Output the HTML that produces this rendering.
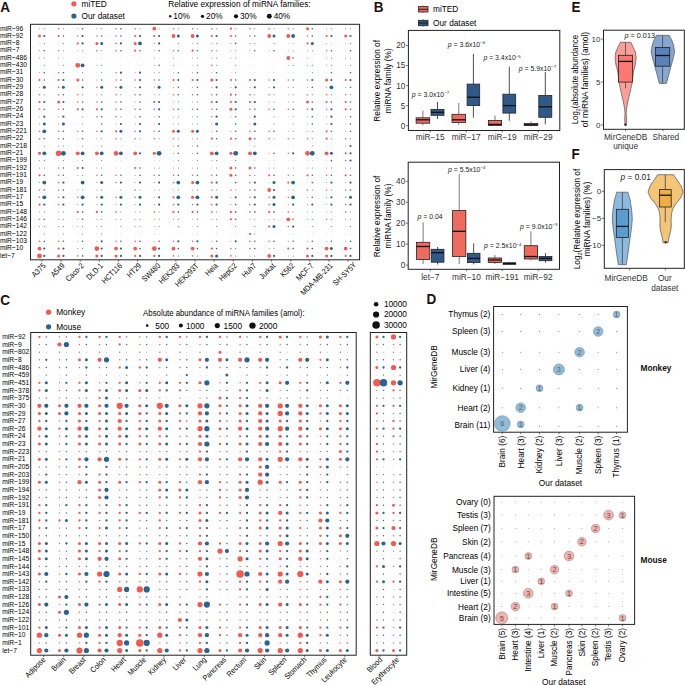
<!DOCTYPE html>
<html><head><meta charset="utf-8"><style>
html,body{margin:0;padding:0;background:#fff;overflow:hidden;width:685px;height:685px;}
svg{display:block;}
text{font-family:"Liberation Sans", sans-serif;}
</style></head><body>
<svg width="685" height="685" viewBox="0 0 685 685">
<rect width="685" height="685" fill="#fff"/>
<text x="0" y="0" font-size="15.2" transform="translate(0.30 11.80) scale(0.89 1)" font-weight="bold" fill="#1a1212">A</text>
<text x="0" y="0" font-size="15.2" transform="translate(373.80 12.10) scale(0.89 1)" font-weight="bold" fill="#1a1212">B</text>
<text x="0" y="0" font-size="15.2" transform="translate(0.30 304.60) scale(0.89 1)" font-weight="bold" fill="#1a1212">C</text>
<text x="0" y="0" font-size="15.2" transform="translate(426.50 304.20) scale(0.89 1)" font-weight="bold" fill="#1a1212">D</text>
<text x="0" y="0" font-size="15.2" transform="translate(571.60 12.30) scale(0.89 1)" font-weight="bold" fill="#1a1212">E</text>
<text x="0" y="0" font-size="15.2" transform="translate(571.40 158.90) scale(0.89 1)" font-weight="bold" fill="#1a1212">F</text>
<rect x="30.50" y="24.30" width="329.10" height="235.50" fill="none" stroke="#222" stroke-width="1.0"/>
<text x="0" y="0" font-size="7.6" transform="translate(0.00 30.50) scale(0.88 1)">miR−96</text>
<text x="0" y="0" font-size="7.6" transform="translate(0.00 37.83) scale(0.88 1)">miR−92</text>
<text x="0" y="0" font-size="7.6" transform="translate(0.00 45.16) scale(0.88 1)">miR−8</text>
<text x="0" y="0" font-size="7.6" transform="translate(0.00 52.49) scale(0.88 1)">miR−7</text>
<text x="0" y="0" font-size="7.6" transform="translate(0.00 59.82) scale(0.88 1)">miR−486</text>
<text x="0" y="0" font-size="7.6" transform="translate(0.00 67.15) scale(0.88 1)">miR−430</text>
<text x="0" y="0" font-size="7.6" transform="translate(0.00 74.48) scale(0.88 1)">miR−31</text>
<text x="0" y="0" font-size="7.6" transform="translate(0.00 81.81) scale(0.88 1)">miR−30</text>
<text x="0" y="0" font-size="7.6" transform="translate(0.00 89.14) scale(0.88 1)">miR−29</text>
<text x="0" y="0" font-size="7.6" transform="translate(0.00 96.47) scale(0.88 1)">miR−28</text>
<text x="0" y="0" font-size="7.6" transform="translate(0.00 103.80) scale(0.88 1)">miR−27</text>
<text x="0" y="0" font-size="7.6" transform="translate(0.00 111.13) scale(0.88 1)">miR−26</text>
<text x="0" y="0" font-size="7.6" transform="translate(0.00 118.46) scale(0.88 1)">miR−24</text>
<text x="0" y="0" font-size="7.6" transform="translate(0.00 125.79) scale(0.88 1)">miR−23</text>
<text x="0" y="0" font-size="7.6" transform="translate(0.00 133.12) scale(0.88 1)">miR−221</text>
<text x="0" y="0" font-size="7.6" transform="translate(0.00 140.45) scale(0.88 1)">miR−22</text>
<text x="0" y="0" font-size="7.6" transform="translate(0.00 147.78) scale(0.88 1)">miR−218</text>
<text x="0" y="0" font-size="7.6" transform="translate(0.00 155.11) scale(0.88 1)">miR−21</text>
<text x="0" y="0" font-size="7.6" transform="translate(0.00 162.44) scale(0.88 1)">miR−199</text>
<text x="0" y="0" font-size="7.6" transform="translate(0.00 169.77) scale(0.88 1)">miR−192</text>
<text x="0" y="0" font-size="7.6" transform="translate(0.00 177.10) scale(0.88 1)">miR−191</text>
<text x="0" y="0" font-size="7.6" transform="translate(0.00 184.43) scale(0.88 1)">miR−19</text>
<text x="0" y="0" font-size="7.6" transform="translate(0.00 191.76) scale(0.88 1)">miR−181</text>
<text x="0" y="0" font-size="7.6" transform="translate(0.00 199.09) scale(0.88 1)">miR−17</text>
<text x="0" y="0" font-size="7.6" transform="translate(0.00 206.42) scale(0.88 1)">miR−15</text>
<text x="0" y="0" font-size="7.6" transform="translate(0.00 213.75) scale(0.88 1)">miR−148</text>
<text x="0" y="0" font-size="7.6" transform="translate(0.00 221.08) scale(0.88 1)">miR−146</text>
<text x="0" y="0" font-size="7.6" transform="translate(0.00 228.41) scale(0.88 1)">miR−142</text>
<text x="0" y="0" font-size="7.6" transform="translate(0.00 235.74) scale(0.88 1)">miR−122</text>
<text x="0" y="0" font-size="7.6" transform="translate(0.00 243.07) scale(0.88 1)">miR−103</text>
<text x="0" y="0" font-size="7.6" transform="translate(0.00 250.40) scale(0.88 1)">miR−10</text>
<text x="0" y="0" font-size="7.6" transform="translate(0.00 257.73) scale(0.88 1)">let−7</text>
<line x1="41.90" y1="259.80" x2="41.90" y2="261.80" stroke="#222" stroke-width="0.6"/>
<text x="0" y="0" font-size="8.0" transform="translate(46.10 266.40) rotate(-45) scale(0.86 1)" text-anchor="end">A375</text>
<line x1="61.04" y1="259.80" x2="61.04" y2="261.80" stroke="#222" stroke-width="0.6"/>
<text x="0" y="0" font-size="8.0" transform="translate(65.24 266.40) rotate(-45) scale(0.86 1)" text-anchor="end">A549</text>
<line x1="80.18" y1="259.80" x2="80.18" y2="261.80" stroke="#222" stroke-width="0.6"/>
<text x="0" y="0" font-size="8.0" transform="translate(84.38 266.40) rotate(-45) scale(0.86 1)" text-anchor="end">Caco-2</text>
<line x1="99.32" y1="259.80" x2="99.32" y2="261.80" stroke="#222" stroke-width="0.6"/>
<text x="0" y="0" font-size="8.0" transform="translate(103.52 266.40) rotate(-45) scale(0.86 1)" text-anchor="end">DLD-1</text>
<line x1="118.46" y1="259.80" x2="118.46" y2="261.80" stroke="#222" stroke-width="0.6"/>
<text x="0" y="0" font-size="8.0" transform="translate(122.66 266.40) rotate(-45) scale(0.86 1)" text-anchor="end">HCT116</text>
<line x1="137.60" y1="259.80" x2="137.60" y2="261.80" stroke="#222" stroke-width="0.6"/>
<text x="0" y="0" font-size="8.0" transform="translate(141.80 266.40) rotate(-45) scale(0.86 1)" text-anchor="end">HT29</text>
<line x1="156.74" y1="259.80" x2="156.74" y2="261.80" stroke="#222" stroke-width="0.6"/>
<text x="0" y="0" font-size="8.0" transform="translate(160.94 266.40) rotate(-45) scale(0.86 1)" text-anchor="end">SW480</text>
<line x1="175.88" y1="259.80" x2="175.88" y2="261.80" stroke="#222" stroke-width="0.6"/>
<text x="0" y="0" font-size="8.0" transform="translate(180.08 266.40) rotate(-45) scale(0.86 1)" text-anchor="end">HEK293</text>
<line x1="195.02" y1="259.80" x2="195.02" y2="261.80" stroke="#222" stroke-width="0.6"/>
<text x="0" y="0" font-size="8.0" transform="translate(199.22 266.40) rotate(-45) scale(0.86 1)" text-anchor="end">HEK293T</text>
<line x1="214.16" y1="259.80" x2="214.16" y2="261.80" stroke="#222" stroke-width="0.6"/>
<text x="0" y="0" font-size="8.0" transform="translate(218.36 266.40) rotate(-45) scale(0.86 1)" text-anchor="end">Hela</text>
<line x1="233.30" y1="259.80" x2="233.30" y2="261.80" stroke="#222" stroke-width="0.6"/>
<text x="0" y="0" font-size="8.0" transform="translate(237.50 266.40) rotate(-45) scale(0.86 1)" text-anchor="end">HepG2</text>
<line x1="252.44" y1="259.80" x2="252.44" y2="261.80" stroke="#222" stroke-width="0.6"/>
<text x="0" y="0" font-size="8.0" transform="translate(256.64 266.40) rotate(-45) scale(0.86 1)" text-anchor="end">Huh7</text>
<line x1="271.58" y1="259.80" x2="271.58" y2="261.80" stroke="#222" stroke-width="0.6"/>
<text x="0" y="0" font-size="8.0" transform="translate(275.78 266.40) rotate(-45) scale(0.86 1)" text-anchor="end">Jurkat</text>
<line x1="290.72" y1="259.80" x2="290.72" y2="261.80" stroke="#222" stroke-width="0.6"/>
<text x="0" y="0" font-size="8.0" transform="translate(294.92 266.40) rotate(-45) scale(0.86 1)" text-anchor="end">K562</text>
<line x1="309.86" y1="259.80" x2="309.86" y2="261.80" stroke="#222" stroke-width="0.6"/>
<text x="0" y="0" font-size="8.0" transform="translate(314.06 266.40) rotate(-45) scale(0.86 1)" text-anchor="end">MCF-7</text>
<line x1="329.00" y1="259.80" x2="329.00" y2="261.80" stroke="#222" stroke-width="0.6"/>
<text x="0" y="0" font-size="8.0" transform="translate(333.20 266.40) rotate(-45) scale(0.86 1)" text-anchor="end">MDA-MB-231</text>
<line x1="348.14" y1="259.80" x2="348.14" y2="261.80" stroke="#222" stroke-width="0.6"/>
<text x="0" y="0" font-size="8.0" transform="translate(356.84 265.50) rotate(-45) scale(0.86 1)" text-anchor="end">SH-SY5Y</text>
<circle cx="73.90" cy="3.80" r="2.60" fill="#F4594F"/>
<text x="81.50" y="6.60" font-size="8.3">miTED</text>
<circle cx="73.90" cy="16.00" r="2.60" fill="#2A6390"/>
<text x="81.50" y="18.90" font-size="8.3">Our dataset</text>
<text x="168.20" y="6.60" font-size="8.3">Relative expression of miRNA families:</text>
<circle cx="170.20" cy="16.30" r="1.20" fill="#111"/>
<text x="173.30" y="19.10" font-size="8.3">10%</text>
<circle cx="202.50" cy="16.30" r="1.65" fill="#111"/>
<text x="206.05" y="19.10" font-size="8.3">20%</text>
<circle cx="236.00" cy="16.30" r="2.10" fill="#111"/>
<text x="240.00" y="19.10" font-size="8.3">30%</text>
<circle cx="269.30" cy="16.30" r="2.45" fill="#111"/>
<text x="273.65" y="19.10" font-size="8.3">40%</text>
<rect x="30.70" y="332.50" width="325.50" height="322.70" fill="none" stroke="#222" stroke-width="1.0"/>
<rect x="370.30" y="332.50" width="36.40" height="322.70" fill="none" stroke="#222" stroke-width="1.0"/>
<text x="0" y="0" font-size="7.8" transform="translate(2.20 339.00) scale(0.86 1)">miR−92</text>
<text x="0" y="0" font-size="7.8" transform="translate(2.20 346.65) scale(0.86 1)">miR−9</text>
<text x="0" y="0" font-size="7.8" transform="translate(2.20 354.30) scale(0.86 1)">miR−802</text>
<text x="0" y="0" font-size="7.8" transform="translate(2.20 361.95) scale(0.86 1)">miR−8</text>
<text x="0" y="0" font-size="7.8" transform="translate(2.20 369.60) scale(0.86 1)">miR−486</text>
<text x="0" y="0" font-size="7.8" transform="translate(2.20 377.25) scale(0.86 1)">miR−459</text>
<text x="0" y="0" font-size="7.8" transform="translate(2.20 384.90) scale(0.86 1)">miR−451</text>
<text x="0" y="0" font-size="7.8" transform="translate(2.20 392.55) scale(0.86 1)">miR−378</text>
<text x="0" y="0" font-size="7.8" transform="translate(2.20 400.20) scale(0.86 1)">miR−375</text>
<text x="0" y="0" font-size="7.8" transform="translate(2.20 407.85) scale(0.86 1)">miR−30</text>
<text x="0" y="0" font-size="7.8" transform="translate(2.20 415.50) scale(0.86 1)">miR−29</text>
<text x="0" y="0" font-size="7.8" transform="translate(2.20 423.15) scale(0.86 1)">miR−27</text>
<text x="0" y="0" font-size="7.8" transform="translate(2.20 430.80) scale(0.86 1)">miR−26</text>
<text x="0" y="0" font-size="7.8" transform="translate(2.20 438.45) scale(0.86 1)">miR−24</text>
<text x="0" y="0" font-size="7.8" transform="translate(2.20 446.10) scale(0.86 1)">miR−23</text>
<text x="0" y="0" font-size="7.8" transform="translate(2.20 453.75) scale(0.86 1)">miR−223</text>
<text x="0" y="0" font-size="7.8" transform="translate(2.20 461.40) scale(0.86 1)">miR−21</text>
<text x="0" y="0" font-size="7.8" transform="translate(2.20 469.05) scale(0.86 1)">miR−205</text>
<text x="0" y="0" font-size="7.8" transform="translate(2.20 476.70) scale(0.86 1)">miR−203</text>
<text x="0" y="0" font-size="7.8" transform="translate(2.20 484.35) scale(0.86 1)">miR−199</text>
<text x="0" y="0" font-size="7.8" transform="translate(2.20 492.00) scale(0.86 1)">miR−194</text>
<text x="0" y="0" font-size="7.8" transform="translate(2.20 499.65) scale(0.86 1)">miR−192</text>
<text x="0" y="0" font-size="7.8" transform="translate(2.20 507.30) scale(0.86 1)">miR−191</text>
<text x="0" y="0" font-size="7.8" transform="translate(2.20 514.95) scale(0.86 1)">miR−19</text>
<text x="0" y="0" font-size="7.8" transform="translate(2.20 522.60) scale(0.86 1)">miR−181</text>
<text x="0" y="0" font-size="7.8" transform="translate(2.20 530.25) scale(0.86 1)">miR−17</text>
<text x="0" y="0" font-size="7.8" transform="translate(2.20 537.90) scale(0.86 1)">miR−150</text>
<text x="0" y="0" font-size="7.8" transform="translate(2.20 545.55) scale(0.86 1)">miR−15</text>
<text x="0" y="0" font-size="7.8" transform="translate(2.20 553.20) scale(0.86 1)">miR−148</text>
<text x="0" y="0" font-size="7.8" transform="translate(2.20 560.85) scale(0.86 1)">miR−145</text>
<text x="0" y="0" font-size="7.8" transform="translate(2.20 568.50) scale(0.86 1)">miR−144</text>
<text x="0" y="0" font-size="7.8" transform="translate(2.20 576.15) scale(0.86 1)">miR−143</text>
<text x="0" y="0" font-size="7.8" transform="translate(2.20 583.80) scale(0.86 1)">miR−142</text>
<text x="0" y="0" font-size="7.8" transform="translate(2.20 591.45) scale(0.86 1)">miR−133</text>
<text x="0" y="0" font-size="7.8" transform="translate(2.20 599.10) scale(0.86 1)">miR−128</text>
<text x="0" y="0" font-size="7.8" transform="translate(2.20 606.75) scale(0.86 1)">miR−126</text>
<text x="0" y="0" font-size="7.8" transform="translate(2.20 614.40) scale(0.86 1)">miR−124</text>
<text x="0" y="0" font-size="7.8" transform="translate(2.20 622.05) scale(0.86 1)">miR−122</text>
<text x="0" y="0" font-size="7.8" transform="translate(2.20 629.70) scale(0.86 1)">miR−101</text>
<text x="0" y="0" font-size="7.8" transform="translate(2.20 637.35) scale(0.86 1)">miR−10</text>
<text x="0" y="0" font-size="7.8" transform="translate(2.20 645.00) scale(0.86 1)">miR−1</text>
<text x="0" y="0" font-size="7.8" transform="translate(2.20 652.65) scale(0.86 1)">let−7</text>
<line x1="43.70" y1="655.20" x2="43.70" y2="657.20" stroke="#222" stroke-width="0.6"/>
<text x="0" y="0" font-size="7.8" transform="translate(46.10 660.30) rotate(-45) scale(0.9 1)" text-anchor="end">Adipose</text>
<line x1="63.77" y1="655.20" x2="63.77" y2="657.20" stroke="#222" stroke-width="0.6"/>
<text x="0" y="0" font-size="7.8" transform="translate(66.17 660.30) rotate(-45) scale(0.9 1)" text-anchor="end">Brain</text>
<line x1="83.84" y1="655.20" x2="83.84" y2="657.20" stroke="#222" stroke-width="0.6"/>
<text x="0" y="0" font-size="7.8" transform="translate(86.24 660.30) rotate(-45) scale(0.9 1)" text-anchor="end">Breast</text>
<line x1="103.91" y1="655.20" x2="103.91" y2="657.20" stroke="#222" stroke-width="0.6"/>
<text x="0" y="0" font-size="7.8" transform="translate(106.31 660.30) rotate(-45) scale(0.9 1)" text-anchor="end">Colon</text>
<line x1="123.98" y1="655.20" x2="123.98" y2="657.20" stroke="#222" stroke-width="0.6"/>
<text x="0" y="0" font-size="7.8" transform="translate(126.38 660.30) rotate(-45) scale(0.9 1)" text-anchor="end">Heart</text>
<line x1="144.05" y1="655.20" x2="144.05" y2="657.20" stroke="#222" stroke-width="0.6"/>
<text x="0" y="0" font-size="7.8" transform="translate(146.45 660.30) rotate(-45) scale(0.9 1)" text-anchor="end">Muscle</text>
<line x1="164.12" y1="655.20" x2="164.12" y2="657.20" stroke="#222" stroke-width="0.6"/>
<text x="0" y="0" font-size="7.8" transform="translate(166.52 660.30) rotate(-45) scale(0.9 1)" text-anchor="end">Kidney</text>
<line x1="184.19" y1="655.20" x2="184.19" y2="657.20" stroke="#222" stroke-width="0.6"/>
<text x="0" y="0" font-size="7.8" transform="translate(186.59 660.30) rotate(-45) scale(0.9 1)" text-anchor="end">Liver</text>
<line x1="204.26" y1="655.20" x2="204.26" y2="657.20" stroke="#222" stroke-width="0.6"/>
<text x="0" y="0" font-size="7.8" transform="translate(206.66 660.30) rotate(-45) scale(0.9 1)" text-anchor="end">Lung</text>
<line x1="224.33" y1="655.20" x2="224.33" y2="657.20" stroke="#222" stroke-width="0.6"/>
<text x="0" y="0" font-size="7.8" transform="translate(226.73 660.30) rotate(-45) scale(0.9 1)" text-anchor="end">Pancreas</text>
<line x1="244.40" y1="655.20" x2="244.40" y2="657.20" stroke="#222" stroke-width="0.6"/>
<text x="0" y="0" font-size="7.8" transform="translate(246.80 660.30) rotate(-45) scale(0.9 1)" text-anchor="end">Rectum</text>
<line x1="264.47" y1="655.20" x2="264.47" y2="657.20" stroke="#222" stroke-width="0.6"/>
<text x="0" y="0" font-size="7.8" transform="translate(266.87 660.30) rotate(-45) scale(0.9 1)" text-anchor="end">Skin</text>
<line x1="284.54" y1="655.20" x2="284.54" y2="657.20" stroke="#222" stroke-width="0.6"/>
<text x="0" y="0" font-size="7.8" transform="translate(286.94 660.30) rotate(-45) scale(0.9 1)" text-anchor="end">Spleen</text>
<line x1="304.61" y1="655.20" x2="304.61" y2="657.20" stroke="#222" stroke-width="0.6"/>
<text x="0" y="0" font-size="7.8" transform="translate(307.01 660.30) rotate(-45) scale(0.9 1)" text-anchor="end">Stomach</text>
<line x1="324.68" y1="655.20" x2="324.68" y2="657.20" stroke="#222" stroke-width="0.6"/>
<text x="0" y="0" font-size="7.8" transform="translate(327.08 660.30) rotate(-45) scale(0.9 1)" text-anchor="end">Thymus</text>
<line x1="344.75" y1="655.20" x2="344.75" y2="657.20" stroke="#222" stroke-width="0.6"/>
<text x="0" y="0" font-size="7.8" transform="translate(347.15 660.30) rotate(-45) scale(0.9 1)" text-anchor="end">Leukocyte</text>
<line x1="380.10" y1="655.20" x2="380.10" y2="657.20" stroke="#222" stroke-width="0.6"/>
<text x="0" y="0" font-size="7.8" transform="translate(382.70 660.30) rotate(-45) scale(0.9 1)" text-anchor="end">Blood</text>
<line x1="396.90" y1="655.20" x2="396.90" y2="657.20" stroke="#222" stroke-width="0.6"/>
<text x="0" y="0" font-size="7.8" transform="translate(399.50 660.30) rotate(-45) scale(0.9 1)" text-anchor="end">Erythrocyte</text>
<circle cx="48.60" cy="312.20" r="2.60" fill="#F4594F"/>
<text x="56.20" y="315.10" font-size="8.3">Monkey</text>
<circle cx="48.60" cy="326.80" r="2.60" fill="#2A6390"/>
<text x="56.20" y="329.70" font-size="8.3">Mouse</text>
<text x="143.10" y="316.00" font-size="8.3" textLength="161.5" lengthAdjust="spacingAndGlyphs">Absolute abundance of miRNA families (amol):</text>
<circle cx="147.20" cy="325.60" r="1.30" fill="#111"/>
<text x="155.30" y="328.50" font-size="8.3">500</text>
<circle cx="180.90" cy="325.60" r="2.00" fill="#111"/>
<text x="186.00" y="328.50" font-size="8.3">1000</text>
<circle cx="217.30" cy="325.60" r="2.60" fill="#111"/>
<text x="223.60" y="328.50" font-size="8.3">1500</text>
<circle cx="252.50" cy="325.60" r="3.20" fill="#111"/>
<text x="258.90" y="328.50" font-size="8.3">2000</text>
<circle cx="376.10" cy="304.30" r="2.30" fill="#111"/>
<text x="383.90" y="307.20" font-size="8.3">10000</text>
<circle cx="376.10" cy="314.50" r="3.10" fill="#111"/>
<text x="383.90" y="317.40" font-size="8.3">20000</text>
<circle cx="376.10" cy="325.00" r="3.80" fill="#111"/>
<text x="383.90" y="327.90" font-size="8.3">30000</text>
<line x1="423.20" y1="5.70" x2="423.20" y2="12.90" stroke="#222" stroke-width="0.7"/>
<rect x="418.50" y="6.60" width="9.50" height="5.40" fill="#EE6A5F" stroke="#222" stroke-width="0.8"/>
<line x1="418.50" y1="9.30" x2="428.00" y2="9.30" stroke="#111" stroke-width="0.9"/>
<text x="433.00" y="12.30" font-size="8.3">miTED</text>
<line x1="423.20" y1="19.40" x2="423.20" y2="26.60" stroke="#222" stroke-width="0.7"/>
<rect x="418.50" y="20.30" width="9.50" height="5.40" fill="#30598A" stroke="#222" stroke-width="0.8"/>
<line x1="418.50" y1="23.00" x2="428.00" y2="23.00" stroke="#111" stroke-width="0.9"/>
<text x="433.00" y="26.00" font-size="8.3">Our dataset</text>
<rect x="408.40" y="30.40" width="151.40" height="100.10" fill="none" stroke="#222" stroke-width="1.0"/>
<line x1="406.00" y1="125.70" x2="408.40" y2="125.70" stroke="#222" stroke-width="0.6"/>
<text x="405.40" y="128.60" font-size="8.2" text-anchor="end" fill="#333">0</text>
<line x1="406.00" y1="105.65" x2="408.40" y2="105.65" stroke="#222" stroke-width="0.6"/>
<text x="405.40" y="108.55" font-size="8.2" text-anchor="end" fill="#333">5</text>
<line x1="406.00" y1="85.60" x2="408.40" y2="85.60" stroke="#222" stroke-width="0.6"/>
<text x="405.40" y="88.50" font-size="8.2" text-anchor="end" fill="#333">10</text>
<line x1="406.00" y1="65.55" x2="408.40" y2="65.55" stroke="#222" stroke-width="0.6"/>
<text x="405.40" y="68.45" font-size="8.2" text-anchor="end" fill="#333">15</text>
<line x1="406.00" y1="45.50" x2="408.40" y2="45.50" stroke="#222" stroke-width="0.6"/>
<text x="405.40" y="48.40" font-size="8.2" text-anchor="end" fill="#333">20</text>
<text x="380.00" y="80.80" font-size="8.3" text-anchor="middle" transform="rotate(-90 380.00 80.80)">Relative expression of</text>
<text x="391.00" y="80.80" font-size="8.3" text-anchor="middle" transform="rotate(-90 391.00 80.80)">miRNA family (%)</text>
<line x1="422.90" y1="110.60" x2="422.90" y2="117.80" stroke="#7a7a7a" stroke-width="1.0"/>
<line x1="422.90" y1="123.20" x2="422.90" y2="125.40" stroke="#7a7a7a" stroke-width="1.0"/>
<rect x="416.10" y="117.80" width="13.60" height="5.40" fill="#EE6A5F" stroke="#222" stroke-width="0.8"/>
<line x1="416.10" y1="119.80" x2="429.70" y2="119.80" stroke="#111" stroke-width="1.3"/>
<line x1="437.50" y1="101.90" x2="437.50" y2="109.40" stroke="#222" stroke-width="0.8"/>
<line x1="437.50" y1="115.30" x2="437.50" y2="119.00" stroke="#222" stroke-width="0.8"/>
<rect x="431.00" y="109.40" width="13.00" height="5.90" fill="#30598A" stroke="#222" stroke-width="0.8"/>
<line x1="431.00" y1="112.30" x2="444.00" y2="112.30" stroke="#111" stroke-width="1.3"/>
<line x1="458.80" y1="103.00" x2="458.80" y2="114.30" stroke="#7a7a7a" stroke-width="1.0"/>
<line x1="458.80" y1="122.40" x2="458.80" y2="124.90" stroke="#7a7a7a" stroke-width="1.0"/>
<rect x="452.00" y="114.30" width="13.60" height="8.10" fill="#EE6A5F" stroke="#222" stroke-width="0.8"/>
<line x1="452.00" y1="119.80" x2="465.60" y2="119.80" stroke="#111" stroke-width="1.3"/>
<line x1="473.40" y1="53.90" x2="473.40" y2="84.10" stroke="#222" stroke-width="0.8"/>
<line x1="473.40" y1="105.60" x2="473.40" y2="117.70" stroke="#222" stroke-width="0.8"/>
<rect x="467.10" y="84.10" width="12.60" height="21.50" fill="#30598A" stroke="#222" stroke-width="0.8"/>
<line x1="467.10" y1="97.20" x2="479.70" y2="97.20" stroke="#111" stroke-width="1.3"/>
<line x1="495.00" y1="115.60" x2="495.00" y2="120.40" stroke="#7a7a7a" stroke-width="1.0"/>
<line x1="495.00" y1="125.40" x2="495.00" y2="125.60" stroke="#7a7a7a" stroke-width="1.0"/>
<rect x="488.40" y="120.40" width="13.20" height="5.00" fill="#EE6A5F" stroke="#222" stroke-width="0.8"/>
<line x1="488.40" y1="124.40" x2="501.60" y2="124.40" stroke="#111" stroke-width="1.3"/>
<line x1="509.30" y1="66.60" x2="509.30" y2="94.20" stroke="#222" stroke-width="0.8"/>
<line x1="509.30" y1="113.10" x2="509.30" y2="120.70" stroke="#222" stroke-width="0.8"/>
<rect x="502.90" y="94.20" width="12.80" height="18.90" fill="#30598A" stroke="#222" stroke-width="0.8"/>
<line x1="502.90" y1="105.60" x2="515.70" y2="105.60" stroke="#111" stroke-width="1.3"/>
<line x1="531.00" y1="121.50" x2="531.00" y2="123.50" stroke="#7a7a7a" stroke-width="1.0"/>
<line x1="531.00" y1="125.40" x2="531.00" y2="125.70" stroke="#7a7a7a" stroke-width="1.0"/>
<rect x="524.20" y="123.50" width="13.60" height="1.90" fill="#EE6A5F" stroke="#222" stroke-width="0.8"/>
<line x1="524.20" y1="124.80" x2="537.80" y2="124.80" stroke="#111" stroke-width="1.3"/>
<line x1="545.30" y1="72.00" x2="545.30" y2="95.50" stroke="#222" stroke-width="0.8"/>
<line x1="545.30" y1="117.30" x2="545.30" y2="124.40" stroke="#222" stroke-width="0.8"/>
<rect x="538.80" y="95.50" width="13.00" height="21.80" fill="#30598A" stroke="#222" stroke-width="0.8"/>
<line x1="538.80" y1="106.80" x2="551.80" y2="106.80" stroke="#111" stroke-width="1.3"/>
<line x1="430.20" y1="130.50" x2="430.20" y2="132.50" stroke="#222" stroke-width="0.6"/>
<text x="430.20" y="140.30" font-size="8.3" text-anchor="middle" fill="#333">miR−15</text>
<line x1="466.20" y1="130.50" x2="466.20" y2="132.50" stroke="#222" stroke-width="0.6"/>
<text x="466.20" y="140.30" font-size="8.3" text-anchor="middle" fill="#333">miR−17</text>
<line x1="502.20" y1="130.50" x2="502.20" y2="132.50" stroke="#222" stroke-width="0.6"/>
<text x="502.20" y="140.30" font-size="8.3" text-anchor="middle" fill="#333">miR−19</text>
<line x1="538.20" y1="130.50" x2="538.20" y2="132.50" stroke="#222" stroke-width="0.6"/>
<text x="538.20" y="140.30" font-size="8.3" text-anchor="middle" fill="#333">miR−29</text>
<text x="411.80" y="96.50" font-size="6.9" fill="#222"><tspan font-style="italic">p</tspan> = 3.0x10<tspan font-size="4.4" dy="-2.7">−7</tspan></text>
<text x="447.80" y="47.00" font-size="6.9" fill="#222"><tspan font-style="italic">p</tspan> = 3.6x10<tspan font-size="4.4" dy="-2.7">−6</tspan></text>
<text x="483.40" y="60.40" font-size="6.9" fill="#222"><tspan font-style="italic">p</tspan> = 3.4x10<tspan font-size="4.4" dy="-2.7">−5</tspan></text>
<text x="518.70" y="70.50" font-size="6.9" fill="#222"><tspan font-style="italic">p</tspan> = 5.9x10<tspan font-size="4.4" dy="-2.7">−7</tspan></text>
<rect x="408.20" y="162.20" width="151.30" height="107.10" fill="none" stroke="#222" stroke-width="1.0"/>
<line x1="405.80" y1="265.10" x2="408.20" y2="265.10" stroke="#222" stroke-width="0.6"/>
<text x="405.20" y="268.00" font-size="8.2" text-anchor="end" fill="#333">0</text>
<line x1="405.80" y1="244.15" x2="408.20" y2="244.15" stroke="#222" stroke-width="0.6"/>
<text x="405.20" y="247.05" font-size="8.2" text-anchor="end" fill="#333">10</text>
<line x1="405.80" y1="223.20" x2="408.20" y2="223.20" stroke="#222" stroke-width="0.6"/>
<text x="405.20" y="226.10" font-size="8.2" text-anchor="end" fill="#333">20</text>
<line x1="405.80" y1="202.25" x2="408.20" y2="202.25" stroke="#222" stroke-width="0.6"/>
<text x="405.20" y="205.15" font-size="8.2" text-anchor="end" fill="#333">30</text>
<line x1="405.80" y1="181.30" x2="408.20" y2="181.30" stroke="#222" stroke-width="0.6"/>
<text x="405.20" y="184.20" font-size="8.2" text-anchor="end" fill="#333">40</text>
<text x="380.00" y="216.40" font-size="8.3" text-anchor="middle" transform="rotate(-90 380.00 216.40)">Relative expression of</text>
<text x="391.00" y="216.00" font-size="8.3" text-anchor="middle" transform="rotate(-90 391.00 216.00)">miRNA family (%)</text>
<line x1="423.10" y1="222.40" x2="423.10" y2="242.30" stroke="#7a7a7a" stroke-width="1.0"/>
<line x1="423.10" y1="259.40" x2="423.10" y2="264.10" stroke="#7a7a7a" stroke-width="1.0"/>
<rect x="416.45" y="242.30" width="13.30" height="17.10" fill="#EE6A5F" stroke="#222" stroke-width="0.8"/>
<line x1="416.45" y1="246.50" x2="429.75" y2="246.50" stroke="#111" stroke-width="1.3"/>
<line x1="437.60" y1="247.00" x2="437.60" y2="249.30" stroke="#222" stroke-width="0.8"/>
<line x1="437.60" y1="262.20" x2="437.60" y2="264.50" stroke="#222" stroke-width="0.8"/>
<rect x="431.25" y="249.30" width="12.70" height="12.90" fill="#30598A" stroke="#222" stroke-width="0.8"/>
<line x1="431.25" y1="252.70" x2="443.95" y2="252.70" stroke="#111" stroke-width="1.3"/>
<line x1="459.20" y1="174.00" x2="459.20" y2="210.60" stroke="#7a7a7a" stroke-width="1.0"/>
<line x1="459.20" y1="256.50" x2="459.20" y2="264.10" stroke="#7a7a7a" stroke-width="1.0"/>
<rect x="452.55" y="210.60" width="13.30" height="45.90" fill="#EE6A5F" stroke="#222" stroke-width="0.8"/>
<line x1="452.55" y1="231.30" x2="465.85" y2="231.30" stroke="#111" stroke-width="1.3"/>
<line x1="473.70" y1="243.30" x2="473.70" y2="253.30" stroke="#222" stroke-width="0.8"/>
<line x1="473.70" y1="262.60" x2="473.70" y2="264.40" stroke="#222" stroke-width="0.8"/>
<rect x="467.40" y="253.30" width="12.60" height="9.30" fill="#30598A" stroke="#222" stroke-width="0.8"/>
<line x1="467.40" y1="258.40" x2="480.00" y2="258.40" stroke="#111" stroke-width="1.3"/>
<line x1="494.90" y1="255.00" x2="494.90" y2="258.00" stroke="#7a7a7a" stroke-width="1.0"/>
<line x1="494.90" y1="262.40" x2="494.90" y2="264.00" stroke="#7a7a7a" stroke-width="1.0"/>
<rect x="488.25" y="258.00" width="13.30" height="4.40" fill="#EE6A5F" stroke="#222" stroke-width="0.8"/>
<line x1="488.25" y1="260.00" x2="501.55" y2="260.00" stroke="#111" stroke-width="1.3"/>
<line x1="509.40" y1="262.00" x2="509.40" y2="262.80" stroke="#222" stroke-width="0.8"/>
<line x1="509.40" y1="264.30" x2="509.40" y2="264.60" stroke="#222" stroke-width="0.8"/>
<rect x="503.05" y="262.80" width="12.70" height="1.50" fill="#30598A" stroke="#222" stroke-width="0.8"/>
<line x1="503.05" y1="263.50" x2="515.75" y2="263.50" stroke="#111" stroke-width="1.3"/>
<line x1="530.90" y1="231.30" x2="530.90" y2="245.70" stroke="#7a7a7a" stroke-width="1.0"/>
<line x1="530.90" y1="259.00" x2="530.90" y2="260.30" stroke="#7a7a7a" stroke-width="1.0"/>
<rect x="524.25" y="245.70" width="13.30" height="13.30" fill="#EE6A5F" stroke="#222" stroke-width="0.8"/>
<line x1="524.25" y1="256.50" x2="537.55" y2="256.50" stroke="#111" stroke-width="1.3"/>
<line x1="545.50" y1="253.10" x2="545.50" y2="256.50" stroke="#222" stroke-width="0.8"/>
<line x1="545.50" y1="260.70" x2="545.50" y2="262.60" stroke="#222" stroke-width="0.8"/>
<rect x="539.10" y="256.50" width="12.80" height="4.20" fill="#30598A" stroke="#222" stroke-width="0.8"/>
<line x1="539.10" y1="258.40" x2="551.90" y2="258.40" stroke="#111" stroke-width="1.3"/>
<line x1="430.30" y1="269.30" x2="430.30" y2="271.30" stroke="#222" stroke-width="0.6"/>
<text x="430.30" y="280.20" font-size="8.3" text-anchor="middle" fill="#333">let−7</text>
<line x1="466.40" y1="269.30" x2="466.40" y2="271.30" stroke="#222" stroke-width="0.6"/>
<text x="466.40" y="280.20" font-size="8.3" text-anchor="middle" fill="#333">miR−10</text>
<line x1="502.20" y1="269.30" x2="502.20" y2="271.30" stroke="#222" stroke-width="0.6"/>
<text x="502.20" y="280.20" font-size="8.3" text-anchor="middle" fill="#333">miR−191</text>
<line x1="538.20" y1="269.30" x2="538.20" y2="271.30" stroke="#222" stroke-width="0.6"/>
<text x="538.20" y="280.20" font-size="8.3" text-anchor="middle" fill="#333">miR−92</text>
<text x="417.50" y="219.40" font-size="6.9" fill="#222"><tspan font-style="italic">p</tspan> = 0.04<tspan font-size="4.4" dy="-2.7"></tspan></text>
<text x="448.00" y="171.90" font-size="6.9" fill="#222"><tspan font-style="italic">p</tspan> = 5.5x10<tspan font-size="4.4" dy="-2.7">−4</tspan></text>
<text x="484.10" y="248.40" font-size="6.9" fill="#222"><tspan font-style="italic">p</tspan> = 2.5x10<tspan font-size="4.4" dy="-2.7">−4</tspan></text>
<text x="520.00" y="228.90" font-size="6.9" fill="#222"><tspan font-style="italic">p</tspan> = 9.0x10<tspan font-size="4.4" dy="-2.7">−3</tspan></text>
<rect x="603.50" y="30.20" width="80.80" height="99.10" fill="none" stroke="#222" stroke-width="1.0"/>
<line x1="601.00" y1="124.90" x2="603.50" y2="124.90" stroke="#222" stroke-width="0.6"/>
<text x="600.40" y="127.70" font-size="8.0" text-anchor="end" fill="#333">0</text>
<line x1="601.00" y1="82.00" x2="603.50" y2="82.00" stroke="#222" stroke-width="0.6"/>
<text x="600.40" y="84.80" font-size="8.0" text-anchor="end" fill="#333">5</text>
<line x1="601.00" y1="39.10" x2="603.50" y2="39.10" stroke="#222" stroke-width="0.6"/>
<text x="600.40" y="41.90" font-size="8.0" text-anchor="end" fill="#333">10</text>
<text x="578.40" y="79.60" font-size="8.3" text-anchor="middle" transform="rotate(-90 578.40 79.60)" textLength="89.5" lengthAdjust="spacingAndGlyphs">Log<tspan font-size='5.5' dy='2'>2</tspan><tspan dy='-2'>(absolute abundance</tspan></text>
<text x="588.40" y="79.60" font-size="8.3" text-anchor="middle" transform="rotate(-90 588.40 79.60)" textLength="95.5" lengthAdjust="spacingAndGlyphs">of miRNA families) (amol)</text>
<path d="M630.80,42.30 L633.10,47.00 L635.40,52.00 L636.20,57.80 L635.40,64.00 L633.40,72.00 L632.20,82.60 L630.80,89.00 L629.20,96.00 L627.80,102.00 L626.70,108.00 L626.20,113.00 L626.50,119.00 L626.20,124.90 L625.00,124.90 L624.70,119.00 L625.00,113.00 L624.50,108.00 L623.40,102.00 L622.00,96.00 L620.40,89.00 L619.00,82.60 L617.80,72.00 L615.80,64.00 L615.00,57.80 L615.80,52.00 L618.10,47.00 L620.40,42.30Z" fill="#FC9F98" stroke="#555" stroke-width="0.7" stroke-linejoin="round"/>
<line x1="625.50" y1="42.30" x2="625.50" y2="55.30" stroke="#444" stroke-width="0.8"/>
<line x1="625.50" y1="82.10" x2="625.50" y2="88.20" stroke="#444" stroke-width="0.8"/>
<rect x="618.50" y="55.30" width="14.00" height="26.80" fill="#FC7870" stroke="#222" stroke-width="0.8"/>
<line x1="618.50" y1="61.40" x2="632.50" y2="61.40" stroke="#111" stroke-width="1.3"/>
<circle cx="625.50" cy="124.70" r="1.20" fill="#222"/>
<path d="M669.20,35.30 L671.70,40.00 L673.50,45.00 L674.70,51.70 L673.30,58.00 L671.10,66.00 L668.90,74.00 L666.50,83.40 L659.30,83.40 L656.90,74.00 L654.70,66.00 L652.50,58.00 L651.10,51.70 L652.30,45.00 L654.10,40.00 L656.60,35.30Z" fill="#88A7D0" stroke="#555" stroke-width="0.7" stroke-linejoin="round"/>
<line x1="662.60" y1="35.30" x2="662.60" y2="47.40" stroke="#444" stroke-width="0.8"/>
<line x1="662.60" y1="66.20" x2="662.60" y2="83.40" stroke="#444" stroke-width="0.8"/>
<rect x="655.45" y="47.40" width="14.30" height="18.80" fill="#5883B8" stroke="#222" stroke-width="0.8"/>
<line x1="655.45" y1="55.50" x2="669.75" y2="55.50" stroke="#111" stroke-width="1.3"/>
<text x="624.4" y="38.3" font-size="7.3" fill="#222"><tspan font-style="italic">p</tspan> = 0.013</text>
<line x1="625.50" y1="129.30" x2="625.50" y2="131.30" stroke="#222" stroke-width="0.6"/>
<line x1="663.00" y1="129.30" x2="663.00" y2="131.30" stroke="#222" stroke-width="0.6"/>
<text x="625.60" y="139.60" font-size="8.3" text-anchor="middle" fill="#333">MirGeneDB</text>
<text x="625.60" y="149.30" font-size="8.3" text-anchor="middle" fill="#333">unique</text>
<text x="665.80" y="139.60" font-size="8.3" text-anchor="middle" fill="#333">Shared</text>
<rect x="604.30" y="169.60" width="80.00" height="98.70" fill="none" stroke="#222" stroke-width="1.0"/>
<line x1="601.80" y1="191.30" x2="604.30" y2="191.30" stroke="#222" stroke-width="0.6"/>
<text x="601.20" y="194.10" font-size="8.0" text-anchor="end" fill="#333">0</text>
<line x1="601.80" y1="218.35" x2="604.30" y2="218.35" stroke="#222" stroke-width="0.6"/>
<text x="601.20" y="221.15" font-size="8.0" text-anchor="end" fill="#333">−5</text>
<line x1="601.80" y1="245.40" x2="604.30" y2="245.40" stroke="#222" stroke-width="0.6"/>
<text x="601.20" y="248.20" font-size="8.0" text-anchor="end" fill="#333">−10</text>
<text x="580.40" y="219.00" font-size="8.3" text-anchor="middle" transform="rotate(-90 580.40 219.00)" textLength="100.5" lengthAdjust="spacingAndGlyphs">Log<tspan font-size='5.5' dy='2'>2</tspan><tspan dy='-2'>(Relative expression of</tspan></text>
<text x="589.80" y="219.00" font-size="8.3" text-anchor="middle" transform="rotate(-90 589.80 219.00)" textLength="74.5" lengthAdjust="spacingAndGlyphs">miRNA families) (%)</text>
<path d="M627.90,192.20 L630.10,200.00 L631.70,210.00 L632.30,219.00 L631.50,228.00 L629.80,240.00 L628.20,252.00 L626.30,264.70 L618.30,264.70 L616.40,252.00 L614.80,240.00 L613.10,228.00 L612.30,219.00 L612.90,210.00 L614.50,200.00 L616.70,192.20Z" fill="#8DBAE0" stroke="#555" stroke-width="0.7" stroke-linejoin="round"/>
<line x1="622.40" y1="192.20" x2="622.40" y2="209.30" stroke="#444" stroke-width="0.8"/>
<line x1="622.40" y1="237.50" x2="622.40" y2="264.70" stroke="#444" stroke-width="0.8"/>
<rect x="616.35" y="209.30" width="12.10" height="28.20" fill="#5A9DD0" stroke="#222" stroke-width="0.8"/>
<line x1="616.35" y1="226.40" x2="628.45" y2="226.40" stroke="#111" stroke-width="1.3"/>
<path d="M673.60,174.70 L677.10,180.00 L681.10,186.00 L683.20,192.20 L680.60,198.00 L675.60,204.00 L672.40,210.00 L671.50,214.00 L671.10,220.00 L671.30,226.00 L670.90,230.00 L669.60,235.00 L668.60,239.00 L668.10,242.80 L663.10,242.80 L662.60,239.00 L661.60,235.00 L660.30,230.00 L659.90,226.00 L660.10,220.00 L659.70,214.00 L658.80,210.00 L655.60,204.00 L650.60,198.00 L648.00,192.20 L650.10,186.00 L654.10,180.00 L657.60,174.70Z" fill="#F4C477" stroke="#555" stroke-width="0.7" stroke-linejoin="round"/>
<line x1="665.30" y1="174.70" x2="665.30" y2="189.60" stroke="#444" stroke-width="0.8"/>
<line x1="665.30" y1="207.00" x2="665.30" y2="222.40" stroke="#444" stroke-width="0.8"/>
<rect x="659.40" y="189.60" width="11.80" height="17.40" fill="#EDAF45" stroke="#222" stroke-width="0.8"/>
<line x1="659.40" y1="195.20" x2="671.20" y2="195.20" stroke="#111" stroke-width="1.3"/>
<circle cx="665.60" cy="242.10" r="1.20" fill="#222"/>
<text x="620.6" y="179.8" font-size="8.3" fill="#222"><tspan font-style="italic">p</tspan> = 0.01</text>
<line x1="629.60" y1="268.30" x2="629.60" y2="270.30" stroke="#222" stroke-width="0.6"/>
<line x1="665.40" y1="268.30" x2="665.40" y2="270.30" stroke="#222" stroke-width="0.6"/>
<text x="626.20" y="281.00" font-size="8.3" text-anchor="middle" fill="#333">MirGeneDB</text>
<text x="664.80" y="281.00" font-size="8.3" text-anchor="middle" fill="#333">Our</text>
<text x="664.80" y="290.60" font-size="8.3" text-anchor="middle" fill="#333">dataset</text>
<rect x="493.60" y="306.50" width="133.80" height="125.70" fill="none" stroke="#222" stroke-width="1.0"/>
<text x="490.30" y="317.40" font-size="8.3" text-anchor="end">Thymus (2)</text>
<circle cx="502.30" cy="314.50" r="0.50" fill="#666"/>
<circle cx="520.70" cy="314.50" r="0.50" fill="#666"/>
<circle cx="539.50" cy="314.50" r="0.50" fill="#666"/>
<circle cx="558.90" cy="314.50" r="0.50" fill="#666"/>
<circle cx="579.60" cy="314.50" r="0.50" fill="#666"/>
<circle cx="598.20" cy="314.50" r="0.50" fill="#666"/>
<circle cx="616.60" cy="314.50" r="0.50" fill="#666"/>
<text x="490.30" y="334.40" font-size="8.3" text-anchor="end">Spleen (3)</text>
<circle cx="502.30" cy="331.50" r="0.50" fill="#666"/>
<circle cx="520.70" cy="331.50" r="0.50" fill="#666"/>
<circle cx="539.50" cy="331.50" r="0.50" fill="#666"/>
<circle cx="558.90" cy="331.50" r="0.50" fill="#666"/>
<circle cx="579.60" cy="331.50" r="0.50" fill="#666"/>
<circle cx="598.20" cy="331.50" r="0.50" fill="#666"/>
<circle cx="616.60" cy="331.50" r="0.50" fill="#666"/>
<text x="490.30" y="355.10" font-size="8.3" text-anchor="end">Muscle (3)</text>
<circle cx="502.30" cy="352.20" r="0.50" fill="#666"/>
<circle cx="520.70" cy="352.20" r="0.50" fill="#666"/>
<circle cx="539.50" cy="352.20" r="0.50" fill="#666"/>
<circle cx="558.90" cy="352.20" r="0.50" fill="#666"/>
<circle cx="579.60" cy="352.20" r="0.50" fill="#666"/>
<circle cx="598.20" cy="352.20" r="0.50" fill="#666"/>
<circle cx="616.60" cy="352.20" r="0.50" fill="#666"/>
<text x="490.30" y="372.30" font-size="8.3" text-anchor="end">Liver (4)</text>
<circle cx="502.30" cy="369.40" r="0.50" fill="#666"/>
<circle cx="520.70" cy="369.40" r="0.50" fill="#666"/>
<circle cx="539.50" cy="369.40" r="0.50" fill="#666"/>
<circle cx="558.90" cy="369.40" r="0.50" fill="#666"/>
<circle cx="579.60" cy="369.40" r="0.50" fill="#666"/>
<circle cx="598.20" cy="369.40" r="0.50" fill="#666"/>
<circle cx="616.60" cy="369.40" r="0.50" fill="#666"/>
<text x="490.30" y="391.10" font-size="8.3" text-anchor="end">Kidney (1)</text>
<circle cx="502.30" cy="388.20" r="0.50" fill="#666"/>
<circle cx="520.70" cy="388.20" r="0.50" fill="#666"/>
<circle cx="539.50" cy="388.20" r="0.50" fill="#666"/>
<circle cx="558.90" cy="388.20" r="0.50" fill="#666"/>
<circle cx="579.60" cy="388.20" r="0.50" fill="#666"/>
<circle cx="598.20" cy="388.20" r="0.50" fill="#666"/>
<circle cx="616.60" cy="388.20" r="0.50" fill="#666"/>
<text x="490.30" y="410.60" font-size="8.3" text-anchor="end">Heart (2)</text>
<circle cx="502.30" cy="407.70" r="0.50" fill="#666"/>
<circle cx="520.70" cy="407.70" r="0.50" fill="#666"/>
<circle cx="539.50" cy="407.70" r="0.50" fill="#666"/>
<circle cx="558.90" cy="407.70" r="0.50" fill="#666"/>
<circle cx="579.60" cy="407.70" r="0.50" fill="#666"/>
<circle cx="598.20" cy="407.70" r="0.50" fill="#666"/>
<circle cx="616.60" cy="407.70" r="0.50" fill="#666"/>
<text x="490.30" y="427.50" font-size="8.3" text-anchor="end">Brain (11)</text>
<circle cx="502.30" cy="426.20" r="0.50" fill="#666"/>
<circle cx="520.70" cy="426.20" r="0.50" fill="#666"/>
<circle cx="539.50" cy="426.20" r="0.50" fill="#666"/>
<circle cx="558.90" cy="426.20" r="0.50" fill="#666"/>
<circle cx="579.60" cy="426.20" r="0.50" fill="#666"/>
<circle cx="598.20" cy="426.20" r="0.50" fill="#666"/>
<circle cx="616.60" cy="426.20" r="0.50" fill="#666"/>
<line x1="502.30" y1="432.20" x2="502.30" y2="434.20" stroke="#222" stroke-width="0.6"/>
<text x="505.20" y="435.70" font-size="8.3" text-anchor="end" transform="rotate(-90 505.20 435.70)">Brain (6)</text>
<line x1="520.70" y1="432.20" x2="520.70" y2="434.20" stroke="#222" stroke-width="0.6"/>
<text x="523.60" y="435.70" font-size="8.3" text-anchor="end" transform="rotate(-90 523.60 435.70)">Heart (3)</text>
<line x1="539.50" y1="432.20" x2="539.50" y2="434.20" stroke="#222" stroke-width="0.6"/>
<text x="542.40" y="435.70" font-size="8.3" text-anchor="end" transform="rotate(-90 542.40 435.70)">Kidney (2)</text>
<line x1="558.90" y1="432.20" x2="558.90" y2="434.20" stroke="#222" stroke-width="0.6"/>
<text x="561.80" y="435.70" font-size="8.3" text-anchor="end" transform="rotate(-90 561.80 435.70)">Liver (3)</text>
<line x1="579.60" y1="432.20" x2="579.60" y2="434.20" stroke="#222" stroke-width="0.6"/>
<text x="582.50" y="435.70" font-size="8.3" text-anchor="end" transform="rotate(-90 582.50 435.70)">Muscle (2)</text>
<line x1="598.20" y1="432.20" x2="598.20" y2="434.20" stroke="#222" stroke-width="0.6"/>
<text x="601.10" y="435.70" font-size="8.3" text-anchor="end" transform="rotate(-90 601.10 435.70)">Spleen (3)</text>
<line x1="616.60" y1="432.20" x2="616.60" y2="434.20" stroke="#222" stroke-width="0.6"/>
<text x="619.50" y="435.70" font-size="8.3" text-anchor="end" transform="rotate(-90 619.50 435.70)">Thymus (1)</text>
<circle cx="502.30" cy="423.60" r="7.90" fill="#90BBDB" stroke="#7E8E9C" stroke-width="0.6"/>
<text x="502.30" y="426.20" font-size="7.3" text-anchor="middle" fill="#5a6068">6</text>
<circle cx="520.70" cy="424.40" r="3.40" fill="#90BBDB" stroke="#7E8E9C" stroke-width="0.6"/>
<text x="520.70" y="427.00" font-size="7.3" text-anchor="middle" fill="#5a6068">1</text>
<circle cx="520.70" cy="407.70" r="4.80" fill="#90BBDB" stroke="#7E8E9C" stroke-width="0.6"/>
<text x="520.70" y="410.30" font-size="7.3" text-anchor="middle" fill="#5a6068">2</text>
<circle cx="579.60" cy="407.70" r="3.40" fill="#90BBDB" stroke="#7E8E9C" stroke-width="0.6"/>
<text x="579.60" y="410.30" font-size="7.3" text-anchor="middle" fill="#5a6068">1</text>
<circle cx="539.50" cy="388.20" r="3.40" fill="#90BBDB" stroke="#7E8E9C" stroke-width="0.6"/>
<text x="539.50" y="390.80" font-size="7.3" text-anchor="middle" fill="#5a6068">1</text>
<circle cx="558.90" cy="369.40" r="5.50" fill="#90BBDB" stroke="#7E8E9C" stroke-width="0.6"/>
<text x="558.90" y="372.00" font-size="7.3" text-anchor="middle" fill="#5a6068">3</text>
<circle cx="579.60" cy="352.20" r="4.80" fill="#90BBDB" stroke="#7E8E9C" stroke-width="0.6"/>
<text x="579.60" y="354.80" font-size="7.3" text-anchor="middle" fill="#5a6068">2</text>
<circle cx="598.20" cy="331.50" r="4.80" fill="#90BBDB" stroke="#7E8E9C" stroke-width="0.6"/>
<text x="598.20" y="334.10" font-size="7.3" text-anchor="middle" fill="#5a6068">2</text>
<circle cx="616.60" cy="314.50" r="3.40" fill="#90BBDB" stroke="#7E8E9C" stroke-width="0.6"/>
<text x="616.60" y="317.10" font-size="7.3" text-anchor="middle" fill="#5a6068">1</text>
<text x="640.50" y="371.30" font-size="8.3" font-weight="bold" fill="#111">Monkey</text>
<text x="437.20" y="366.80" font-size="8.3" text-anchor="middle" transform="rotate(-90 437.20 366.80)">MirGeneDB</text>
<text x="560.50" y="486.00" font-size="8.3" text-anchor="middle">Our dataset</text>
<rect x="494.00" y="496.30" width="140.60" height="128.10" fill="none" stroke="#222" stroke-width="1.0"/>
<text x="490.70" y="504.90" font-size="8.3" text-anchor="end">Ovary (0)</text>
<circle cx="501.80" cy="502.00" r="0.50" fill="#999"/>
<circle cx="515.40" cy="502.00" r="0.50" fill="#999"/>
<circle cx="528.30" cy="502.00" r="0.50" fill="#999"/>
<circle cx="541.20" cy="502.00" r="0.50" fill="#999"/>
<circle cx="554.50" cy="502.00" r="0.50" fill="#999"/>
<circle cx="569.00" cy="502.00" r="0.50" fill="#999"/>
<circle cx="581.90" cy="502.00" r="0.50" fill="#999"/>
<circle cx="595.60" cy="502.00" r="0.50" fill="#999"/>
<circle cx="608.60" cy="502.00" r="0.50" fill="#999"/>
<circle cx="622.50" cy="502.00" r="0.50" fill="#999"/>
<text x="490.70" y="518.00" font-size="8.3" text-anchor="end">Testis (3)</text>
<circle cx="501.80" cy="515.10" r="0.50" fill="#999"/>
<circle cx="515.40" cy="515.10" r="0.50" fill="#999"/>
<circle cx="528.30" cy="515.10" r="0.50" fill="#999"/>
<circle cx="541.20" cy="515.10" r="0.50" fill="#999"/>
<circle cx="554.50" cy="515.10" r="0.50" fill="#999"/>
<circle cx="569.00" cy="515.10" r="0.50" fill="#999"/>
<circle cx="581.90" cy="515.10" r="0.50" fill="#999"/>
<circle cx="595.60" cy="515.10" r="0.50" fill="#999"/>
<circle cx="608.60" cy="515.10" r="0.50" fill="#999"/>
<circle cx="622.50" cy="515.10" r="0.50" fill="#999"/>
<text x="490.70" y="531.40" font-size="8.3" text-anchor="end">Spleen (7)</text>
<circle cx="501.80" cy="528.50" r="0.50" fill="#999"/>
<circle cx="515.40" cy="528.50" r="0.50" fill="#999"/>
<circle cx="528.30" cy="528.50" r="0.50" fill="#999"/>
<circle cx="541.20" cy="528.50" r="0.50" fill="#999"/>
<circle cx="554.50" cy="528.50" r="0.50" fill="#999"/>
<circle cx="569.00" cy="528.50" r="0.50" fill="#999"/>
<circle cx="581.90" cy="528.50" r="0.50" fill="#999"/>
<circle cx="595.60" cy="528.50" r="0.50" fill="#999"/>
<circle cx="608.60" cy="528.50" r="0.50" fill="#999"/>
<circle cx="622.50" cy="528.50" r="0.50" fill="#999"/>
<text x="490.70" y="544.70" font-size="8.3" text-anchor="end">Skin (2)</text>
<circle cx="501.80" cy="541.80" r="0.50" fill="#999"/>
<circle cx="515.40" cy="541.80" r="0.50" fill="#999"/>
<circle cx="528.30" cy="541.80" r="0.50" fill="#999"/>
<circle cx="541.20" cy="541.80" r="0.50" fill="#999"/>
<circle cx="554.50" cy="541.80" r="0.50" fill="#999"/>
<circle cx="569.00" cy="541.80" r="0.50" fill="#999"/>
<circle cx="581.90" cy="541.80" r="0.50" fill="#999"/>
<circle cx="595.60" cy="541.80" r="0.50" fill="#999"/>
<circle cx="608.60" cy="541.80" r="0.50" fill="#999"/>
<circle cx="622.50" cy="541.80" r="0.50" fill="#999"/>
<text x="490.70" y="558.90" font-size="8.3" text-anchor="end">Pancreas (4)</text>
<circle cx="501.80" cy="556.00" r="0.50" fill="#999"/>
<circle cx="515.40" cy="556.00" r="0.50" fill="#999"/>
<circle cx="528.30" cy="556.00" r="0.50" fill="#999"/>
<circle cx="541.20" cy="556.00" r="0.50" fill="#999"/>
<circle cx="554.50" cy="556.00" r="0.50" fill="#999"/>
<circle cx="569.00" cy="556.00" r="0.50" fill="#999"/>
<circle cx="581.90" cy="556.00" r="0.50" fill="#999"/>
<circle cx="595.60" cy="556.00" r="0.50" fill="#999"/>
<circle cx="608.60" cy="556.00" r="0.50" fill="#999"/>
<circle cx="622.50" cy="556.00" r="0.50" fill="#999"/>
<text x="490.70" y="572.50" font-size="8.3" text-anchor="end">Muscle (3)</text>
<circle cx="501.80" cy="569.60" r="0.50" fill="#999"/>
<circle cx="515.40" cy="569.60" r="0.50" fill="#999"/>
<circle cx="528.30" cy="569.60" r="0.50" fill="#999"/>
<circle cx="541.20" cy="569.60" r="0.50" fill="#999"/>
<circle cx="554.50" cy="569.60" r="0.50" fill="#999"/>
<circle cx="569.00" cy="569.60" r="0.50" fill="#999"/>
<circle cx="581.90" cy="569.60" r="0.50" fill="#999"/>
<circle cx="595.60" cy="569.60" r="0.50" fill="#999"/>
<circle cx="608.60" cy="569.60" r="0.50" fill="#999"/>
<circle cx="622.50" cy="569.60" r="0.50" fill="#999"/>
<text x="490.70" y="584.20" font-size="8.3" text-anchor="end">Liver (1)</text>
<circle cx="501.80" cy="581.30" r="0.50" fill="#999"/>
<circle cx="515.40" cy="581.30" r="0.50" fill="#999"/>
<circle cx="528.30" cy="581.30" r="0.50" fill="#999"/>
<circle cx="541.20" cy="581.30" r="0.50" fill="#999"/>
<circle cx="554.50" cy="581.30" r="0.50" fill="#999"/>
<circle cx="569.00" cy="581.30" r="0.50" fill="#999"/>
<circle cx="581.90" cy="581.30" r="0.50" fill="#999"/>
<circle cx="595.60" cy="581.30" r="0.50" fill="#999"/>
<circle cx="608.60" cy="581.30" r="0.50" fill="#999"/>
<circle cx="622.50" cy="581.30" r="0.50" fill="#999"/>
<text x="490.70" y="596.20" font-size="8.3" text-anchor="end">Intestine (5)</text>
<circle cx="501.80" cy="593.30" r="0.50" fill="#999"/>
<circle cx="515.40" cy="593.30" r="0.50" fill="#999"/>
<circle cx="528.30" cy="593.30" r="0.50" fill="#999"/>
<circle cx="541.20" cy="593.30" r="0.50" fill="#999"/>
<circle cx="554.50" cy="593.30" r="0.50" fill="#999"/>
<circle cx="569.00" cy="593.30" r="0.50" fill="#999"/>
<circle cx="581.90" cy="593.30" r="0.50" fill="#999"/>
<circle cx="595.60" cy="593.30" r="0.50" fill="#999"/>
<circle cx="608.60" cy="593.30" r="0.50" fill="#999"/>
<circle cx="622.50" cy="593.30" r="0.50" fill="#999"/>
<text x="490.70" y="609.50" font-size="8.3" text-anchor="end">Heart (2)</text>
<circle cx="501.80" cy="606.60" r="0.50" fill="#999"/>
<circle cx="515.40" cy="606.60" r="0.50" fill="#999"/>
<circle cx="528.30" cy="606.60" r="0.50" fill="#999"/>
<circle cx="541.20" cy="606.60" r="0.50" fill="#999"/>
<circle cx="554.50" cy="606.60" r="0.50" fill="#999"/>
<circle cx="569.00" cy="606.60" r="0.50" fill="#999"/>
<circle cx="581.90" cy="606.60" r="0.50" fill="#999"/>
<circle cx="595.60" cy="606.60" r="0.50" fill="#999"/>
<circle cx="608.60" cy="606.60" r="0.50" fill="#999"/>
<circle cx="622.50" cy="606.60" r="0.50" fill="#999"/>
<text x="490.70" y="620.80" font-size="8.3" text-anchor="end">Brain (9)</text>
<circle cx="501.80" cy="617.90" r="0.50" fill="#999"/>
<circle cx="515.40" cy="617.90" r="0.50" fill="#999"/>
<circle cx="528.30" cy="617.90" r="0.50" fill="#999"/>
<circle cx="541.20" cy="617.90" r="0.50" fill="#999"/>
<circle cx="554.50" cy="617.90" r="0.50" fill="#999"/>
<circle cx="569.00" cy="617.90" r="0.50" fill="#999"/>
<circle cx="581.90" cy="617.90" r="0.50" fill="#999"/>
<circle cx="595.60" cy="617.90" r="0.50" fill="#999"/>
<circle cx="608.60" cy="617.90" r="0.50" fill="#999"/>
<circle cx="622.50" cy="617.90" r="0.50" fill="#999"/>
<line x1="501.80" y1="624.40" x2="501.80" y2="626.40" stroke="#222" stroke-width="0.6"/>
<text x="504.70" y="627.90" font-size="8.3" text-anchor="end" transform="rotate(-90 504.70 627.90)">Brain (5)</text>
<line x1="515.40" y1="624.40" x2="515.40" y2="626.40" stroke="#222" stroke-width="0.6"/>
<text x="518.30" y="627.90" font-size="8.3" text-anchor="end" transform="rotate(-90 518.30 627.90)">Heart (3)</text>
<line x1="528.30" y1="624.40" x2="528.30" y2="626.40" stroke="#222" stroke-width="0.6"/>
<text x="531.20" y="627.90" font-size="8.3" text-anchor="end" transform="rotate(-90 531.20 627.90)">Intestine (4)</text>
<line x1="541.20" y1="624.40" x2="541.20" y2="626.40" stroke="#222" stroke-width="0.6"/>
<text x="544.10" y="627.90" font-size="8.3" text-anchor="end" transform="rotate(-90 544.10 627.90)">Liver (1)</text>
<line x1="554.50" y1="624.40" x2="554.50" y2="626.40" stroke="#222" stroke-width="0.6"/>
<text x="557.40" y="627.90" font-size="8.3" text-anchor="end" transform="rotate(-90 557.40 627.90)">Muscle (2)</text>
<line x1="569.00" y1="624.40" x2="569.00" y2="626.40" stroke="#222" stroke-width="0.6"/>
<text x="571.90" y="627.90" font-size="8.3" text-anchor="end" transform="rotate(-90 571.90 627.90)">Pancreas (3)</text>
<line x1="581.90" y1="624.40" x2="581.90" y2="626.40" stroke="#222" stroke-width="0.6"/>
<text x="584.80" y="627.90" font-size="8.3" text-anchor="end" transform="rotate(-90 584.80 627.90)">Skin (2)</text>
<line x1="595.60" y1="624.40" x2="595.60" y2="626.40" stroke="#222" stroke-width="0.6"/>
<text x="598.50" y="627.90" font-size="8.3" text-anchor="end" transform="rotate(-90 598.50 627.90)">Spleen (2)</text>
<line x1="608.60" y1="624.40" x2="608.60" y2="626.40" stroke="#222" stroke-width="0.6"/>
<text x="611.50" y="627.90" font-size="8.3" text-anchor="end" transform="rotate(-90 611.50 627.90)">Testis (3)</text>
<line x1="622.50" y1="624.40" x2="622.50" y2="626.40" stroke="#222" stroke-width="0.6"/>
<text x="625.40" y="627.90" font-size="8.3" text-anchor="end" transform="rotate(-90 625.40 627.90)">Ovary (2)</text>
<circle cx="501.80" cy="617.90" r="6.05" fill="#F4B1AE" stroke="#A08C8B" stroke-width="0.6"/>
<text x="501.80" y="620.50" font-size="7.3" text-anchor="middle" fill="#5a4a4a">5</text>
<circle cx="622.50" cy="617.90" r="3.40" fill="#F4B1AE" stroke="#A08C8B" stroke-width="0.6"/>
<text x="622.50" y="620.50" font-size="7.3" text-anchor="middle" fill="#5a4a4a">1</text>
<circle cx="515.40" cy="606.60" r="4.30" fill="#F4B1AE" stroke="#A08C8B" stroke-width="0.6"/>
<text x="515.40" y="609.20" font-size="7.3" text-anchor="middle" fill="#5a4a4a">2</text>
<circle cx="554.50" cy="606.60" r="3.40" fill="#F4B1AE" stroke="#A08C8B" stroke-width="0.6"/>
<text x="554.50" y="609.20" font-size="7.3" text-anchor="middle" fill="#5a4a4a">1</text>
<circle cx="528.30" cy="593.30" r="4.90" fill="#F4B1AE" stroke="#A08C8B" stroke-width="0.6"/>
<text x="528.30" y="595.90" font-size="7.3" text-anchor="middle" fill="#5a4a4a">3</text>
<circle cx="569.00" cy="593.30" r="3.40" fill="#F4B1AE" stroke="#A08C8B" stroke-width="0.6"/>
<text x="569.00" y="595.90" font-size="7.3" text-anchor="middle" fill="#5a4a4a">1</text>
<circle cx="541.20" cy="581.30" r="3.40" fill="#F4B1AE" stroke="#A08C8B" stroke-width="0.6"/>
<text x="541.20" y="583.90" font-size="7.3" text-anchor="middle" fill="#5a4a4a">1</text>
<circle cx="515.40" cy="569.60" r="3.40" fill="#F4B1AE" stroke="#A08C8B" stroke-width="0.6"/>
<text x="515.40" y="572.20" font-size="7.3" text-anchor="middle" fill="#5a4a4a">1</text>
<circle cx="554.50" cy="569.60" r="4.30" fill="#F4B1AE" stroke="#A08C8B" stroke-width="0.6"/>
<text x="554.50" y="572.20" font-size="7.3" text-anchor="middle" fill="#5a4a4a">2</text>
<circle cx="528.30" cy="556.00" r="3.40" fill="#F4B1AE" stroke="#A08C8B" stroke-width="0.6"/>
<text x="528.30" y="558.60" font-size="7.3" text-anchor="middle" fill="#5a4a4a">1</text>
<circle cx="569.00" cy="556.00" r="4.90" fill="#F4B1AE" stroke="#A08C8B" stroke-width="0.6"/>
<text x="569.00" y="558.60" font-size="7.3" text-anchor="middle" fill="#5a4a4a">3</text>
<circle cx="581.90" cy="541.80" r="4.30" fill="#F4B1AE" stroke="#A08C8B" stroke-width="0.6"/>
<text x="581.90" y="544.40" font-size="7.3" text-anchor="middle" fill="#5a4a4a">2</text>
<circle cx="595.60" cy="528.50" r="4.30" fill="#F4B1AE" stroke="#A08C8B" stroke-width="0.6"/>
<text x="595.60" y="531.10" font-size="7.3" text-anchor="middle" fill="#5a4a4a">2</text>
<circle cx="608.60" cy="515.10" r="4.90" fill="#F4B1AE" stroke="#A08C8B" stroke-width="0.6"/>
<text x="608.60" y="517.70" font-size="7.3" text-anchor="middle" fill="#5a4a4a">3</text>
<circle cx="622.50" cy="515.10" r="3.40" fill="#F4B1AE" stroke="#A08C8B" stroke-width="0.6"/>
<text x="622.50" y="517.70" font-size="7.3" text-anchor="middle" fill="#5a4a4a">1</text>
<text x="640.50" y="562.80" font-size="8.3" font-weight="bold" fill="#111">Mouse</text>
<text x="437.20" y="559.20" font-size="8.3" text-anchor="middle" transform="rotate(-90 437.20 559.20)">MirGeneDB</text>
<text x="563.80" y="684.60" font-size="8.3" text-anchor="middle">Our dataset</text>
<circle cx="39.5" cy="28.7" r="0.5" fill="#F4594F"/>
<circle cx="44.3" cy="28.7" r="0.5" fill="#2A6390"/>
<circle cx="58.6" cy="28.7" r="0.8" fill="#F4594F"/>
<circle cx="63.4" cy="28.7" r="0.5" fill="#2A6390"/>
<circle cx="77.8" cy="28.7" r="0.5" fill="#F4594F"/>
<circle cx="82.6" cy="28.7" r="0.8" fill="#2A6390"/>
<circle cx="96.9" cy="28.7" r="0.5" fill="#F4594F"/>
<circle cx="101.7" cy="28.7" r="0.5" fill="#2A6390"/>
<circle cx="116.1" cy="28.7" r="0.8" fill="#F4594F"/>
<circle cx="120.9" cy="28.7" r="0.8" fill="#2A6390"/>
<circle cx="135.2" cy="28.7" r="0.8" fill="#F4594F"/>
<circle cx="140.0" cy="28.7" r="0.5" fill="#2A6390"/>
<circle cx="154.3" cy="28.7" r="1.9" fill="#F4594F"/>
<circle cx="159.1" cy="28.7" r="0.5" fill="#2A6390"/>
<circle cx="173.5" cy="28.7" r="0.8" fill="#F4594F"/>
<circle cx="178.3" cy="28.7" r="0.5" fill="#2A6390"/>
<circle cx="192.6" cy="28.7" r="0.8" fill="#F4594F"/>
<circle cx="197.4" cy="28.7" r="0.5" fill="#2A6390"/>
<circle cx="211.8" cy="28.7" r="0.8" fill="#F4594F"/>
<circle cx="216.6" cy="28.7" r="0.5" fill="#2A6390"/>
<circle cx="230.9" cy="28.7" r="1.1" fill="#F4594F"/>
<circle cx="235.7" cy="28.7" r="0.5" fill="#2A6390"/>
<circle cx="250.0" cy="28.7" r="0.8" fill="#F4594F"/>
<circle cx="254.8" cy="28.7" r="0.5" fill="#2A6390"/>
<circle cx="269.2" cy="28.7" r="0.8" fill="#F4594F"/>
<circle cx="274.0" cy="28.7" r="0.5" fill="#2A6390"/>
<circle cx="288.3" cy="28.7" r="0.8" fill="#F4594F"/>
<circle cx="293.1" cy="28.7" r="0.5" fill="#2A6390"/>
<circle cx="307.5" cy="28.7" r="1.5" fill="#F4594F"/>
<circle cx="312.3" cy="28.7" r="0.8" fill="#2A6390"/>
<circle cx="326.6" cy="28.7" r="0.5" fill="#F4594F"/>
<circle cx="331.4" cy="28.7" r="0.5" fill="#2A6390"/>
<circle cx="345.7" cy="28.7" r="0.5" fill="#F4594F"/>
<circle cx="350.5" cy="28.7" r="0.5" fill="#2A6390"/>
<circle cx="39.5" cy="36.0" r="1.5" fill="#F4594F"/>
<circle cx="44.3" cy="36.0" r="1.1" fill="#2A6390"/>
<circle cx="58.6" cy="36.0" r="1.1" fill="#F4594F"/>
<circle cx="63.4" cy="36.0" r="0.8" fill="#2A6390"/>
<circle cx="77.8" cy="36.0" r="0.8" fill="#F4594F"/>
<circle cx="82.6" cy="36.0" r="1.1" fill="#2A6390"/>
<circle cx="96.9" cy="36.0" r="0.8" fill="#F4594F"/>
<circle cx="101.7" cy="36.0" r="0.8" fill="#2A6390"/>
<circle cx="116.1" cy="36.0" r="0.8" fill="#F4594F"/>
<circle cx="120.9" cy="36.0" r="0.8" fill="#2A6390"/>
<circle cx="135.2" cy="36.0" r="1.1" fill="#F4594F"/>
<circle cx="140.0" cy="36.0" r="1.1" fill="#2A6390"/>
<circle cx="154.3" cy="36.0" r="1.1" fill="#F4594F"/>
<circle cx="159.1" cy="36.0" r="1.1" fill="#2A6390"/>
<circle cx="173.5" cy="36.0" r="1.9" fill="#F4594F"/>
<circle cx="178.3" cy="36.0" r="1.5" fill="#2A6390"/>
<circle cx="192.6" cy="36.0" r="1.9" fill="#F4594F"/>
<circle cx="197.4" cy="36.0" r="1.5" fill="#2A6390"/>
<circle cx="211.8" cy="36.0" r="1.1" fill="#F4594F"/>
<circle cx="216.6" cy="36.0" r="1.1" fill="#2A6390"/>
<circle cx="230.9" cy="36.0" r="1.1" fill="#F4594F"/>
<circle cx="235.7" cy="36.0" r="0.8" fill="#2A6390"/>
<circle cx="250.0" cy="36.0" r="0.8" fill="#F4594F"/>
<circle cx="254.8" cy="36.0" r="0.8" fill="#2A6390"/>
<circle cx="269.2" cy="36.0" r="1.9" fill="#F4594F"/>
<circle cx="274.0" cy="36.0" r="1.5" fill="#2A6390"/>
<circle cx="288.3" cy="36.0" r="1.9" fill="#F4594F"/>
<circle cx="293.1" cy="36.0" r="1.9" fill="#2A6390"/>
<circle cx="307.5" cy="36.0" r="0.8" fill="#F4594F"/>
<circle cx="312.3" cy="36.0" r="0.8" fill="#2A6390"/>
<circle cx="326.6" cy="36.0" r="1.1" fill="#F4594F"/>
<circle cx="331.4" cy="36.0" r="1.1" fill="#2A6390"/>
<circle cx="345.7" cy="36.0" r="1.5" fill="#F4594F"/>
<circle cx="350.5" cy="36.0" r="1.1" fill="#2A6390"/>
<circle cx="39.5" cy="43.4" r="0.28" fill="#F4594F"/>
<circle cx="44.3" cy="43.4" r="0.5" fill="#2A6390"/>
<circle cx="58.6" cy="43.4" r="0.28" fill="#F4594F"/>
<circle cx="63.4" cy="43.4" r="0.5" fill="#2A6390"/>
<circle cx="77.8" cy="43.4" r="1.1" fill="#F4594F"/>
<circle cx="82.6" cy="43.4" r="1.1" fill="#2A6390"/>
<circle cx="96.9" cy="43.4" r="1.5" fill="#F4594F"/>
<circle cx="101.7" cy="43.4" r="1.5" fill="#2A6390"/>
<circle cx="116.1" cy="43.4" r="0.8" fill="#F4594F"/>
<circle cx="120.9" cy="43.4" r="1.1" fill="#2A6390"/>
<circle cx="135.2" cy="43.4" r="1.5" fill="#F4594F"/>
<circle cx="140.0" cy="43.4" r="1.9" fill="#2A6390"/>
<circle cx="154.3" cy="43.4" r="0.5" fill="#F4594F"/>
<circle cx="159.1" cy="43.4" r="1.1" fill="#2A6390"/>
<circle cx="173.5" cy="43.4" r="0.28" fill="#F4594F"/>
<circle cx="178.3" cy="43.4" r="0.5" fill="#2A6390"/>
<circle cx="192.6" cy="43.4" r="0.28" fill="#F4594F"/>
<circle cx="197.4" cy="43.4" r="0.5" fill="#2A6390"/>
<circle cx="211.8" cy="43.4" r="0.5" fill="#F4594F"/>
<circle cx="216.6" cy="43.4" r="0.5" fill="#2A6390"/>
<circle cx="230.9" cy="43.4" r="0.5" fill="#F4594F"/>
<circle cx="235.7" cy="43.4" r="0.8" fill="#2A6390"/>
<circle cx="250.0" cy="43.4" r="0.5" fill="#F4594F"/>
<circle cx="254.8" cy="43.4" r="0.5" fill="#2A6390"/>
<circle cx="269.2" cy="43.4" r="0.28" fill="#F4594F"/>
<circle cx="274.0" cy="43.4" r="0.5" fill="#2A6390"/>
<circle cx="288.3" cy="43.4" r="0.28" fill="#F4594F"/>
<circle cx="293.1" cy="43.4" r="0.28" fill="#2A6390"/>
<circle cx="307.5" cy="43.4" r="1.1" fill="#F4594F"/>
<circle cx="312.3" cy="43.4" r="1.5" fill="#2A6390"/>
<circle cx="326.6" cy="43.4" r="0.5" fill="#F4594F"/>
<circle cx="331.4" cy="43.4" r="0.28" fill="#2A6390"/>
<circle cx="345.7" cy="43.4" r="0.28" fill="#F4594F"/>
<circle cx="350.5" cy="43.4" r="0.5" fill="#2A6390"/>
<circle cx="39.5" cy="50.7" r="0.5" fill="#F4594F"/>
<circle cx="44.3" cy="50.7" r="0.8" fill="#2A6390"/>
<circle cx="58.6" cy="50.7" r="0.8" fill="#F4594F"/>
<circle cx="63.4" cy="50.7" r="0.5" fill="#2A6390"/>
<circle cx="77.8" cy="50.7" r="0.5" fill="#F4594F"/>
<circle cx="82.6" cy="50.7" r="0.5" fill="#2A6390"/>
<circle cx="96.9" cy="50.7" r="0.8" fill="#F4594F"/>
<circle cx="101.7" cy="50.7" r="0.5" fill="#2A6390"/>
<circle cx="116.1" cy="50.7" r="0.8" fill="#F4594F"/>
<circle cx="120.9" cy="50.7" r="0.8" fill="#2A6390"/>
<circle cx="135.2" cy="50.7" r="1.1" fill="#F4594F"/>
<circle cx="140.0" cy="50.7" r="0.8" fill="#2A6390"/>
<circle cx="154.3" cy="50.7" r="0.5" fill="#F4594F"/>
<circle cx="159.1" cy="50.7" r="0.8" fill="#2A6390"/>
<circle cx="173.5" cy="50.7" r="0.8" fill="#F4594F"/>
<circle cx="178.3" cy="50.7" r="0.8" fill="#2A6390"/>
<circle cx="192.6" cy="50.7" r="1.1" fill="#F4594F"/>
<circle cx="197.4" cy="50.7" r="0.8" fill="#2A6390"/>
<circle cx="211.8" cy="50.7" r="0.8" fill="#F4594F"/>
<circle cx="216.6" cy="50.7" r="0.5" fill="#2A6390"/>
<circle cx="230.9" cy="50.7" r="0.5" fill="#F4594F"/>
<circle cx="235.7" cy="50.7" r="0.5" fill="#2A6390"/>
<circle cx="250.0" cy="50.7" r="0.5" fill="#F4594F"/>
<circle cx="254.8" cy="50.7" r="0.8" fill="#2A6390"/>
<circle cx="269.2" cy="50.7" r="0.5" fill="#F4594F"/>
<circle cx="274.0" cy="50.7" r="0.8" fill="#2A6390"/>
<circle cx="288.3" cy="50.7" r="0.5" fill="#F4594F"/>
<circle cx="293.1" cy="50.7" r="0.5" fill="#2A6390"/>
<circle cx="307.5" cy="50.7" r="0.5" fill="#F4594F"/>
<circle cx="312.3" cy="50.7" r="0.5" fill="#2A6390"/>
<circle cx="326.6" cy="50.7" r="0.8" fill="#F4594F"/>
<circle cx="331.4" cy="50.7" r="0.8" fill="#2A6390"/>
<circle cx="345.7" cy="50.7" r="0.28" fill="#F4594F"/>
<circle cx="350.5" cy="50.7" r="0.8" fill="#2A6390"/>
<circle cx="39.5" cy="58.0" r="0.5" fill="#F4594F"/>
<circle cx="44.3" cy="58.0" r="0.5" fill="#2A6390"/>
<circle cx="58.6" cy="58.0" r="0.5" fill="#F4594F"/>
<circle cx="63.4" cy="58.0" r="0.28" fill="#2A6390"/>
<circle cx="77.8" cy="58.0" r="0.28" fill="#F4594F"/>
<circle cx="82.6" cy="58.0" r="0.28" fill="#2A6390"/>
<circle cx="96.9" cy="58.0" r="0.28" fill="#F4594F"/>
<circle cx="101.7" cy="58.0" r="0.28" fill="#2A6390"/>
<circle cx="116.1" cy="58.0" r="0.28" fill="#F4594F"/>
<circle cx="120.9" cy="58.0" r="0.28" fill="#2A6390"/>
<circle cx="135.2" cy="58.0" r="0.28" fill="#F4594F"/>
<circle cx="140.0" cy="58.0" r="0.28" fill="#2A6390"/>
<circle cx="154.3" cy="58.0" r="0.5" fill="#F4594F"/>
<circle cx="159.1" cy="58.0" r="0.28" fill="#2A6390"/>
<circle cx="173.5" cy="58.0" r="0.5" fill="#F4594F"/>
<circle cx="178.3" cy="58.0" r="0.28" fill="#2A6390"/>
<circle cx="192.6" cy="58.0" r="0.5" fill="#F4594F"/>
<circle cx="197.4" cy="58.0" r="0.5" fill="#2A6390"/>
<circle cx="211.8" cy="58.0" r="0.5" fill="#F4594F"/>
<circle cx="216.6" cy="58.0" r="0.5" fill="#2A6390"/>
<circle cx="230.9" cy="58.0" r="0.5" fill="#F4594F"/>
<circle cx="235.7" cy="58.0" r="0.5" fill="#2A6390"/>
<circle cx="250.0" cy="58.0" r="0.28" fill="#F4594F"/>
<circle cx="254.8" cy="58.0" r="0.28" fill="#2A6390"/>
<circle cx="269.2" cy="58.0" r="0.28" fill="#F4594F"/>
<circle cx="274.0" cy="58.0" r="0.28" fill="#2A6390"/>
<circle cx="288.3" cy="58.0" r="1.9" fill="#F4594F"/>
<circle cx="293.1" cy="58.0" r="0.8" fill="#2A6390"/>
<circle cx="307.5" cy="58.0" r="0.5" fill="#F4594F"/>
<circle cx="312.3" cy="58.0" r="0.28" fill="#2A6390"/>
<circle cx="326.6" cy="58.0" r="0.5" fill="#F4594F"/>
<circle cx="331.4" cy="58.0" r="0.5" fill="#2A6390"/>
<circle cx="345.7" cy="58.0" r="0.5" fill="#F4594F"/>
<circle cx="350.5" cy="58.0" r="0.5" fill="#2A6390"/>
<circle cx="39.5" cy="65.3" r="0.28" fill="#F4594F"/>
<circle cx="44.3" cy="65.3" r="0.5" fill="#2A6390"/>
<circle cx="58.6" cy="65.3" r="0.28" fill="#F4594F"/>
<circle cx="63.4" cy="65.3" r="0.5" fill="#2A6390"/>
<circle cx="77.8" cy="65.3" r="2.4" fill="#F4594F"/>
<circle cx="82.6" cy="65.3" r="1.9" fill="#2A6390"/>
<circle cx="96.9" cy="65.3" r="0.5" fill="#F4594F"/>
<circle cx="101.7" cy="65.3" r="0.5" fill="#2A6390"/>
<circle cx="116.1" cy="65.3" r="0.28" fill="#F4594F"/>
<circle cx="120.9" cy="65.3" r="0.28" fill="#2A6390"/>
<circle cx="135.2" cy="65.3" r="0.28" fill="#F4594F"/>
<circle cx="140.0" cy="65.3" r="0.28" fill="#2A6390"/>
<circle cx="154.3" cy="65.3" r="0.5" fill="#F4594F"/>
<circle cx="159.1" cy="65.3" r="0.8" fill="#2A6390"/>
<circle cx="173.5" cy="65.3" r="0.5" fill="#F4594F"/>
<circle cx="178.3" cy="65.3" r="0.28" fill="#2A6390"/>
<circle cx="192.6" cy="65.3" r="0.28" fill="#F4594F"/>
<circle cx="197.4" cy="65.3" r="0.5" fill="#2A6390"/>
<circle cx="211.8" cy="65.3" r="0.8" fill="#F4594F"/>
<circle cx="216.6" cy="65.3" r="0.5" fill="#2A6390"/>
<circle cx="230.9" cy="65.3" r="0.28" fill="#F4594F"/>
<circle cx="235.7" cy="65.3" r="0.5" fill="#2A6390"/>
<circle cx="250.0" cy="65.3" r="0.28" fill="#F4594F"/>
<circle cx="254.8" cy="65.3" r="0.28" fill="#2A6390"/>
<circle cx="269.2" cy="65.3" r="0.28" fill="#F4594F"/>
<circle cx="274.0" cy="65.3" r="0.28" fill="#2A6390"/>
<circle cx="288.3" cy="65.3" r="0.5" fill="#F4594F"/>
<circle cx="293.1" cy="65.3" r="0.5" fill="#2A6390"/>
<circle cx="307.5" cy="65.3" r="0.5" fill="#F4594F"/>
<circle cx="312.3" cy="65.3" r="0.5" fill="#2A6390"/>
<circle cx="326.6" cy="65.3" r="0.5" fill="#F4594F"/>
<circle cx="331.4" cy="65.3" r="0.5" fill="#2A6390"/>
<circle cx="345.7" cy="65.3" r="0.28" fill="#F4594F"/>
<circle cx="350.5" cy="65.3" r="0.5" fill="#2A6390"/>
<circle cx="39.5" cy="72.7" r="0.5" fill="#F4594F"/>
<circle cx="44.3" cy="72.7" r="0.8" fill="#2A6390"/>
<circle cx="58.6" cy="72.7" r="0.8" fill="#F4594F"/>
<circle cx="63.4" cy="72.7" r="0.8" fill="#2A6390"/>
<circle cx="77.8" cy="72.7" r="0.28" fill="#F4594F"/>
<circle cx="82.6" cy="72.7" r="0.5" fill="#2A6390"/>
<circle cx="96.9" cy="72.7" r="0.28" fill="#F4594F"/>
<circle cx="101.7" cy="72.7" r="0.5" fill="#2A6390"/>
<circle cx="116.1" cy="72.7" r="0.8" fill="#F4594F"/>
<circle cx="120.9" cy="72.7" r="1.1" fill="#2A6390"/>
<circle cx="135.2" cy="72.7" r="0.5" fill="#F4594F"/>
<circle cx="140.0" cy="72.7" r="1.1" fill="#2A6390"/>
<circle cx="154.3" cy="72.7" r="0.5" fill="#F4594F"/>
<circle cx="159.1" cy="72.7" r="0.5" fill="#2A6390"/>
<circle cx="173.5" cy="72.7" r="0.5" fill="#F4594F"/>
<circle cx="178.3" cy="72.7" r="0.8" fill="#2A6390"/>
<circle cx="192.6" cy="72.7" r="0.5" fill="#F4594F"/>
<circle cx="197.4" cy="72.7" r="0.8" fill="#2A6390"/>
<circle cx="211.8" cy="72.7" r="0.5" fill="#F4594F"/>
<circle cx="216.6" cy="72.7" r="0.8" fill="#2A6390"/>
<circle cx="230.9" cy="72.7" r="0.28" fill="#F4594F"/>
<circle cx="235.7" cy="72.7" r="0.5" fill="#2A6390"/>
<circle cx="250.0" cy="72.7" r="0.28" fill="#F4594F"/>
<circle cx="254.8" cy="72.7" r="0.28" fill="#2A6390"/>
<circle cx="269.2" cy="72.7" r="0.28" fill="#F4594F"/>
<circle cx="274.0" cy="72.7" r="0.28" fill="#2A6390"/>
<circle cx="288.3" cy="72.7" r="0.28" fill="#F4594F"/>
<circle cx="293.1" cy="72.7" r="0.28" fill="#2A6390"/>
<circle cx="307.5" cy="72.7" r="0.28" fill="#F4594F"/>
<circle cx="312.3" cy="72.7" r="0.5" fill="#2A6390"/>
<circle cx="326.6" cy="72.7" r="0.28" fill="#F4594F"/>
<circle cx="331.4" cy="72.7" r="0.8" fill="#2A6390"/>
<circle cx="345.7" cy="72.7" r="0.28" fill="#F4594F"/>
<circle cx="350.5" cy="72.7" r="0.8" fill="#2A6390"/>
<circle cx="39.5" cy="80.0" r="1.1" fill="#F4594F"/>
<circle cx="44.3" cy="80.0" r="0.8" fill="#2A6390"/>
<circle cx="58.6" cy="80.0" r="1.1" fill="#F4594F"/>
<circle cx="63.4" cy="80.0" r="1.1" fill="#2A6390"/>
<circle cx="77.8" cy="80.0" r="1.5" fill="#F4594F"/>
<circle cx="82.6" cy="80.0" r="0.8" fill="#2A6390"/>
<circle cx="96.9" cy="80.0" r="0.5" fill="#F4594F"/>
<circle cx="101.7" cy="80.0" r="0.8" fill="#2A6390"/>
<circle cx="116.1" cy="80.0" r="0.8" fill="#F4594F"/>
<circle cx="120.9" cy="80.0" r="0.8" fill="#2A6390"/>
<circle cx="135.2" cy="80.0" r="0.8" fill="#F4594F"/>
<circle cx="140.0" cy="80.0" r="1.1" fill="#2A6390"/>
<circle cx="154.3" cy="80.0" r="0.8" fill="#F4594F"/>
<circle cx="159.1" cy="80.0" r="0.8" fill="#2A6390"/>
<circle cx="173.5" cy="80.0" r="1.1" fill="#F4594F"/>
<circle cx="178.3" cy="80.0" r="1.1" fill="#2A6390"/>
<circle cx="192.6" cy="80.0" r="1.1" fill="#F4594F"/>
<circle cx="197.4" cy="80.0" r="1.1" fill="#2A6390"/>
<circle cx="211.8" cy="80.0" r="1.5" fill="#F4594F"/>
<circle cx="216.6" cy="80.0" r="1.1" fill="#2A6390"/>
<circle cx="230.9" cy="80.0" r="1.1" fill="#F4594F"/>
<circle cx="235.7" cy="80.0" r="0.8" fill="#2A6390"/>
<circle cx="250.0" cy="80.0" r="1.1" fill="#F4594F"/>
<circle cx="254.8" cy="80.0" r="1.1" fill="#2A6390"/>
<circle cx="269.2" cy="80.0" r="0.8" fill="#F4594F"/>
<circle cx="274.0" cy="80.0" r="1.1" fill="#2A6390"/>
<circle cx="288.3" cy="80.0" r="0.8" fill="#F4594F"/>
<circle cx="293.1" cy="80.0" r="0.8" fill="#2A6390"/>
<circle cx="307.5" cy="80.0" r="0.8" fill="#F4594F"/>
<circle cx="312.3" cy="80.0" r="1.1" fill="#2A6390"/>
<circle cx="326.6" cy="80.0" r="1.5" fill="#F4594F"/>
<circle cx="331.4" cy="80.0" r="1.1" fill="#2A6390"/>
<circle cx="345.7" cy="80.0" r="1.1" fill="#F4594F"/>
<circle cx="350.5" cy="80.0" r="1.1" fill="#2A6390"/>
<circle cx="39.5" cy="87.3" r="0.5" fill="#F4594F"/>
<circle cx="44.3" cy="87.3" r="1.5" fill="#2A6390"/>
<circle cx="58.6" cy="87.3" r="0.8" fill="#F4594F"/>
<circle cx="63.4" cy="87.3" r="1.5" fill="#2A6390"/>
<circle cx="77.8" cy="87.3" r="0.28" fill="#F4594F"/>
<circle cx="82.6" cy="87.3" r="1.1" fill="#2A6390"/>
<circle cx="96.9" cy="87.3" r="0.8" fill="#F4594F"/>
<circle cx="101.7" cy="87.3" r="1.5" fill="#2A6390"/>
<circle cx="116.1" cy="87.3" r="0.8" fill="#F4594F"/>
<circle cx="120.9" cy="87.3" r="1.5" fill="#2A6390"/>
<circle cx="135.2" cy="87.3" r="0.5" fill="#F4594F"/>
<circle cx="140.0" cy="87.3" r="1.1" fill="#2A6390"/>
<circle cx="154.3" cy="87.3" r="0.5" fill="#F4594F"/>
<circle cx="159.1" cy="87.3" r="1.5" fill="#2A6390"/>
<circle cx="173.5" cy="87.3" r="0.5" fill="#F4594F"/>
<circle cx="178.3" cy="87.3" r="0.8" fill="#2A6390"/>
<circle cx="192.6" cy="87.3" r="0.5" fill="#F4594F"/>
<circle cx="197.4" cy="87.3" r="0.8" fill="#2A6390"/>
<circle cx="211.8" cy="87.3" r="0.5" fill="#F4594F"/>
<circle cx="216.6" cy="87.3" r="1.1" fill="#2A6390"/>
<circle cx="230.9" cy="87.3" r="0.5" fill="#F4594F"/>
<circle cx="235.7" cy="87.3" r="1.1" fill="#2A6390"/>
<circle cx="250.0" cy="87.3" r="0.5" fill="#F4594F"/>
<circle cx="254.8" cy="87.3" r="1.1" fill="#2A6390"/>
<circle cx="269.2" cy="87.3" r="0.5" fill="#F4594F"/>
<circle cx="274.0" cy="87.3" r="1.1" fill="#2A6390"/>
<circle cx="288.3" cy="87.3" r="0.5" fill="#F4594F"/>
<circle cx="293.1" cy="87.3" r="0.5" fill="#2A6390"/>
<circle cx="307.5" cy="87.3" r="0.5" fill="#F4594F"/>
<circle cx="312.3" cy="87.3" r="0.8" fill="#2A6390"/>
<circle cx="326.6" cy="87.3" r="0.5" fill="#F4594F"/>
<circle cx="331.4" cy="87.3" r="1.9" fill="#2A6390"/>
<circle cx="345.7" cy="87.3" r="0.5" fill="#F4594F"/>
<circle cx="350.5" cy="87.3" r="0.8" fill="#2A6390"/>
<circle cx="39.5" cy="94.7" r="0.8" fill="#F4594F"/>
<circle cx="44.3" cy="94.7" r="0.5" fill="#2A6390"/>
<circle cx="58.6" cy="94.7" r="0.8" fill="#F4594F"/>
<circle cx="63.4" cy="94.7" r="0.8" fill="#2A6390"/>
<circle cx="77.8" cy="94.7" r="0.8" fill="#F4594F"/>
<circle cx="82.6" cy="94.7" r="0.5" fill="#2A6390"/>
<circle cx="96.9" cy="94.7" r="0.5" fill="#F4594F"/>
<circle cx="101.7" cy="94.7" r="0.5" fill="#2A6390"/>
<circle cx="116.1" cy="94.7" r="0.8" fill="#F4594F"/>
<circle cx="120.9" cy="94.7" r="0.5" fill="#2A6390"/>
<circle cx="135.2" cy="94.7" r="0.8" fill="#F4594F"/>
<circle cx="140.0" cy="94.7" r="0.8" fill="#2A6390"/>
<circle cx="154.3" cy="94.7" r="0.5" fill="#F4594F"/>
<circle cx="159.1" cy="94.7" r="0.5" fill="#2A6390"/>
<circle cx="173.5" cy="94.7" r="0.8" fill="#F4594F"/>
<circle cx="178.3" cy="94.7" r="0.8" fill="#2A6390"/>
<circle cx="192.6" cy="94.7" r="0.8" fill="#F4594F"/>
<circle cx="197.4" cy="94.7" r="0.8" fill="#2A6390"/>
<circle cx="211.8" cy="94.7" r="0.8" fill="#F4594F"/>
<circle cx="216.6" cy="94.7" r="0.8" fill="#2A6390"/>
<circle cx="230.9" cy="94.7" r="1.1" fill="#F4594F"/>
<circle cx="235.7" cy="94.7" r="0.8" fill="#2A6390"/>
<circle cx="250.0" cy="94.7" r="0.8" fill="#F4594F"/>
<circle cx="254.8" cy="94.7" r="0.5" fill="#2A6390"/>
<circle cx="269.2" cy="94.7" r="0.8" fill="#F4594F"/>
<circle cx="274.0" cy="94.7" r="0.5" fill="#2A6390"/>
<circle cx="288.3" cy="94.7" r="0.5" fill="#F4594F"/>
<circle cx="293.1" cy="94.7" r="0.5" fill="#2A6390"/>
<circle cx="307.5" cy="94.7" r="0.8" fill="#F4594F"/>
<circle cx="312.3" cy="94.7" r="0.5" fill="#2A6390"/>
<circle cx="326.6" cy="94.7" r="0.8" fill="#F4594F"/>
<circle cx="331.4" cy="94.7" r="0.5" fill="#2A6390"/>
<circle cx="345.7" cy="94.7" r="0.8" fill="#F4594F"/>
<circle cx="350.5" cy="94.7" r="0.5" fill="#2A6390"/>
<circle cx="39.5" cy="102.0" r="1.1" fill="#F4594F"/>
<circle cx="44.3" cy="102.0" r="1.1" fill="#2A6390"/>
<circle cx="58.6" cy="102.0" r="1.5" fill="#F4594F"/>
<circle cx="63.4" cy="102.0" r="1.1" fill="#2A6390"/>
<circle cx="77.8" cy="102.0" r="0.8" fill="#F4594F"/>
<circle cx="82.6" cy="102.0" r="0.8" fill="#2A6390"/>
<circle cx="96.9" cy="102.0" r="0.8" fill="#F4594F"/>
<circle cx="101.7" cy="102.0" r="0.8" fill="#2A6390"/>
<circle cx="116.1" cy="102.0" r="0.8" fill="#F4594F"/>
<circle cx="120.9" cy="102.0" r="0.8" fill="#2A6390"/>
<circle cx="135.2" cy="102.0" r="0.5" fill="#F4594F"/>
<circle cx="140.0" cy="102.0" r="0.8" fill="#2A6390"/>
<circle cx="154.3" cy="102.0" r="1.1" fill="#F4594F"/>
<circle cx="159.1" cy="102.0" r="1.1" fill="#2A6390"/>
<circle cx="173.5" cy="102.0" r="0.5" fill="#F4594F"/>
<circle cx="178.3" cy="102.0" r="0.5" fill="#2A6390"/>
<circle cx="192.6" cy="102.0" r="0.5" fill="#F4594F"/>
<circle cx="197.4" cy="102.0" r="0.5" fill="#2A6390"/>
<circle cx="211.8" cy="102.0" r="1.1" fill="#F4594F"/>
<circle cx="216.6" cy="102.0" r="1.1" fill="#2A6390"/>
<circle cx="230.9" cy="102.0" r="1.1" fill="#F4594F"/>
<circle cx="235.7" cy="102.0" r="1.1" fill="#2A6390"/>
<circle cx="250.0" cy="102.0" r="1.1" fill="#F4594F"/>
<circle cx="254.8" cy="102.0" r="1.1" fill="#2A6390"/>
<circle cx="269.2" cy="102.0" r="0.5" fill="#F4594F"/>
<circle cx="274.0" cy="102.0" r="0.5" fill="#2A6390"/>
<circle cx="288.3" cy="102.0" r="0.5" fill="#F4594F"/>
<circle cx="293.1" cy="102.0" r="0.5" fill="#2A6390"/>
<circle cx="307.5" cy="102.0" r="1.5" fill="#F4594F"/>
<circle cx="312.3" cy="102.0" r="0.8" fill="#2A6390"/>
<circle cx="326.6" cy="102.0" r="1.1" fill="#F4594F"/>
<circle cx="331.4" cy="102.0" r="0.8" fill="#2A6390"/>
<circle cx="345.7" cy="102.0" r="1.1" fill="#F4594F"/>
<circle cx="350.5" cy="102.0" r="0.8" fill="#2A6390"/>
<circle cx="39.5" cy="109.3" r="0.8" fill="#F4594F"/>
<circle cx="44.3" cy="109.3" r="0.8" fill="#2A6390"/>
<circle cx="58.6" cy="109.3" r="0.8" fill="#F4594F"/>
<circle cx="63.4" cy="109.3" r="0.8" fill="#2A6390"/>
<circle cx="77.8" cy="109.3" r="1.1" fill="#F4594F"/>
<circle cx="82.6" cy="109.3" r="1.1" fill="#2A6390"/>
<circle cx="96.9" cy="109.3" r="1.1" fill="#F4594F"/>
<circle cx="101.7" cy="109.3" r="1.1" fill="#2A6390"/>
<circle cx="116.1" cy="109.3" r="0.8" fill="#F4594F"/>
<circle cx="120.9" cy="109.3" r="0.8" fill="#2A6390"/>
<circle cx="135.2" cy="109.3" r="0.8" fill="#F4594F"/>
<circle cx="140.0" cy="109.3" r="0.8" fill="#2A6390"/>
<circle cx="154.3" cy="109.3" r="0.8" fill="#F4594F"/>
<circle cx="159.1" cy="109.3" r="1.1" fill="#2A6390"/>
<circle cx="173.5" cy="109.3" r="0.8" fill="#F4594F"/>
<circle cx="178.3" cy="109.3" r="0.8" fill="#2A6390"/>
<circle cx="192.6" cy="109.3" r="0.8" fill="#F4594F"/>
<circle cx="197.4" cy="109.3" r="0.8" fill="#2A6390"/>
<circle cx="211.8" cy="109.3" r="0.8" fill="#F4594F"/>
<circle cx="216.6" cy="109.3" r="0.8" fill="#2A6390"/>
<circle cx="230.9" cy="109.3" r="1.5" fill="#F4594F"/>
<circle cx="235.7" cy="109.3" r="1.1" fill="#2A6390"/>
<circle cx="250.0" cy="109.3" r="0.8" fill="#F4594F"/>
<circle cx="254.8" cy="109.3" r="0.8" fill="#2A6390"/>
<circle cx="269.2" cy="109.3" r="0.8" fill="#F4594F"/>
<circle cx="274.0" cy="109.3" r="0.8" fill="#2A6390"/>
<circle cx="288.3" cy="109.3" r="0.8" fill="#F4594F"/>
<circle cx="293.1" cy="109.3" r="0.8" fill="#2A6390"/>
<circle cx="307.5" cy="109.3" r="0.8" fill="#F4594F"/>
<circle cx="312.3" cy="109.3" r="1.1" fill="#2A6390"/>
<circle cx="326.6" cy="109.3" r="0.8" fill="#F4594F"/>
<circle cx="331.4" cy="109.3" r="1.1" fill="#2A6390"/>
<circle cx="345.7" cy="109.3" r="1.1" fill="#F4594F"/>
<circle cx="350.5" cy="109.3" r="0.8" fill="#2A6390"/>
<circle cx="39.5" cy="116.7" r="0.5" fill="#F4594F"/>
<circle cx="44.3" cy="116.7" r="1.1" fill="#2A6390"/>
<circle cx="58.6" cy="116.7" r="0.5" fill="#F4594F"/>
<circle cx="63.4" cy="116.7" r="1.1" fill="#2A6390"/>
<circle cx="77.8" cy="116.7" r="0.28" fill="#F4594F"/>
<circle cx="82.6" cy="116.7" r="0.5" fill="#2A6390"/>
<circle cx="96.9" cy="116.7" r="0.8" fill="#F4594F"/>
<circle cx="101.7" cy="116.7" r="0.8" fill="#2A6390"/>
<circle cx="116.1" cy="116.7" r="0.8" fill="#F4594F"/>
<circle cx="120.9" cy="116.7" r="0.5" fill="#2A6390"/>
<circle cx="135.2" cy="116.7" r="0.5" fill="#F4594F"/>
<circle cx="140.0" cy="116.7" r="0.8" fill="#2A6390"/>
<circle cx="154.3" cy="116.7" r="0.5" fill="#F4594F"/>
<circle cx="159.1" cy="116.7" r="0.8" fill="#2A6390"/>
<circle cx="173.5" cy="116.7" r="0.5" fill="#F4594F"/>
<circle cx="178.3" cy="116.7" r="0.5" fill="#2A6390"/>
<circle cx="192.6" cy="116.7" r="0.5" fill="#F4594F"/>
<circle cx="197.4" cy="116.7" r="0.5" fill="#2A6390"/>
<circle cx="211.8" cy="116.7" r="0.8" fill="#F4594F"/>
<circle cx="216.6" cy="116.7" r="1.1" fill="#2A6390"/>
<circle cx="230.9" cy="116.7" r="0.5" fill="#F4594F"/>
<circle cx="235.7" cy="116.7" r="0.8" fill="#2A6390"/>
<circle cx="250.0" cy="116.7" r="0.5" fill="#F4594F"/>
<circle cx="254.8" cy="116.7" r="1.1" fill="#2A6390"/>
<circle cx="269.2" cy="116.7" r="0.28" fill="#F4594F"/>
<circle cx="274.0" cy="116.7" r="0.5" fill="#2A6390"/>
<circle cx="288.3" cy="116.7" r="0.28" fill="#F4594F"/>
<circle cx="293.1" cy="116.7" r="0.5" fill="#2A6390"/>
<circle cx="307.5" cy="116.7" r="0.5" fill="#F4594F"/>
<circle cx="312.3" cy="116.7" r="0.8" fill="#2A6390"/>
<circle cx="326.6" cy="116.7" r="0.5" fill="#F4594F"/>
<circle cx="331.4" cy="116.7" r="1.1" fill="#2A6390"/>
<circle cx="345.7" cy="116.7" r="0.5" fill="#F4594F"/>
<circle cx="350.5" cy="116.7" r="0.8" fill="#2A6390"/>
<circle cx="39.5" cy="124.0" r="0.5" fill="#F4594F"/>
<circle cx="44.3" cy="124.0" r="1.5" fill="#2A6390"/>
<circle cx="58.6" cy="124.0" r="0.5" fill="#F4594F"/>
<circle cx="63.4" cy="124.0" r="1.5" fill="#2A6390"/>
<circle cx="77.8" cy="124.0" r="0.28" fill="#F4594F"/>
<circle cx="82.6" cy="124.0" r="0.5" fill="#2A6390"/>
<circle cx="96.9" cy="124.0" r="0.28" fill="#F4594F"/>
<circle cx="101.7" cy="124.0" r="0.8" fill="#2A6390"/>
<circle cx="116.1" cy="124.0" r="0.5" fill="#F4594F"/>
<circle cx="120.9" cy="124.0" r="1.1" fill="#2A6390"/>
<circle cx="135.2" cy="124.0" r="0.5" fill="#F4594F"/>
<circle cx="140.0" cy="124.0" r="1.1" fill="#2A6390"/>
<circle cx="154.3" cy="124.0" r="0.5" fill="#F4594F"/>
<circle cx="159.1" cy="124.0" r="1.1" fill="#2A6390"/>
<circle cx="173.5" cy="124.0" r="0.5" fill="#F4594F"/>
<circle cx="178.3" cy="124.0" r="0.5" fill="#2A6390"/>
<circle cx="192.6" cy="124.0" r="0.5" fill="#F4594F"/>
<circle cx="197.4" cy="124.0" r="0.5" fill="#2A6390"/>
<circle cx="211.8" cy="124.0" r="0.5" fill="#F4594F"/>
<circle cx="216.6" cy="124.0" r="1.5" fill="#2A6390"/>
<circle cx="230.9" cy="124.0" r="0.28" fill="#F4594F"/>
<circle cx="235.7" cy="124.0" r="0.8" fill="#2A6390"/>
<circle cx="250.0" cy="124.0" r="0.5" fill="#F4594F"/>
<circle cx="254.8" cy="124.0" r="1.5" fill="#2A6390"/>
<circle cx="269.2" cy="124.0" r="0.28" fill="#F4594F"/>
<circle cx="274.0" cy="124.0" r="0.5" fill="#2A6390"/>
<circle cx="288.3" cy="124.0" r="0.28" fill="#F4594F"/>
<circle cx="293.1" cy="124.0" r="0.5" fill="#2A6390"/>
<circle cx="307.5" cy="124.0" r="0.5" fill="#F4594F"/>
<circle cx="312.3" cy="124.0" r="0.8" fill="#2A6390"/>
<circle cx="326.6" cy="124.0" r="0.5" fill="#F4594F"/>
<circle cx="331.4" cy="124.0" r="1.1" fill="#2A6390"/>
<circle cx="345.7" cy="124.0" r="0.5" fill="#F4594F"/>
<circle cx="350.5" cy="124.0" r="0.8" fill="#2A6390"/>
<circle cx="39.5" cy="131.3" r="0.8" fill="#F4594F"/>
<circle cx="44.3" cy="131.3" r="1.9" fill="#2A6390"/>
<circle cx="58.6" cy="131.3" r="0.8" fill="#F4594F"/>
<circle cx="63.4" cy="131.3" r="0.8" fill="#2A6390"/>
<circle cx="77.8" cy="131.3" r="0.8" fill="#F4594F"/>
<circle cx="82.6" cy="131.3" r="0.8" fill="#2A6390"/>
<circle cx="96.9" cy="131.3" r="0.8" fill="#F4594F"/>
<circle cx="101.7" cy="131.3" r="1.1" fill="#2A6390"/>
<circle cx="116.1" cy="131.3" r="1.1" fill="#F4594F"/>
<circle cx="120.9" cy="131.3" r="1.5" fill="#2A6390"/>
<circle cx="135.2" cy="131.3" r="0.8" fill="#F4594F"/>
<circle cx="140.0" cy="131.3" r="1.1" fill="#2A6390"/>
<circle cx="154.3" cy="131.3" r="0.8" fill="#F4594F"/>
<circle cx="159.1" cy="131.3" r="0.8" fill="#2A6390"/>
<circle cx="173.5" cy="131.3" r="1.5" fill="#F4594F"/>
<circle cx="178.3" cy="131.3" r="1.5" fill="#2A6390"/>
<circle cx="192.6" cy="131.3" r="1.5" fill="#F4594F"/>
<circle cx="197.4" cy="131.3" r="1.5" fill="#2A6390"/>
<circle cx="211.8" cy="131.3" r="0.5" fill="#F4594F"/>
<circle cx="216.6" cy="131.3" r="0.8" fill="#2A6390"/>
<circle cx="230.9" cy="131.3" r="0.5" fill="#F4594F"/>
<circle cx="235.7" cy="131.3" r="0.8" fill="#2A6390"/>
<circle cx="250.0" cy="131.3" r="0.8" fill="#F4594F"/>
<circle cx="254.8" cy="131.3" r="0.8" fill="#2A6390"/>
<circle cx="269.2" cy="131.3" r="0.8" fill="#F4594F"/>
<circle cx="274.0" cy="131.3" r="0.8" fill="#2A6390"/>
<circle cx="288.3" cy="131.3" r="0.5" fill="#F4594F"/>
<circle cx="293.1" cy="131.3" r="0.5" fill="#2A6390"/>
<circle cx="307.5" cy="131.3" r="0.5" fill="#F4594F"/>
<circle cx="312.3" cy="131.3" r="0.5" fill="#2A6390"/>
<circle cx="326.6" cy="131.3" r="1.1" fill="#F4594F"/>
<circle cx="331.4" cy="131.3" r="0.8" fill="#2A6390"/>
<circle cx="345.7" cy="131.3" r="0.5" fill="#F4594F"/>
<circle cx="350.5" cy="131.3" r="0.8" fill="#2A6390"/>
<circle cx="39.5" cy="138.7" r="0.8" fill="#F4594F"/>
<circle cx="44.3" cy="138.7" r="0.8" fill="#2A6390"/>
<circle cx="58.6" cy="138.7" r="0.8" fill="#F4594F"/>
<circle cx="63.4" cy="138.7" r="0.8" fill="#2A6390"/>
<circle cx="77.8" cy="138.7" r="0.5" fill="#F4594F"/>
<circle cx="82.6" cy="138.7" r="0.8" fill="#2A6390"/>
<circle cx="96.9" cy="138.7" r="0.5" fill="#F4594F"/>
<circle cx="101.7" cy="138.7" r="0.5" fill="#2A6390"/>
<circle cx="116.1" cy="138.7" r="0.8" fill="#F4594F"/>
<circle cx="120.9" cy="138.7" r="0.5" fill="#2A6390"/>
<circle cx="135.2" cy="138.7" r="0.8" fill="#F4594F"/>
<circle cx="140.0" cy="138.7" r="0.5" fill="#2A6390"/>
<circle cx="154.3" cy="138.7" r="0.8" fill="#F4594F"/>
<circle cx="159.1" cy="138.7" r="0.5" fill="#2A6390"/>
<circle cx="173.5" cy="138.7" r="0.8" fill="#F4594F"/>
<circle cx="178.3" cy="138.7" r="0.5" fill="#2A6390"/>
<circle cx="192.6" cy="138.7" r="0.5" fill="#F4594F"/>
<circle cx="197.4" cy="138.7" r="0.5" fill="#2A6390"/>
<circle cx="211.8" cy="138.7" r="1.1" fill="#F4594F"/>
<circle cx="216.6" cy="138.7" r="0.8" fill="#2A6390"/>
<circle cx="230.9" cy="138.7" r="1.1" fill="#F4594F"/>
<circle cx="235.7" cy="138.7" r="0.8" fill="#2A6390"/>
<circle cx="250.0" cy="138.7" r="1.5" fill="#F4594F"/>
<circle cx="254.8" cy="138.7" r="0.8" fill="#2A6390"/>
<circle cx="269.2" cy="138.7" r="0.8" fill="#F4594F"/>
<circle cx="274.0" cy="138.7" r="0.5" fill="#2A6390"/>
<circle cx="288.3" cy="138.7" r="0.8" fill="#F4594F"/>
<circle cx="293.1" cy="138.7" r="0.5" fill="#2A6390"/>
<circle cx="307.5" cy="138.7" r="0.8" fill="#F4594F"/>
<circle cx="312.3" cy="138.7" r="0.5" fill="#2A6390"/>
<circle cx="326.6" cy="138.7" r="1.1" fill="#F4594F"/>
<circle cx="331.4" cy="138.7" r="0.5" fill="#2A6390"/>
<circle cx="345.7" cy="138.7" r="0.8" fill="#F4594F"/>
<circle cx="350.5" cy="138.7" r="0.5" fill="#2A6390"/>
<circle cx="39.5" cy="146.0" r="0.28" fill="#F4594F"/>
<circle cx="44.3" cy="146.0" r="0.5" fill="#2A6390"/>
<circle cx="58.6" cy="146.0" r="0.5" fill="#F4594F"/>
<circle cx="63.4" cy="146.0" r="0.5" fill="#2A6390"/>
<circle cx="77.8" cy="146.0" r="0.28" fill="#F4594F"/>
<circle cx="82.6" cy="146.0" r="0.5" fill="#2A6390"/>
<circle cx="96.9" cy="146.0" r="0.28" fill="#F4594F"/>
<circle cx="101.7" cy="146.0" r="0.5" fill="#2A6390"/>
<circle cx="116.1" cy="146.0" r="0.28" fill="#F4594F"/>
<circle cx="120.9" cy="146.0" r="0.28" fill="#2A6390"/>
<circle cx="135.2" cy="146.0" r="0.28" fill="#F4594F"/>
<circle cx="140.0" cy="146.0" r="0.28" fill="#2A6390"/>
<circle cx="154.3" cy="146.0" r="0.28" fill="#F4594F"/>
<circle cx="159.1" cy="146.0" r="0.28" fill="#2A6390"/>
<circle cx="173.5" cy="146.0" r="0.5" fill="#F4594F"/>
<circle cx="178.3" cy="146.0" r="0.8" fill="#2A6390"/>
<circle cx="192.6" cy="146.0" r="0.5" fill="#F4594F"/>
<circle cx="197.4" cy="146.0" r="0.8" fill="#2A6390"/>
<circle cx="211.8" cy="146.0" r="0.28" fill="#F4594F"/>
<circle cx="216.6" cy="146.0" r="0.28" fill="#2A6390"/>
<circle cx="230.9" cy="146.0" r="0.28" fill="#F4594F"/>
<circle cx="235.7" cy="146.0" r="0.28" fill="#2A6390"/>
<circle cx="250.0" cy="146.0" r="0.28" fill="#F4594F"/>
<circle cx="254.8" cy="146.0" r="0.5" fill="#2A6390"/>
<circle cx="269.2" cy="146.0" r="0.28" fill="#F4594F"/>
<circle cx="274.0" cy="146.0" r="0.28" fill="#2A6390"/>
<circle cx="288.3" cy="146.0" r="0.28" fill="#F4594F"/>
<circle cx="293.1" cy="146.0" r="0.28" fill="#2A6390"/>
<circle cx="307.5" cy="146.0" r="0.28" fill="#F4594F"/>
<circle cx="312.3" cy="146.0" r="0.5" fill="#2A6390"/>
<circle cx="326.6" cy="146.0" r="0.28" fill="#F4594F"/>
<circle cx="331.4" cy="146.0" r="0.28" fill="#2A6390"/>
<circle cx="345.7" cy="146.0" r="0.5" fill="#F4594F"/>
<circle cx="350.5" cy="146.0" r="1.1" fill="#2A6390"/>
<circle cx="39.5" cy="153.3" r="1.5" fill="#F4594F"/>
<circle cx="44.3" cy="153.3" r="1.9" fill="#2A6390"/>
<circle cx="58.6" cy="153.3" r="2.8" fill="#F4594F"/>
<circle cx="63.4" cy="153.3" r="2.4" fill="#2A6390"/>
<circle cx="77.8" cy="153.3" r="1.9" fill="#F4594F"/>
<circle cx="82.6" cy="153.3" r="1.9" fill="#2A6390"/>
<circle cx="96.9" cy="153.3" r="1.9" fill="#F4594F"/>
<circle cx="101.7" cy="153.3" r="1.9" fill="#2A6390"/>
<circle cx="116.1" cy="153.3" r="2.4" fill="#F4594F"/>
<circle cx="120.9" cy="153.3" r="1.9" fill="#2A6390"/>
<circle cx="135.2" cy="153.3" r="1.9" fill="#F4594F"/>
<circle cx="140.0" cy="153.3" r="1.1" fill="#2A6390"/>
<circle cx="154.3" cy="153.3" r="1.5" fill="#F4594F"/>
<circle cx="159.1" cy="153.3" r="2.4" fill="#2A6390"/>
<circle cx="173.5" cy="153.3" r="0.5" fill="#F4594F"/>
<circle cx="178.3" cy="153.3" r="0.8" fill="#2A6390"/>
<circle cx="192.6" cy="153.3" r="0.5" fill="#F4594F"/>
<circle cx="197.4" cy="153.3" r="0.8" fill="#2A6390"/>
<circle cx="211.8" cy="153.3" r="1.9" fill="#F4594F"/>
<circle cx="216.6" cy="153.3" r="1.9" fill="#2A6390"/>
<circle cx="230.9" cy="153.3" r="1.5" fill="#F4594F"/>
<circle cx="235.7" cy="153.3" r="2.4" fill="#2A6390"/>
<circle cx="250.0" cy="153.3" r="1.9" fill="#F4594F"/>
<circle cx="254.8" cy="153.3" r="1.9" fill="#2A6390"/>
<circle cx="269.2" cy="153.3" r="0.5" fill="#F4594F"/>
<circle cx="274.0" cy="153.3" r="0.8" fill="#2A6390"/>
<circle cx="288.3" cy="153.3" r="0.8" fill="#F4594F"/>
<circle cx="293.1" cy="153.3" r="1.1" fill="#2A6390"/>
<circle cx="307.5" cy="153.3" r="2.4" fill="#F4594F"/>
<circle cx="312.3" cy="153.3" r="2.4" fill="#2A6390"/>
<circle cx="326.6" cy="153.3" r="1.9" fill="#F4594F"/>
<circle cx="331.4" cy="153.3" r="1.5" fill="#2A6390"/>
<circle cx="345.7" cy="153.3" r="1.1" fill="#F4594F"/>
<circle cx="350.5" cy="153.3" r="1.1" fill="#2A6390"/>
<circle cx="39.5" cy="160.6" r="0.5" fill="#F4594F"/>
<circle cx="44.3" cy="160.6" r="0.5" fill="#2A6390"/>
<circle cx="58.6" cy="160.6" r="0.28" fill="#F4594F"/>
<circle cx="63.4" cy="160.6" r="0.5" fill="#2A6390"/>
<circle cx="77.8" cy="160.6" r="0.28" fill="#F4594F"/>
<circle cx="82.6" cy="160.6" r="0.5" fill="#2A6390"/>
<circle cx="96.9" cy="160.6" r="0.28" fill="#F4594F"/>
<circle cx="101.7" cy="160.6" r="0.5" fill="#2A6390"/>
<circle cx="116.1" cy="160.6" r="0.28" fill="#F4594F"/>
<circle cx="120.9" cy="160.6" r="0.28" fill="#2A6390"/>
<circle cx="135.2" cy="160.6" r="0.28" fill="#F4594F"/>
<circle cx="140.0" cy="160.6" r="0.28" fill="#2A6390"/>
<circle cx="154.3" cy="160.6" r="0.28" fill="#F4594F"/>
<circle cx="159.1" cy="160.6" r="0.28" fill="#2A6390"/>
<circle cx="173.5" cy="160.6" r="0.28" fill="#F4594F"/>
<circle cx="178.3" cy="160.6" r="0.5" fill="#2A6390"/>
<circle cx="192.6" cy="160.6" r="0.28" fill="#F4594F"/>
<circle cx="197.4" cy="160.6" r="0.5" fill="#2A6390"/>
<circle cx="211.8" cy="160.6" r="0.5" fill="#F4594F"/>
<circle cx="216.6" cy="160.6" r="0.5" fill="#2A6390"/>
<circle cx="230.9" cy="160.6" r="0.28" fill="#F4594F"/>
<circle cx="235.7" cy="160.6" r="0.5" fill="#2A6390"/>
<circle cx="250.0" cy="160.6" r="0.28" fill="#F4594F"/>
<circle cx="254.8" cy="160.6" r="0.28" fill="#2A6390"/>
<circle cx="269.2" cy="160.6" r="0.28" fill="#F4594F"/>
<circle cx="274.0" cy="160.6" r="0.28" fill="#2A6390"/>
<circle cx="288.3" cy="160.6" r="0.28" fill="#F4594F"/>
<circle cx="293.1" cy="160.6" r="0.28" fill="#2A6390"/>
<circle cx="307.5" cy="160.6" r="0.28" fill="#F4594F"/>
<circle cx="312.3" cy="160.6" r="0.28" fill="#2A6390"/>
<circle cx="326.6" cy="160.6" r="0.28" fill="#F4594F"/>
<circle cx="331.4" cy="160.6" r="0.8" fill="#2A6390"/>
<circle cx="345.7" cy="160.6" r="0.8" fill="#F4594F"/>
<circle cx="350.5" cy="160.6" r="1.1" fill="#2A6390"/>
<circle cx="39.5" cy="168.0" r="0.5" fill="#F4594F"/>
<circle cx="44.3" cy="168.0" r="0.5" fill="#2A6390"/>
<circle cx="58.6" cy="168.0" r="0.8" fill="#F4594F"/>
<circle cx="63.4" cy="168.0" r="0.8" fill="#2A6390"/>
<circle cx="77.8" cy="168.0" r="1.1" fill="#F4594F"/>
<circle cx="82.6" cy="168.0" r="1.1" fill="#2A6390"/>
<circle cx="96.9" cy="168.0" r="0.5" fill="#F4594F"/>
<circle cx="101.7" cy="168.0" r="0.5" fill="#2A6390"/>
<circle cx="116.1" cy="168.0" r="0.28" fill="#F4594F"/>
<circle cx="120.9" cy="168.0" r="0.28" fill="#2A6390"/>
<circle cx="135.2" cy="168.0" r="1.1" fill="#F4594F"/>
<circle cx="140.0" cy="168.0" r="0.8" fill="#2A6390"/>
<circle cx="154.3" cy="168.0" r="0.5" fill="#F4594F"/>
<circle cx="159.1" cy="168.0" r="0.5" fill="#2A6390"/>
<circle cx="173.5" cy="168.0" r="0.5" fill="#F4594F"/>
<circle cx="178.3" cy="168.0" r="0.5" fill="#2A6390"/>
<circle cx="192.6" cy="168.0" r="0.5" fill="#F4594F"/>
<circle cx="197.4" cy="168.0" r="0.5" fill="#2A6390"/>
<circle cx="211.8" cy="168.0" r="0.28" fill="#F4594F"/>
<circle cx="216.6" cy="168.0" r="0.5" fill="#2A6390"/>
<circle cx="230.9" cy="168.0" r="1.5" fill="#F4594F"/>
<circle cx="235.7" cy="168.0" r="0.8" fill="#2A6390"/>
<circle cx="250.0" cy="168.0" r="1.5" fill="#F4594F"/>
<circle cx="254.8" cy="168.0" r="0.8" fill="#2A6390"/>
<circle cx="269.2" cy="168.0" r="0.5" fill="#F4594F"/>
<circle cx="274.0" cy="168.0" r="0.5" fill="#2A6390"/>
<circle cx="288.3" cy="168.0" r="0.5" fill="#F4594F"/>
<circle cx="293.1" cy="168.0" r="0.5" fill="#2A6390"/>
<circle cx="307.5" cy="168.0" r="0.5" fill="#F4594F"/>
<circle cx="312.3" cy="168.0" r="0.5" fill="#2A6390"/>
<circle cx="326.6" cy="168.0" r="0.5" fill="#F4594F"/>
<circle cx="331.4" cy="168.0" r="0.5" fill="#2A6390"/>
<circle cx="345.7" cy="168.0" r="0.5" fill="#F4594F"/>
<circle cx="350.5" cy="168.0" r="0.5" fill="#2A6390"/>
<circle cx="39.5" cy="175.3" r="1.1" fill="#F4594F"/>
<circle cx="44.3" cy="175.3" r="0.8" fill="#2A6390"/>
<circle cx="58.6" cy="175.3" r="0.8" fill="#F4594F"/>
<circle cx="63.4" cy="175.3" r="0.8" fill="#2A6390"/>
<circle cx="77.8" cy="175.3" r="0.5" fill="#F4594F"/>
<circle cx="82.6" cy="175.3" r="0.5" fill="#2A6390"/>
<circle cx="96.9" cy="175.3" r="0.8" fill="#F4594F"/>
<circle cx="101.7" cy="175.3" r="0.8" fill="#2A6390"/>
<circle cx="116.1" cy="175.3" r="0.8" fill="#F4594F"/>
<circle cx="120.9" cy="175.3" r="0.8" fill="#2A6390"/>
<circle cx="135.2" cy="175.3" r="0.5" fill="#F4594F"/>
<circle cx="140.0" cy="175.3" r="0.8" fill="#2A6390"/>
<circle cx="154.3" cy="175.3" r="0.8" fill="#F4594F"/>
<circle cx="159.1" cy="175.3" r="0.8" fill="#2A6390"/>
<circle cx="173.5" cy="175.3" r="0.8" fill="#F4594F"/>
<circle cx="178.3" cy="175.3" r="0.8" fill="#2A6390"/>
<circle cx="192.6" cy="175.3" r="0.8" fill="#F4594F"/>
<circle cx="197.4" cy="175.3" r="0.8" fill="#2A6390"/>
<circle cx="211.8" cy="175.3" r="0.8" fill="#F4594F"/>
<circle cx="216.6" cy="175.3" r="0.8" fill="#2A6390"/>
<circle cx="230.9" cy="175.3" r="1.5" fill="#F4594F"/>
<circle cx="235.7" cy="175.3" r="0.8" fill="#2A6390"/>
<circle cx="250.0" cy="175.3" r="0.8" fill="#F4594F"/>
<circle cx="254.8" cy="175.3" r="0.5" fill="#2A6390"/>
<circle cx="269.2" cy="175.3" r="1.1" fill="#F4594F"/>
<circle cx="274.0" cy="175.3" r="0.8" fill="#2A6390"/>
<circle cx="288.3" cy="175.3" r="0.8" fill="#F4594F"/>
<circle cx="293.1" cy="175.3" r="0.5" fill="#2A6390"/>
<circle cx="307.5" cy="175.3" r="1.1" fill="#F4594F"/>
<circle cx="312.3" cy="175.3" r="0.8" fill="#2A6390"/>
<circle cx="326.6" cy="175.3" r="0.8" fill="#F4594F"/>
<circle cx="331.4" cy="175.3" r="0.8" fill="#2A6390"/>
<circle cx="345.7" cy="175.3" r="1.1" fill="#F4594F"/>
<circle cx="350.5" cy="175.3" r="0.8" fill="#2A6390"/>
<circle cx="39.5" cy="182.6" r="0.5" fill="#F4594F"/>
<circle cx="44.3" cy="182.6" r="1.9" fill="#2A6390"/>
<circle cx="58.6" cy="182.6" r="0.8" fill="#F4594F"/>
<circle cx="63.4" cy="182.6" r="1.1" fill="#2A6390"/>
<circle cx="77.8" cy="182.6" r="0.28" fill="#F4594F"/>
<circle cx="82.6" cy="182.6" r="1.9" fill="#2A6390"/>
<circle cx="96.9" cy="182.6" r="0.5" fill="#F4594F"/>
<circle cx="101.7" cy="182.6" r="1.5" fill="#2A6390"/>
<circle cx="116.1" cy="182.6" r="0.8" fill="#F4594F"/>
<circle cx="120.9" cy="182.6" r="1.1" fill="#2A6390"/>
<circle cx="135.2" cy="182.6" r="0.5" fill="#F4594F"/>
<circle cx="140.0" cy="182.6" r="1.1" fill="#2A6390"/>
<circle cx="154.3" cy="182.6" r="0.5" fill="#F4594F"/>
<circle cx="159.1" cy="182.6" r="1.1" fill="#2A6390"/>
<circle cx="173.5" cy="182.6" r="0.8" fill="#F4594F"/>
<circle cx="178.3" cy="182.6" r="1.9" fill="#2A6390"/>
<circle cx="192.6" cy="182.6" r="1.5" fill="#F4594F"/>
<circle cx="197.4" cy="182.6" r="1.9" fill="#2A6390"/>
<circle cx="211.8" cy="182.6" r="1.1" fill="#F4594F"/>
<circle cx="216.6" cy="182.6" r="1.1" fill="#2A6390"/>
<circle cx="230.9" cy="182.6" r="0.28" fill="#F4594F"/>
<circle cx="235.7" cy="182.6" r="0.8" fill="#2A6390"/>
<circle cx="250.0" cy="182.6" r="0.8" fill="#F4594F"/>
<circle cx="254.8" cy="182.6" r="1.1" fill="#2A6390"/>
<circle cx="269.2" cy="182.6" r="0.5" fill="#F4594F"/>
<circle cx="274.0" cy="182.6" r="1.5" fill="#2A6390"/>
<circle cx="288.3" cy="182.6" r="1.1" fill="#F4594F"/>
<circle cx="293.1" cy="182.6" r="1.9" fill="#2A6390"/>
<circle cx="307.5" cy="182.6" r="0.28" fill="#F4594F"/>
<circle cx="312.3" cy="182.6" r="0.8" fill="#2A6390"/>
<circle cx="326.6" cy="182.6" r="0.5" fill="#F4594F"/>
<circle cx="331.4" cy="182.6" r="1.1" fill="#2A6390"/>
<circle cx="345.7" cy="182.6" r="0.5" fill="#F4594F"/>
<circle cx="350.5" cy="182.6" r="1.1" fill="#2A6390"/>
<circle cx="39.5" cy="190.0" r="0.8" fill="#F4594F"/>
<circle cx="44.3" cy="190.0" r="0.8" fill="#2A6390"/>
<circle cx="58.6" cy="190.0" r="0.8" fill="#F4594F"/>
<circle cx="63.4" cy="190.0" r="0.8" fill="#2A6390"/>
<circle cx="77.8" cy="190.0" r="0.5" fill="#F4594F"/>
<circle cx="82.6" cy="190.0" r="0.5" fill="#2A6390"/>
<circle cx="96.9" cy="190.0" r="0.5" fill="#F4594F"/>
<circle cx="101.7" cy="190.0" r="0.5" fill="#2A6390"/>
<circle cx="116.1" cy="190.0" r="0.28" fill="#F4594F"/>
<circle cx="120.9" cy="190.0" r="0.5" fill="#2A6390"/>
<circle cx="135.2" cy="190.0" r="0.8" fill="#F4594F"/>
<circle cx="140.0" cy="190.0" r="0.5" fill="#2A6390"/>
<circle cx="154.3" cy="190.0" r="0.5" fill="#F4594F"/>
<circle cx="159.1" cy="190.0" r="0.5" fill="#2A6390"/>
<circle cx="173.5" cy="190.0" r="0.5" fill="#F4594F"/>
<circle cx="178.3" cy="190.0" r="0.5" fill="#2A6390"/>
<circle cx="192.6" cy="190.0" r="0.5" fill="#F4594F"/>
<circle cx="197.4" cy="190.0" r="0.5" fill="#2A6390"/>
<circle cx="211.8" cy="190.0" r="0.8" fill="#F4594F"/>
<circle cx="216.6" cy="190.0" r="0.5" fill="#2A6390"/>
<circle cx="230.9" cy="190.0" r="0.8" fill="#F4594F"/>
<circle cx="235.7" cy="190.0" r="0.5" fill="#2A6390"/>
<circle cx="250.0" cy="190.0" r="0.8" fill="#F4594F"/>
<circle cx="254.8" cy="190.0" r="0.8" fill="#2A6390"/>
<circle cx="269.2" cy="190.0" r="1.9" fill="#F4594F"/>
<circle cx="274.0" cy="190.0" r="1.1" fill="#2A6390"/>
<circle cx="288.3" cy="190.0" r="0.5" fill="#F4594F"/>
<circle cx="293.1" cy="190.0" r="0.5" fill="#2A6390"/>
<circle cx="307.5" cy="190.0" r="0.8" fill="#F4594F"/>
<circle cx="312.3" cy="190.0" r="0.5" fill="#2A6390"/>
<circle cx="326.6" cy="190.0" r="0.8" fill="#F4594F"/>
<circle cx="331.4" cy="190.0" r="0.5" fill="#2A6390"/>
<circle cx="345.7" cy="190.0" r="0.8" fill="#F4594F"/>
<circle cx="350.5" cy="190.0" r="0.8" fill="#2A6390"/>
<circle cx="39.5" cy="197.3" r="0.8" fill="#F4594F"/>
<circle cx="44.3" cy="197.3" r="1.9" fill="#2A6390"/>
<circle cx="58.6" cy="197.3" r="0.8" fill="#F4594F"/>
<circle cx="63.4" cy="197.3" r="1.1" fill="#2A6390"/>
<circle cx="77.8" cy="197.3" r="0.8" fill="#F4594F"/>
<circle cx="82.6" cy="197.3" r="1.9" fill="#2A6390"/>
<circle cx="96.9" cy="197.3" r="0.8" fill="#F4594F"/>
<circle cx="101.7" cy="197.3" r="1.5" fill="#2A6390"/>
<circle cx="116.1" cy="197.3" r="0.8" fill="#F4594F"/>
<circle cx="120.9" cy="197.3" r="1.5" fill="#2A6390"/>
<circle cx="135.2" cy="197.3" r="0.8" fill="#F4594F"/>
<circle cx="140.0" cy="197.3" r="1.5" fill="#2A6390"/>
<circle cx="154.3" cy="197.3" r="0.5" fill="#F4594F"/>
<circle cx="159.1" cy="197.3" r="1.1" fill="#2A6390"/>
<circle cx="173.5" cy="197.3" r="1.1" fill="#F4594F"/>
<circle cx="178.3" cy="197.3" r="1.9" fill="#2A6390"/>
<circle cx="192.6" cy="197.3" r="1.5" fill="#F4594F"/>
<circle cx="197.4" cy="197.3" r="1.9" fill="#2A6390"/>
<circle cx="211.8" cy="197.3" r="1.1" fill="#F4594F"/>
<circle cx="216.6" cy="197.3" r="1.5" fill="#2A6390"/>
<circle cx="230.9" cy="197.3" r="0.5" fill="#F4594F"/>
<circle cx="235.7" cy="197.3" r="1.1" fill="#2A6390"/>
<circle cx="250.0" cy="197.3" r="0.8" fill="#F4594F"/>
<circle cx="254.8" cy="197.3" r="1.1" fill="#2A6390"/>
<circle cx="269.2" cy="197.3" r="0.8" fill="#F4594F"/>
<circle cx="274.0" cy="197.3" r="1.5" fill="#2A6390"/>
<circle cx="288.3" cy="197.3" r="0.8" fill="#F4594F"/>
<circle cx="293.1" cy="197.3" r="1.9" fill="#2A6390"/>
<circle cx="307.5" cy="197.3" r="0.5" fill="#F4594F"/>
<circle cx="312.3" cy="197.3" r="0.8" fill="#2A6390"/>
<circle cx="326.6" cy="197.3" r="0.5" fill="#F4594F"/>
<circle cx="331.4" cy="197.3" r="1.1" fill="#2A6390"/>
<circle cx="345.7" cy="197.3" r="0.8" fill="#F4594F"/>
<circle cx="350.5" cy="197.3" r="1.5" fill="#2A6390"/>
<circle cx="39.5" cy="204.6" r="1.1" fill="#F4594F"/>
<circle cx="44.3" cy="204.6" r="1.1" fill="#2A6390"/>
<circle cx="58.6" cy="204.6" r="0.8" fill="#F4594F"/>
<circle cx="63.4" cy="204.6" r="1.1" fill="#2A6390"/>
<circle cx="77.8" cy="204.6" r="0.5" fill="#F4594F"/>
<circle cx="82.6" cy="204.6" r="1.1" fill="#2A6390"/>
<circle cx="96.9" cy="204.6" r="0.5" fill="#F4594F"/>
<circle cx="101.7" cy="204.6" r="1.1" fill="#2A6390"/>
<circle cx="116.1" cy="204.6" r="0.5" fill="#F4594F"/>
<circle cx="120.9" cy="204.6" r="1.1" fill="#2A6390"/>
<circle cx="135.2" cy="204.6" r="0.5" fill="#F4594F"/>
<circle cx="140.0" cy="204.6" r="1.1" fill="#2A6390"/>
<circle cx="154.3" cy="204.6" r="0.5" fill="#F4594F"/>
<circle cx="159.1" cy="204.6" r="1.1" fill="#2A6390"/>
<circle cx="173.5" cy="204.6" r="0.8" fill="#F4594F"/>
<circle cx="178.3" cy="204.6" r="1.1" fill="#2A6390"/>
<circle cx="192.6" cy="204.6" r="0.8" fill="#F4594F"/>
<circle cx="197.4" cy="204.6" r="1.1" fill="#2A6390"/>
<circle cx="211.8" cy="204.6" r="0.8" fill="#F4594F"/>
<circle cx="216.6" cy="204.6" r="1.1" fill="#2A6390"/>
<circle cx="230.9" cy="204.6" r="0.5" fill="#F4594F"/>
<circle cx="235.7" cy="204.6" r="0.8" fill="#2A6390"/>
<circle cx="250.0" cy="204.6" r="0.8" fill="#F4594F"/>
<circle cx="254.8" cy="204.6" r="1.1" fill="#2A6390"/>
<circle cx="269.2" cy="204.6" r="0.8" fill="#F4594F"/>
<circle cx="274.0" cy="204.6" r="1.5" fill="#2A6390"/>
<circle cx="288.3" cy="204.6" r="0.5" fill="#F4594F"/>
<circle cx="293.1" cy="204.6" r="1.1" fill="#2A6390"/>
<circle cx="307.5" cy="204.6" r="0.5" fill="#F4594F"/>
<circle cx="312.3" cy="204.6" r="1.1" fill="#2A6390"/>
<circle cx="326.6" cy="204.6" r="0.5" fill="#F4594F"/>
<circle cx="331.4" cy="204.6" r="1.1" fill="#2A6390"/>
<circle cx="345.7" cy="204.6" r="0.8" fill="#F4594F"/>
<circle cx="350.5" cy="204.6" r="1.1" fill="#2A6390"/>
<circle cx="39.5" cy="211.9" r="0.5" fill="#F4594F"/>
<circle cx="44.3" cy="211.9" r="0.5" fill="#2A6390"/>
<circle cx="58.6" cy="211.9" r="0.5" fill="#F4594F"/>
<circle cx="63.4" cy="211.9" r="0.5" fill="#2A6390"/>
<circle cx="77.8" cy="211.9" r="1.1" fill="#F4594F"/>
<circle cx="82.6" cy="211.9" r="0.8" fill="#2A6390"/>
<circle cx="96.9" cy="211.9" r="1.1" fill="#F4594F"/>
<circle cx="101.7" cy="211.9" r="0.8" fill="#2A6390"/>
<circle cx="116.1" cy="211.9" r="0.8" fill="#F4594F"/>
<circle cx="120.9" cy="211.9" r="0.5" fill="#2A6390"/>
<circle cx="135.2" cy="211.9" r="0.5" fill="#F4594F"/>
<circle cx="140.0" cy="211.9" r="0.5" fill="#2A6390"/>
<circle cx="154.3" cy="211.9" r="0.8" fill="#F4594F"/>
<circle cx="159.1" cy="211.9" r="0.5" fill="#2A6390"/>
<circle cx="173.5" cy="211.9" r="1.1" fill="#F4594F"/>
<circle cx="178.3" cy="211.9" r="0.8" fill="#2A6390"/>
<circle cx="192.6" cy="211.9" r="1.1" fill="#F4594F"/>
<circle cx="197.4" cy="211.9" r="0.8" fill="#2A6390"/>
<circle cx="211.8" cy="211.9" r="0.8" fill="#F4594F"/>
<circle cx="216.6" cy="211.9" r="0.5" fill="#2A6390"/>
<circle cx="230.9" cy="211.9" r="1.1" fill="#F4594F"/>
<circle cx="235.7" cy="211.9" r="0.8" fill="#2A6390"/>
<circle cx="250.0" cy="211.9" r="0.8" fill="#F4594F"/>
<circle cx="254.8" cy="211.9" r="0.8" fill="#2A6390"/>
<circle cx="269.2" cy="211.9" r="1.1" fill="#F4594F"/>
<circle cx="274.0" cy="211.9" r="0.8" fill="#2A6390"/>
<circle cx="288.3" cy="211.9" r="0.8" fill="#F4594F"/>
<circle cx="293.1" cy="211.9" r="0.5" fill="#2A6390"/>
<circle cx="307.5" cy="211.9" r="0.5" fill="#F4594F"/>
<circle cx="312.3" cy="211.9" r="0.5" fill="#2A6390"/>
<circle cx="326.6" cy="211.9" r="0.5" fill="#F4594F"/>
<circle cx="331.4" cy="211.9" r="0.5" fill="#2A6390"/>
<circle cx="345.7" cy="211.9" r="0.8" fill="#F4594F"/>
<circle cx="350.5" cy="211.9" r="0.5" fill="#2A6390"/>
<circle cx="39.5" cy="219.3" r="0.8" fill="#F4594F"/>
<circle cx="44.3" cy="219.3" r="0.8" fill="#2A6390"/>
<circle cx="58.6" cy="219.3" r="0.5" fill="#F4594F"/>
<circle cx="63.4" cy="219.3" r="0.5" fill="#2A6390"/>
<circle cx="77.8" cy="219.3" r="0.5" fill="#F4594F"/>
<circle cx="82.6" cy="219.3" r="0.8" fill="#2A6390"/>
<circle cx="96.9" cy="219.3" r="0.5" fill="#F4594F"/>
<circle cx="101.7" cy="219.3" r="0.5" fill="#2A6390"/>
<circle cx="116.1" cy="219.3" r="0.5" fill="#F4594F"/>
<circle cx="120.9" cy="219.3" r="0.5" fill="#2A6390"/>
<circle cx="135.2" cy="219.3" r="0.5" fill="#F4594F"/>
<circle cx="140.0" cy="219.3" r="0.5" fill="#2A6390"/>
<circle cx="154.3" cy="219.3" r="0.5" fill="#F4594F"/>
<circle cx="159.1" cy="219.3" r="0.5" fill="#2A6390"/>
<circle cx="173.5" cy="219.3" r="0.5" fill="#F4594F"/>
<circle cx="178.3" cy="219.3" r="0.5" fill="#2A6390"/>
<circle cx="192.6" cy="219.3" r="0.5" fill="#F4594F"/>
<circle cx="197.4" cy="219.3" r="0.5" fill="#2A6390"/>
<circle cx="211.8" cy="219.3" r="0.5" fill="#F4594F"/>
<circle cx="216.6" cy="219.3" r="0.5" fill="#2A6390"/>
<circle cx="230.9" cy="219.3" r="1.1" fill="#F4594F"/>
<circle cx="235.7" cy="219.3" r="0.8" fill="#2A6390"/>
<circle cx="250.0" cy="219.3" r="0.5" fill="#F4594F"/>
<circle cx="254.8" cy="219.3" r="0.5" fill="#2A6390"/>
<circle cx="269.2" cy="219.3" r="0.5" fill="#F4594F"/>
<circle cx="274.0" cy="219.3" r="0.5" fill="#2A6390"/>
<circle cx="288.3" cy="219.3" r="1.9" fill="#F4594F"/>
<circle cx="293.1" cy="219.3" r="0.8" fill="#2A6390"/>
<circle cx="307.5" cy="219.3" r="0.5" fill="#F4594F"/>
<circle cx="312.3" cy="219.3" r="0.5" fill="#2A6390"/>
<circle cx="326.6" cy="219.3" r="0.8" fill="#F4594F"/>
<circle cx="331.4" cy="219.3" r="0.5" fill="#2A6390"/>
<circle cx="345.7" cy="219.3" r="0.5" fill="#F4594F"/>
<circle cx="350.5" cy="219.3" r="0.5" fill="#2A6390"/>
<circle cx="39.5" cy="226.6" r="0.5" fill="#F4594F"/>
<circle cx="44.3" cy="226.6" r="0.5" fill="#2A6390"/>
<circle cx="58.6" cy="226.6" r="0.5" fill="#F4594F"/>
<circle cx="63.4" cy="226.6" r="0.5" fill="#2A6390"/>
<circle cx="77.8" cy="226.6" r="0.5" fill="#F4594F"/>
<circle cx="82.6" cy="226.6" r="0.5" fill="#2A6390"/>
<circle cx="96.9" cy="226.6" r="0.5" fill="#F4594F"/>
<circle cx="101.7" cy="226.6" r="0.5" fill="#2A6390"/>
<circle cx="116.1" cy="226.6" r="0.28" fill="#F4594F"/>
<circle cx="120.9" cy="226.6" r="0.5" fill="#2A6390"/>
<circle cx="135.2" cy="226.6" r="0.5" fill="#F4594F"/>
<circle cx="140.0" cy="226.6" r="0.5" fill="#2A6390"/>
<circle cx="154.3" cy="226.6" r="0.5" fill="#F4594F"/>
<circle cx="159.1" cy="226.6" r="0.5" fill="#2A6390"/>
<circle cx="173.5" cy="226.6" r="0.28" fill="#F4594F"/>
<circle cx="178.3" cy="226.6" r="0.5" fill="#2A6390"/>
<circle cx="192.6" cy="226.6" r="0.28" fill="#F4594F"/>
<circle cx="197.4" cy="226.6" r="0.5" fill="#2A6390"/>
<circle cx="211.8" cy="226.6" r="0.28" fill="#F4594F"/>
<circle cx="216.6" cy="226.6" r="0.5" fill="#2A6390"/>
<circle cx="230.9" cy="226.6" r="0.28" fill="#F4594F"/>
<circle cx="235.7" cy="226.6" r="0.5" fill="#2A6390"/>
<circle cx="250.0" cy="226.6" r="0.28" fill="#F4594F"/>
<circle cx="254.8" cy="226.6" r="0.5" fill="#2A6390"/>
<circle cx="269.2" cy="226.6" r="1.1" fill="#F4594F"/>
<circle cx="274.0" cy="226.6" r="1.5" fill="#2A6390"/>
<circle cx="288.3" cy="226.6" r="0.8" fill="#F4594F"/>
<circle cx="293.1" cy="226.6" r="1.1" fill="#2A6390"/>
<circle cx="307.5" cy="226.6" r="0.28" fill="#F4594F"/>
<circle cx="312.3" cy="226.6" r="0.5" fill="#2A6390"/>
<circle cx="326.6" cy="226.6" r="0.28" fill="#F4594F"/>
<circle cx="331.4" cy="226.6" r="0.5" fill="#2A6390"/>
<circle cx="345.7" cy="226.6" r="0.28" fill="#F4594F"/>
<circle cx="350.5" cy="226.6" r="0.5" fill="#2A6390"/>
<circle cx="39.5" cy="233.9" r="0.28" fill="#F4594F"/>
<circle cx="44.3" cy="233.9" r="0.5" fill="#2A6390"/>
<circle cx="58.6" cy="233.9" r="0.28" fill="#F4594F"/>
<circle cx="63.4" cy="233.9" r="0.5" fill="#2A6390"/>
<circle cx="77.8" cy="233.9" r="0.28" fill="#F4594F"/>
<circle cx="82.6" cy="233.9" r="0.5" fill="#2A6390"/>
<circle cx="96.9" cy="233.9" r="0.28" fill="#F4594F"/>
<circle cx="101.7" cy="233.9" r="0.5" fill="#2A6390"/>
<circle cx="116.1" cy="233.9" r="0.28" fill="#F4594F"/>
<circle cx="120.9" cy="233.9" r="0.28" fill="#2A6390"/>
<circle cx="135.2" cy="233.9" r="0.28" fill="#F4594F"/>
<circle cx="140.0" cy="233.9" r="0.28" fill="#2A6390"/>
<circle cx="154.3" cy="233.9" r="0.28" fill="#F4594F"/>
<circle cx="159.1" cy="233.9" r="0.28" fill="#2A6390"/>
<circle cx="173.5" cy="233.9" r="0.28" fill="#F4594F"/>
<circle cx="178.3" cy="233.9" r="0.28" fill="#2A6390"/>
<circle cx="192.6" cy="233.9" r="0.28" fill="#F4594F"/>
<circle cx="197.4" cy="233.9" r="0.28" fill="#2A6390"/>
<circle cx="211.8" cy="233.9" r="0.28" fill="#F4594F"/>
<circle cx="216.6" cy="233.9" r="0.28" fill="#2A6390"/>
<circle cx="230.9" cy="233.9" r="0.28" fill="#F4594F"/>
<circle cx="235.7" cy="233.9" r="0.28" fill="#2A6390"/>
<circle cx="250.0" cy="233.9" r="1.1" fill="#F4594F"/>
<circle cx="254.8" cy="233.9" r="0.5" fill="#2A6390"/>
<circle cx="269.2" cy="233.9" r="0.28" fill="#F4594F"/>
<circle cx="274.0" cy="233.9" r="0.28" fill="#2A6390"/>
<circle cx="288.3" cy="233.9" r="0.28" fill="#F4594F"/>
<circle cx="293.1" cy="233.9" r="0.28" fill="#2A6390"/>
<circle cx="307.5" cy="233.9" r="0.28" fill="#F4594F"/>
<circle cx="312.3" cy="233.9" r="0.28" fill="#2A6390"/>
<circle cx="326.6" cy="233.9" r="0.28" fill="#F4594F"/>
<circle cx="331.4" cy="233.9" r="0.28" fill="#2A6390"/>
<circle cx="345.7" cy="233.9" r="0.28" fill="#F4594F"/>
<circle cx="350.5" cy="233.9" r="0.28" fill="#2A6390"/>
<circle cx="39.5" cy="241.3" r="0.8" fill="#F4594F"/>
<circle cx="44.3" cy="241.3" r="0.8" fill="#2A6390"/>
<circle cx="58.6" cy="241.3" r="0.8" fill="#F4594F"/>
<circle cx="63.4" cy="241.3" r="0.8" fill="#2A6390"/>
<circle cx="77.8" cy="241.3" r="0.5" fill="#F4594F"/>
<circle cx="82.6" cy="241.3" r="0.8" fill="#2A6390"/>
<circle cx="96.9" cy="241.3" r="0.5" fill="#F4594F"/>
<circle cx="101.7" cy="241.3" r="1.1" fill="#2A6390"/>
<circle cx="116.1" cy="241.3" r="0.8" fill="#F4594F"/>
<circle cx="120.9" cy="241.3" r="0.8" fill="#2A6390"/>
<circle cx="135.2" cy="241.3" r="0.8" fill="#F4594F"/>
<circle cx="140.0" cy="241.3" r="0.8" fill="#2A6390"/>
<circle cx="154.3" cy="241.3" r="0.5" fill="#F4594F"/>
<circle cx="159.1" cy="241.3" r="0.8" fill="#2A6390"/>
<circle cx="173.5" cy="241.3" r="0.8" fill="#F4594F"/>
<circle cx="178.3" cy="241.3" r="1.1" fill="#2A6390"/>
<circle cx="192.6" cy="241.3" r="0.8" fill="#F4594F"/>
<circle cx="197.4" cy="241.3" r="1.1" fill="#2A6390"/>
<circle cx="211.8" cy="241.3" r="0.5" fill="#F4594F"/>
<circle cx="216.6" cy="241.3" r="0.8" fill="#2A6390"/>
<circle cx="230.9" cy="241.3" r="0.5" fill="#F4594F"/>
<circle cx="235.7" cy="241.3" r="1.1" fill="#2A6390"/>
<circle cx="250.0" cy="241.3" r="0.8" fill="#F4594F"/>
<circle cx="254.8" cy="241.3" r="0.8" fill="#2A6390"/>
<circle cx="269.2" cy="241.3" r="0.8" fill="#F4594F"/>
<circle cx="274.0" cy="241.3" r="0.8" fill="#2A6390"/>
<circle cx="288.3" cy="241.3" r="0.5" fill="#F4594F"/>
<circle cx="293.1" cy="241.3" r="0.8" fill="#2A6390"/>
<circle cx="307.5" cy="241.3" r="0.5" fill="#F4594F"/>
<circle cx="312.3" cy="241.3" r="0.8" fill="#2A6390"/>
<circle cx="326.6" cy="241.3" r="0.5" fill="#F4594F"/>
<circle cx="331.4" cy="241.3" r="0.8" fill="#2A6390"/>
<circle cx="345.7" cy="241.3" r="0.5" fill="#F4594F"/>
<circle cx="350.5" cy="241.3" r="0.8" fill="#2A6390"/>
<circle cx="39.5" cy="248.6" r="1.9" fill="#F4594F"/>
<circle cx="44.3" cy="248.6" r="1.1" fill="#2A6390"/>
<circle cx="58.6" cy="248.6" r="1.1" fill="#F4594F"/>
<circle cx="63.4" cy="248.6" r="1.1" fill="#2A6390"/>
<circle cx="77.8" cy="248.6" r="0.5" fill="#F4594F"/>
<circle cx="82.6" cy="248.6" r="0.5" fill="#2A6390"/>
<circle cx="96.9" cy="248.6" r="2.4" fill="#F4594F"/>
<circle cx="101.7" cy="248.6" r="1.1" fill="#2A6390"/>
<circle cx="116.1" cy="248.6" r="1.9" fill="#F4594F"/>
<circle cx="120.9" cy="248.6" r="1.1" fill="#2A6390"/>
<circle cx="135.2" cy="248.6" r="1.9" fill="#F4594F"/>
<circle cx="140.0" cy="248.6" r="0.8" fill="#2A6390"/>
<circle cx="154.3" cy="248.6" r="2.4" fill="#F4594F"/>
<circle cx="159.1" cy="248.6" r="1.1" fill="#2A6390"/>
<circle cx="173.5" cy="248.6" r="1.9" fill="#F4594F"/>
<circle cx="178.3" cy="248.6" r="0.8" fill="#2A6390"/>
<circle cx="192.6" cy="248.6" r="1.9" fill="#F4594F"/>
<circle cx="197.4" cy="248.6" r="0.8" fill="#2A6390"/>
<circle cx="211.8" cy="248.6" r="1.1" fill="#F4594F"/>
<circle cx="216.6" cy="248.6" r="0.8" fill="#2A6390"/>
<circle cx="230.9" cy="248.6" r="0.8" fill="#F4594F"/>
<circle cx="235.7" cy="248.6" r="0.5" fill="#2A6390"/>
<circle cx="250.0" cy="248.6" r="0.8" fill="#F4594F"/>
<circle cx="254.8" cy="248.6" r="0.8" fill="#2A6390"/>
<circle cx="269.2" cy="248.6" r="0.5" fill="#F4594F"/>
<circle cx="274.0" cy="248.6" r="0.5" fill="#2A6390"/>
<circle cx="288.3" cy="248.6" r="1.1" fill="#F4594F"/>
<circle cx="293.1" cy="248.6" r="0.8" fill="#2A6390"/>
<circle cx="307.5" cy="248.6" r="1.1" fill="#F4594F"/>
<circle cx="312.3" cy="248.6" r="0.8" fill="#2A6390"/>
<circle cx="326.6" cy="248.6" r="1.9" fill="#F4594F"/>
<circle cx="331.4" cy="248.6" r="1.5" fill="#2A6390"/>
<circle cx="345.7" cy="248.6" r="1.9" fill="#F4594F"/>
<circle cx="350.5" cy="248.6" r="0.8" fill="#2A6390"/>
<circle cx="39.5" cy="255.9" r="2.4" fill="#F4594F"/>
<circle cx="44.3" cy="255.9" r="1.1" fill="#2A6390"/>
<circle cx="58.6" cy="255.9" r="1.5" fill="#F4594F"/>
<circle cx="63.4" cy="255.9" r="1.1" fill="#2A6390"/>
<circle cx="77.8" cy="255.9" r="0.8" fill="#F4594F"/>
<circle cx="82.6" cy="255.9" r="0.8" fill="#2A6390"/>
<circle cx="96.9" cy="255.9" r="1.5" fill="#F4594F"/>
<circle cx="101.7" cy="255.9" r="1.1" fill="#2A6390"/>
<circle cx="116.1" cy="255.9" r="1.5" fill="#F4594F"/>
<circle cx="120.9" cy="255.9" r="1.1" fill="#2A6390"/>
<circle cx="135.2" cy="255.9" r="1.1" fill="#F4594F"/>
<circle cx="140.0" cy="255.9" r="1.1" fill="#2A6390"/>
<circle cx="154.3" cy="255.9" r="1.1" fill="#F4594F"/>
<circle cx="159.1" cy="255.9" r="1.1" fill="#2A6390"/>
<circle cx="173.5" cy="255.9" r="0.8" fill="#F4594F"/>
<circle cx="178.3" cy="255.9" r="0.5" fill="#2A6390"/>
<circle cx="192.6" cy="255.9" r="0.8" fill="#F4594F"/>
<circle cx="197.4" cy="255.9" r="0.5" fill="#2A6390"/>
<circle cx="211.8" cy="255.9" r="1.5" fill="#F4594F"/>
<circle cx="216.6" cy="255.9" r="1.5" fill="#2A6390"/>
<circle cx="230.9" cy="255.9" r="0.8" fill="#F4594F"/>
<circle cx="235.7" cy="255.9" r="0.5" fill="#2A6390"/>
<circle cx="250.0" cy="255.9" r="0.5" fill="#F4594F"/>
<circle cx="254.8" cy="255.9" r="0.5" fill="#2A6390"/>
<circle cx="269.2" cy="255.9" r="1.9" fill="#F4594F"/>
<circle cx="274.0" cy="255.9" r="1.1" fill="#2A6390"/>
<circle cx="288.3" cy="255.9" r="0.5" fill="#F4594F"/>
<circle cx="293.1" cy="255.9" r="0.5" fill="#2A6390"/>
<circle cx="307.5" cy="255.9" r="1.5" fill="#F4594F"/>
<circle cx="312.3" cy="255.9" r="1.1" fill="#2A6390"/>
<circle cx="326.6" cy="255.9" r="1.5" fill="#F4594F"/>
<circle cx="331.4" cy="255.9" r="1.1" fill="#2A6390"/>
<circle cx="345.7" cy="255.9" r="1.1" fill="#F4594F"/>
<circle cx="350.5" cy="255.9" r="1.1" fill="#2A6390"/>
<circle cx="39.4" cy="336.9" r="1.15" fill="#F4594F"/>
<circle cx="46.3" cy="336.9" r="0.7" fill="#2A6390"/>
<circle cx="59.5" cy="336.9" r="0.7" fill="#F4594F"/>
<circle cx="66.4" cy="336.9" r="0.7" fill="#2A6390"/>
<circle cx="79.5" cy="336.9" r="1.15" fill="#F4594F"/>
<circle cx="86.4" cy="336.9" r="1.15" fill="#2A6390"/>
<circle cx="99.6" cy="336.9" r="1.15" fill="#F4594F"/>
<circle cx="106.5" cy="336.9" r="1.15" fill="#2A6390"/>
<circle cx="119.7" cy="336.9" r="1.15" fill="#F4594F"/>
<circle cx="126.6" cy="336.9" r="0.7" fill="#2A6390"/>
<circle cx="139.8" cy="336.9" r="0.7" fill="#F4594F"/>
<circle cx="146.7" cy="336.9" r="0.7" fill="#2A6390"/>
<circle cx="159.8" cy="336.9" r="1.15" fill="#F4594F"/>
<circle cx="166.7" cy="336.9" r="1.15" fill="#2A6390"/>
<circle cx="179.9" cy="336.9" r="1.15" fill="#F4594F"/>
<circle cx="186.8" cy="336.9" r="0.7" fill="#2A6390"/>
<circle cx="200.0" cy="336.9" r="1.15" fill="#F4594F"/>
<circle cx="206.9" cy="336.9" r="1.15" fill="#2A6390"/>
<circle cx="220.0" cy="336.9" r="1.15" fill="#F4594F"/>
<circle cx="226.9" cy="336.9" r="0.7" fill="#2A6390"/>
<circle cx="240.1" cy="336.9" r="1.15" fill="#F4594F"/>
<circle cx="247.0" cy="336.9" r="0.7" fill="#2A6390"/>
<circle cx="260.2" cy="336.9" r="1.15" fill="#F4594F"/>
<circle cx="267.1" cy="336.9" r="1.15" fill="#2A6390"/>
<circle cx="280.2" cy="336.9" r="1.5" fill="#F4594F"/>
<circle cx="287.1" cy="336.9" r="1.15" fill="#2A6390"/>
<circle cx="300.3" cy="336.9" r="1.15" fill="#F4594F"/>
<circle cx="307.2" cy="336.9" r="0.7" fill="#2A6390"/>
<circle cx="320.4" cy="336.9" r="1.5" fill="#F4594F"/>
<circle cx="327.3" cy="336.9" r="1.5" fill="#2A6390"/>
<circle cx="340.4" cy="336.9" r="1.15" fill="#F4594F"/>
<circle cx="347.3" cy="336.9" r="1.15" fill="#2A6390"/>
<circle cx="376.9" cy="336.9" r="1.5" fill="#F4594F"/>
<circle cx="383.5" cy="336.9" r="1.15" fill="#2A6390"/>
<circle cx="393.5" cy="336.9" r="2.6" fill="#F4594F"/>
<circle cx="400.1" cy="336.9" r="1.15" fill="#2A6390"/>
<circle cx="39.4" cy="344.5" r="0.7" fill="#F4594F"/>
<circle cx="46.3" cy="344.5" r="0.7" fill="#2A6390"/>
<circle cx="59.5" cy="344.5" r="2.1" fill="#F4594F"/>
<circle cx="66.4" cy="344.5" r="2.6" fill="#2A6390"/>
<circle cx="79.5" cy="344.5" r="0.7" fill="#F4594F"/>
<circle cx="86.4" cy="344.5" r="0.7" fill="#2A6390"/>
<circle cx="99.6" cy="344.5" r="0.7" fill="#F4594F"/>
<circle cx="106.5" cy="344.5" r="0.7" fill="#2A6390"/>
<circle cx="119.7" cy="344.5" r="1.15" fill="#F4594F"/>
<circle cx="126.6" cy="344.5" r="0.7" fill="#2A6390"/>
<circle cx="139.8" cy="344.5" r="0.7" fill="#F4594F"/>
<circle cx="146.7" cy="344.5" r="0.7" fill="#2A6390"/>
<circle cx="159.8" cy="344.5" r="0.7" fill="#F4594F"/>
<circle cx="166.7" cy="344.5" r="0.7" fill="#2A6390"/>
<circle cx="179.9" cy="344.5" r="0.7" fill="#F4594F"/>
<circle cx="186.8" cy="344.5" r="0.7" fill="#2A6390"/>
<circle cx="200.0" cy="344.5" r="0.7" fill="#F4594F"/>
<circle cx="206.9" cy="344.5" r="0.7" fill="#2A6390"/>
<circle cx="220.0" cy="344.5" r="0.7" fill="#F4594F"/>
<circle cx="226.9" cy="344.5" r="0.7" fill="#2A6390"/>
<circle cx="240.1" cy="344.5" r="0.7" fill="#F4594F"/>
<circle cx="247.0" cy="344.5" r="0.7" fill="#2A6390"/>
<circle cx="260.2" cy="344.5" r="0.7" fill="#F4594F"/>
<circle cx="267.1" cy="344.5" r="0.7" fill="#2A6390"/>
<circle cx="280.2" cy="344.5" r="0.7" fill="#F4594F"/>
<circle cx="287.1" cy="344.5" r="0.7" fill="#2A6390"/>
<circle cx="300.3" cy="344.5" r="0.7" fill="#F4594F"/>
<circle cx="307.2" cy="344.5" r="0.7" fill="#2A6390"/>
<circle cx="320.4" cy="344.5" r="0.7" fill="#F4594F"/>
<circle cx="327.3" cy="344.5" r="0.7" fill="#2A6390"/>
<circle cx="340.4" cy="344.5" r="0.7" fill="#F4594F"/>
<circle cx="347.3" cy="344.5" r="0.7" fill="#2A6390"/>
<circle cx="376.9" cy="344.5" r="0.7" fill="#F4594F"/>
<circle cx="383.5" cy="344.5" r="0.7" fill="#2A6390"/>
<circle cx="393.5" cy="344.5" r="0.7" fill="#F4594F"/>
<circle cx="400.1" cy="344.5" r="0.7" fill="#2A6390"/>
<circle cx="39.4" cy="352.2" r="0.7" fill="#F4594F"/>
<circle cx="46.3" cy="352.2" r="0.35" fill="#2A6390"/>
<circle cx="59.5" cy="352.2" r="0.7" fill="#F4594F"/>
<circle cx="66.4" cy="352.2" r="0.35" fill="#2A6390"/>
<circle cx="79.5" cy="352.2" r="0.7" fill="#F4594F"/>
<circle cx="86.4" cy="352.2" r="0.35" fill="#2A6390"/>
<circle cx="99.6" cy="352.2" r="0.7" fill="#F4594F"/>
<circle cx="106.5" cy="352.2" r="0.35" fill="#2A6390"/>
<circle cx="119.7" cy="352.2" r="0.7" fill="#F4594F"/>
<circle cx="126.6" cy="352.2" r="0.35" fill="#2A6390"/>
<circle cx="139.8" cy="352.2" r="0.7" fill="#F4594F"/>
<circle cx="146.7" cy="352.2" r="0.35" fill="#2A6390"/>
<circle cx="159.8" cy="352.2" r="0.7" fill="#F4594F"/>
<circle cx="166.7" cy="352.2" r="0.35" fill="#2A6390"/>
<circle cx="179.9" cy="352.2" r="0.7" fill="#F4594F"/>
<circle cx="186.8" cy="352.2" r="0.35" fill="#2A6390"/>
<circle cx="200.0" cy="352.2" r="0.7" fill="#F4594F"/>
<circle cx="206.9" cy="352.2" r="0.35" fill="#2A6390"/>
<circle cx="220.0" cy="352.2" r="1.5" fill="#F4594F"/>
<circle cx="226.9" cy="352.2" r="0.35" fill="#2A6390"/>
<circle cx="240.1" cy="352.2" r="0.7" fill="#F4594F"/>
<circle cx="247.0" cy="352.2" r="0.35" fill="#2A6390"/>
<circle cx="260.2" cy="352.2" r="0.7" fill="#F4594F"/>
<circle cx="267.1" cy="352.2" r="0.35" fill="#2A6390"/>
<circle cx="280.2" cy="352.2" r="0.7" fill="#F4594F"/>
<circle cx="287.1" cy="352.2" r="0.35" fill="#2A6390"/>
<circle cx="300.3" cy="352.2" r="0.7" fill="#F4594F"/>
<circle cx="307.2" cy="352.2" r="0.35" fill="#2A6390"/>
<circle cx="320.4" cy="352.2" r="0.7" fill="#F4594F"/>
<circle cx="327.3" cy="352.2" r="0.35" fill="#2A6390"/>
<circle cx="340.4" cy="352.2" r="0.7" fill="#F4594F"/>
<circle cx="347.3" cy="352.2" r="0.35" fill="#2A6390"/>
<circle cx="376.9" cy="352.2" r="0.7" fill="#F4594F"/>
<circle cx="383.5" cy="352.2" r="0.35" fill="#2A6390"/>
<circle cx="393.5" cy="352.2" r="0.7" fill="#F4594F"/>
<circle cx="400.1" cy="352.2" r="0.35" fill="#2A6390"/>
<circle cx="39.4" cy="359.8" r="0.7" fill="#F4594F"/>
<circle cx="46.3" cy="359.8" r="1.15" fill="#2A6390"/>
<circle cx="59.5" cy="359.8" r="0.7" fill="#F4594F"/>
<circle cx="66.4" cy="359.8" r="0.7" fill="#2A6390"/>
<circle cx="79.5" cy="359.8" r="1.5" fill="#F4594F"/>
<circle cx="86.4" cy="359.8" r="1.5" fill="#2A6390"/>
<circle cx="99.6" cy="359.8" r="2.1" fill="#F4594F"/>
<circle cx="106.5" cy="359.8" r="2.6" fill="#2A6390"/>
<circle cx="119.7" cy="359.8" r="0.7" fill="#F4594F"/>
<circle cx="126.6" cy="359.8" r="0.7" fill="#2A6390"/>
<circle cx="139.8" cy="359.8" r="0.7" fill="#F4594F"/>
<circle cx="146.7" cy="359.8" r="0.7" fill="#2A6390"/>
<circle cx="159.8" cy="359.8" r="2.1" fill="#F4594F"/>
<circle cx="166.7" cy="359.8" r="1.5" fill="#2A6390"/>
<circle cx="179.9" cy="359.8" r="0.7" fill="#F4594F"/>
<circle cx="186.8" cy="359.8" r="0.7" fill="#2A6390"/>
<circle cx="200.0" cy="359.8" r="1.5" fill="#F4594F"/>
<circle cx="206.9" cy="359.8" r="2.1" fill="#2A6390"/>
<circle cx="220.0" cy="359.8" r="2.1" fill="#F4594F"/>
<circle cx="226.9" cy="359.8" r="1.5" fill="#2A6390"/>
<circle cx="240.1" cy="359.8" r="2.1" fill="#F4594F"/>
<circle cx="247.0" cy="359.8" r="2.6" fill="#2A6390"/>
<circle cx="260.2" cy="359.8" r="2.1" fill="#F4594F"/>
<circle cx="267.1" cy="359.8" r="2.1" fill="#2A6390"/>
<circle cx="280.2" cy="359.8" r="0.7" fill="#F4594F"/>
<circle cx="287.1" cy="359.8" r="0.7" fill="#2A6390"/>
<circle cx="300.3" cy="359.8" r="2.1" fill="#F4594F"/>
<circle cx="307.2" cy="359.8" r="2.1" fill="#2A6390"/>
<circle cx="320.4" cy="359.8" r="1.15" fill="#F4594F"/>
<circle cx="327.3" cy="359.8" r="1.5" fill="#2A6390"/>
<circle cx="340.4" cy="359.8" r="0.7" fill="#F4594F"/>
<circle cx="347.3" cy="359.8" r="0.7" fill="#2A6390"/>
<circle cx="376.9" cy="359.8" r="0.7" fill="#F4594F"/>
<circle cx="383.5" cy="359.8" r="0.7" fill="#2A6390"/>
<circle cx="393.5" cy="359.8" r="0.7" fill="#F4594F"/>
<circle cx="400.1" cy="359.8" r="0.7" fill="#2A6390"/>
<circle cx="39.4" cy="367.5" r="0.7" fill="#F4594F"/>
<circle cx="46.3" cy="367.5" r="0.7" fill="#2A6390"/>
<circle cx="59.5" cy="367.5" r="0.7" fill="#F4594F"/>
<circle cx="66.4" cy="367.5" r="0.7" fill="#2A6390"/>
<circle cx="79.5" cy="367.5" r="0.7" fill="#F4594F"/>
<circle cx="86.4" cy="367.5" r="1.15" fill="#2A6390"/>
<circle cx="99.6" cy="367.5" r="0.7" fill="#F4594F"/>
<circle cx="106.5" cy="367.5" r="0.7" fill="#2A6390"/>
<circle cx="119.7" cy="367.5" r="1.15" fill="#F4594F"/>
<circle cx="126.6" cy="367.5" r="1.5" fill="#2A6390"/>
<circle cx="139.8" cy="367.5" r="1.15" fill="#F4594F"/>
<circle cx="146.7" cy="367.5" r="1.15" fill="#2A6390"/>
<circle cx="159.8" cy="367.5" r="0.7" fill="#F4594F"/>
<circle cx="166.7" cy="367.5" r="0.7" fill="#2A6390"/>
<circle cx="179.9" cy="367.5" r="0.7" fill="#F4594F"/>
<circle cx="186.8" cy="367.5" r="0.7" fill="#2A6390"/>
<circle cx="200.0" cy="367.5" r="0.7" fill="#F4594F"/>
<circle cx="206.9" cy="367.5" r="1.15" fill="#2A6390"/>
<circle cx="220.0" cy="367.5" r="0.7" fill="#F4594F"/>
<circle cx="226.9" cy="367.5" r="0.7" fill="#2A6390"/>
<circle cx="240.1" cy="367.5" r="0.7" fill="#F4594F"/>
<circle cx="247.0" cy="367.5" r="0.7" fill="#2A6390"/>
<circle cx="260.2" cy="367.5" r="0.7" fill="#F4594F"/>
<circle cx="267.1" cy="367.5" r="1.15" fill="#2A6390"/>
<circle cx="280.2" cy="367.5" r="0.7" fill="#F4594F"/>
<circle cx="287.1" cy="367.5" r="1.15" fill="#2A6390"/>
<circle cx="300.3" cy="367.5" r="0.7" fill="#F4594F"/>
<circle cx="307.2" cy="367.5" r="0.7" fill="#2A6390"/>
<circle cx="320.4" cy="367.5" r="0.7" fill="#F4594F"/>
<circle cx="327.3" cy="367.5" r="0.7" fill="#2A6390"/>
<circle cx="340.4" cy="367.5" r="0.7" fill="#F4594F"/>
<circle cx="347.3" cy="367.5" r="1.15" fill="#2A6390"/>
<circle cx="376.9" cy="367.5" r="1.5" fill="#F4594F"/>
<circle cx="383.5" cy="367.5" r="1.15" fill="#2A6390"/>
<circle cx="393.5" cy="367.5" r="2.6" fill="#F4594F"/>
<circle cx="400.1" cy="367.5" r="1.15" fill="#2A6390"/>
<circle cx="39.4" cy="375.1" r="0.35" fill="#F4594F"/>
<circle cx="46.3" cy="375.1" r="0.7" fill="#2A6390"/>
<circle cx="59.5" cy="375.1" r="0.35" fill="#F4594F"/>
<circle cx="66.4" cy="375.1" r="0.7" fill="#2A6390"/>
<circle cx="79.5" cy="375.1" r="0.35" fill="#F4594F"/>
<circle cx="86.4" cy="375.1" r="0.7" fill="#2A6390"/>
<circle cx="99.6" cy="375.1" r="0.35" fill="#F4594F"/>
<circle cx="106.5" cy="375.1" r="0.7" fill="#2A6390"/>
<circle cx="119.7" cy="375.1" r="0.35" fill="#F4594F"/>
<circle cx="126.6" cy="375.1" r="0.7" fill="#2A6390"/>
<circle cx="139.8" cy="375.1" r="0.35" fill="#F4594F"/>
<circle cx="146.7" cy="375.1" r="0.7" fill="#2A6390"/>
<circle cx="159.8" cy="375.1" r="0.35" fill="#F4594F"/>
<circle cx="166.7" cy="375.1" r="0.7" fill="#2A6390"/>
<circle cx="179.9" cy="375.1" r="0.35" fill="#F4594F"/>
<circle cx="186.8" cy="375.1" r="1.15" fill="#2A6390"/>
<circle cx="200.0" cy="375.1" r="0.35" fill="#F4594F"/>
<circle cx="206.9" cy="375.1" r="0.35" fill="#2A6390"/>
<circle cx="220.0" cy="375.1" r="0.35" fill="#F4594F"/>
<circle cx="226.9" cy="375.1" r="1.5" fill="#2A6390"/>
<circle cx="240.1" cy="375.1" r="0.35" fill="#F4594F"/>
<circle cx="247.0" cy="375.1" r="0.7" fill="#2A6390"/>
<circle cx="260.2" cy="375.1" r="0.35" fill="#F4594F"/>
<circle cx="267.1" cy="375.1" r="0.7" fill="#2A6390"/>
<circle cx="280.2" cy="375.1" r="0.35" fill="#F4594F"/>
<circle cx="287.1" cy="375.1" r="0.7" fill="#2A6390"/>
<circle cx="300.3" cy="375.1" r="0.35" fill="#F4594F"/>
<circle cx="307.2" cy="375.1" r="0.7" fill="#2A6390"/>
<circle cx="320.4" cy="375.1" r="0.35" fill="#F4594F"/>
<circle cx="327.3" cy="375.1" r="0.7" fill="#2A6390"/>
<circle cx="340.4" cy="375.1" r="0.35" fill="#F4594F"/>
<circle cx="347.3" cy="375.1" r="0.7" fill="#2A6390"/>
<circle cx="376.9" cy="375.1" r="0.35" fill="#F4594F"/>
<circle cx="383.5" cy="375.1" r="0.7" fill="#2A6390"/>
<circle cx="393.5" cy="375.1" r="0.35" fill="#F4594F"/>
<circle cx="400.1" cy="375.1" r="0.7" fill="#2A6390"/>
<circle cx="39.4" cy="382.8" r="1.15" fill="#F4594F"/>
<circle cx="46.3" cy="382.8" r="1.5" fill="#2A6390"/>
<circle cx="59.5" cy="382.8" r="0.7" fill="#F4594F"/>
<circle cx="66.4" cy="382.8" r="1.15" fill="#2A6390"/>
<circle cx="79.5" cy="382.8" r="1.15" fill="#F4594F"/>
<circle cx="86.4" cy="382.8" r="1.5" fill="#2A6390"/>
<circle cx="99.6" cy="382.8" r="0.7" fill="#F4594F"/>
<circle cx="106.5" cy="382.8" r="1.15" fill="#2A6390"/>
<circle cx="119.7" cy="382.8" r="1.15" fill="#F4594F"/>
<circle cx="126.6" cy="382.8" r="1.5" fill="#2A6390"/>
<circle cx="139.8" cy="382.8" r="0.7" fill="#F4594F"/>
<circle cx="146.7" cy="382.8" r="1.15" fill="#2A6390"/>
<circle cx="159.8" cy="382.8" r="1.15" fill="#F4594F"/>
<circle cx="166.7" cy="382.8" r="1.5" fill="#2A6390"/>
<circle cx="179.9" cy="382.8" r="1.15" fill="#F4594F"/>
<circle cx="186.8" cy="382.8" r="1.15" fill="#2A6390"/>
<circle cx="200.0" cy="382.8" r="1.5" fill="#F4594F"/>
<circle cx="206.9" cy="382.8" r="2.6" fill="#2A6390"/>
<circle cx="220.0" cy="382.8" r="0.7" fill="#F4594F"/>
<circle cx="226.9" cy="382.8" r="1.15" fill="#2A6390"/>
<circle cx="240.1" cy="382.8" r="0.7" fill="#F4594F"/>
<circle cx="247.0" cy="382.8" r="1.15" fill="#2A6390"/>
<circle cx="260.2" cy="382.8" r="1.15" fill="#F4594F"/>
<circle cx="267.1" cy="382.8" r="1.5" fill="#2A6390"/>
<circle cx="280.2" cy="382.8" r="1.5" fill="#F4594F"/>
<circle cx="287.1" cy="382.8" r="2.1" fill="#2A6390"/>
<circle cx="300.3" cy="382.8" r="1.15" fill="#F4594F"/>
<circle cx="307.2" cy="382.8" r="1.15" fill="#2A6390"/>
<circle cx="320.4" cy="382.8" r="0.7" fill="#F4594F"/>
<circle cx="327.3" cy="382.8" r="1.5" fill="#2A6390"/>
<circle cx="340.4" cy="382.8" r="1.15" fill="#F4594F"/>
<circle cx="347.3" cy="382.8" r="2.1" fill="#2A6390"/>
<circle cx="376.9" cy="382.8" r="3.75" fill="#F4594F"/>
<circle cx="383.5" cy="382.8" r="3.75" fill="#2A6390"/>
<circle cx="393.5" cy="382.8" r="2.6" fill="#F4594F"/>
<circle cx="400.1" cy="382.8" r="2.6" fill="#2A6390"/>
<circle cx="39.4" cy="390.4" r="1.15" fill="#F4594F"/>
<circle cx="46.3" cy="390.4" r="1.5" fill="#2A6390"/>
<circle cx="59.5" cy="390.4" r="0.7" fill="#F4594F"/>
<circle cx="66.4" cy="390.4" r="0.7" fill="#2A6390"/>
<circle cx="79.5" cy="390.4" r="1.15" fill="#F4594F"/>
<circle cx="86.4" cy="390.4" r="1.5" fill="#2A6390"/>
<circle cx="99.6" cy="390.4" r="1.15" fill="#F4594F"/>
<circle cx="106.5" cy="390.4" r="1.5" fill="#2A6390"/>
<circle cx="119.7" cy="390.4" r="1.5" fill="#F4594F"/>
<circle cx="126.6" cy="390.4" r="1.5" fill="#2A6390"/>
<circle cx="139.8" cy="390.4" r="1.5" fill="#F4594F"/>
<circle cx="146.7" cy="390.4" r="1.5" fill="#2A6390"/>
<circle cx="159.8" cy="390.4" r="1.15" fill="#F4594F"/>
<circle cx="166.7" cy="390.4" r="1.15" fill="#2A6390"/>
<circle cx="179.9" cy="390.4" r="1.15" fill="#F4594F"/>
<circle cx="186.8" cy="390.4" r="0.7" fill="#2A6390"/>
<circle cx="200.0" cy="390.4" r="0.7" fill="#F4594F"/>
<circle cx="206.9" cy="390.4" r="0.7" fill="#2A6390"/>
<circle cx="220.0" cy="390.4" r="0.7" fill="#F4594F"/>
<circle cx="226.9" cy="390.4" r="0.7" fill="#2A6390"/>
<circle cx="240.1" cy="390.4" r="1.15" fill="#F4594F"/>
<circle cx="247.0" cy="390.4" r="1.15" fill="#2A6390"/>
<circle cx="260.2" cy="390.4" r="0.7" fill="#F4594F"/>
<circle cx="267.1" cy="390.4" r="1.5" fill="#2A6390"/>
<circle cx="280.2" cy="390.4" r="0.7" fill="#F4594F"/>
<circle cx="287.1" cy="390.4" r="0.7" fill="#2A6390"/>
<circle cx="300.3" cy="390.4" r="0.7" fill="#F4594F"/>
<circle cx="307.2" cy="390.4" r="1.15" fill="#2A6390"/>
<circle cx="320.4" cy="390.4" r="0.7" fill="#F4594F"/>
<circle cx="327.3" cy="390.4" r="0.7" fill="#2A6390"/>
<circle cx="340.4" cy="390.4" r="0.7" fill="#F4594F"/>
<circle cx="347.3" cy="390.4" r="0.7" fill="#2A6390"/>
<circle cx="376.9" cy="390.4" r="0.7" fill="#F4594F"/>
<circle cx="383.5" cy="390.4" r="0.7" fill="#2A6390"/>
<circle cx="393.5" cy="390.4" r="1.15" fill="#F4594F"/>
<circle cx="400.1" cy="390.4" r="0.7" fill="#2A6390"/>
<circle cx="39.4" cy="398.1" r="0.7" fill="#F4594F"/>
<circle cx="46.3" cy="398.1" r="0.7" fill="#2A6390"/>
<circle cx="59.5" cy="398.1" r="0.7" fill="#F4594F"/>
<circle cx="66.4" cy="398.1" r="0.7" fill="#2A6390"/>
<circle cx="79.5" cy="398.1" r="0.7" fill="#F4594F"/>
<circle cx="86.4" cy="398.1" r="0.7" fill="#2A6390"/>
<circle cx="99.6" cy="398.1" r="1.15" fill="#F4594F"/>
<circle cx="106.5" cy="398.1" r="1.5" fill="#2A6390"/>
<circle cx="119.7" cy="398.1" r="0.7" fill="#F4594F"/>
<circle cx="126.6" cy="398.1" r="0.7" fill="#2A6390"/>
<circle cx="139.8" cy="398.1" r="0.7" fill="#F4594F"/>
<circle cx="146.7" cy="398.1" r="0.7" fill="#2A6390"/>
<circle cx="159.8" cy="398.1" r="0.7" fill="#F4594F"/>
<circle cx="166.7" cy="398.1" r="0.35" fill="#2A6390"/>
<circle cx="179.9" cy="398.1" r="0.7" fill="#F4594F"/>
<circle cx="186.8" cy="398.1" r="0.35" fill="#2A6390"/>
<circle cx="200.0" cy="398.1" r="0.7" fill="#F4594F"/>
<circle cx="206.9" cy="398.1" r="0.7" fill="#2A6390"/>
<circle cx="220.0" cy="398.1" r="1.5" fill="#F4594F"/>
<circle cx="226.9" cy="398.1" r="1.15" fill="#2A6390"/>
<circle cx="240.1" cy="398.1" r="1.15" fill="#F4594F"/>
<circle cx="247.0" cy="398.1" r="1.15" fill="#2A6390"/>
<circle cx="260.2" cy="398.1" r="0.7" fill="#F4594F"/>
<circle cx="267.1" cy="398.1" r="0.7" fill="#2A6390"/>
<circle cx="280.2" cy="398.1" r="0.7" fill="#F4594F"/>
<circle cx="287.1" cy="398.1" r="0.7" fill="#2A6390"/>
<circle cx="300.3" cy="398.1" r="0.7" fill="#F4594F"/>
<circle cx="307.2" cy="398.1" r="0.7" fill="#2A6390"/>
<circle cx="320.4" cy="398.1" r="0.7" fill="#F4594F"/>
<circle cx="327.3" cy="398.1" r="0.7" fill="#2A6390"/>
<circle cx="340.4" cy="398.1" r="0.35" fill="#F4594F"/>
<circle cx="347.3" cy="398.1" r="0.35" fill="#2A6390"/>
<circle cx="376.9" cy="398.1" r="0.7" fill="#F4594F"/>
<circle cx="383.5" cy="398.1" r="0.7" fill="#2A6390"/>
<circle cx="393.5" cy="398.1" r="0.7" fill="#F4594F"/>
<circle cx="400.1" cy="398.1" r="0.7" fill="#2A6390"/>
<circle cx="39.4" cy="405.8" r="2.1" fill="#F4594F"/>
<circle cx="46.3" cy="405.8" r="2.1" fill="#2A6390"/>
<circle cx="59.5" cy="405.8" r="1.5" fill="#F4594F"/>
<circle cx="66.4" cy="405.8" r="2.1" fill="#2A6390"/>
<circle cx="79.5" cy="405.8" r="2.1" fill="#F4594F"/>
<circle cx="86.4" cy="405.8" r="2.1" fill="#2A6390"/>
<circle cx="99.6" cy="405.8" r="1.5" fill="#F4594F"/>
<circle cx="106.5" cy="405.8" r="2.1" fill="#2A6390"/>
<circle cx="119.7" cy="405.8" r="3.1" fill="#F4594F"/>
<circle cx="126.6" cy="405.8" r="2.1" fill="#2A6390"/>
<circle cx="139.8" cy="405.8" r="1.5" fill="#F4594F"/>
<circle cx="146.7" cy="405.8" r="1.5" fill="#2A6390"/>
<circle cx="159.8" cy="405.8" r="3.1" fill="#F4594F"/>
<circle cx="166.7" cy="405.8" r="2.1" fill="#2A6390"/>
<circle cx="179.9" cy="405.8" r="1.5" fill="#F4594F"/>
<circle cx="186.8" cy="405.8" r="1.5" fill="#2A6390"/>
<circle cx="200.0" cy="405.8" r="2.6" fill="#F4594F"/>
<circle cx="206.9" cy="405.8" r="2.6" fill="#2A6390"/>
<circle cx="220.0" cy="405.8" r="1.5" fill="#F4594F"/>
<circle cx="226.9" cy="405.8" r="1.15" fill="#2A6390"/>
<circle cx="240.1" cy="405.8" r="1.5" fill="#F4594F"/>
<circle cx="247.0" cy="405.8" r="1.5" fill="#2A6390"/>
<circle cx="260.2" cy="405.8" r="2.1" fill="#F4594F"/>
<circle cx="267.1" cy="405.8" r="2.1" fill="#2A6390"/>
<circle cx="280.2" cy="405.8" r="2.6" fill="#F4594F"/>
<circle cx="287.1" cy="405.8" r="2.1" fill="#2A6390"/>
<circle cx="300.3" cy="405.8" r="2.1" fill="#F4594F"/>
<circle cx="307.2" cy="405.8" r="1.5" fill="#2A6390"/>
<circle cx="320.4" cy="405.8" r="1.5" fill="#F4594F"/>
<circle cx="327.3" cy="405.8" r="1.5" fill="#2A6390"/>
<circle cx="340.4" cy="405.8" r="1.5" fill="#F4594F"/>
<circle cx="347.3" cy="405.8" r="1.5" fill="#2A6390"/>
<circle cx="376.9" cy="405.8" r="1.15" fill="#F4594F"/>
<circle cx="383.5" cy="405.8" r="1.15" fill="#2A6390"/>
<circle cx="393.5" cy="405.8" r="1.15" fill="#F4594F"/>
<circle cx="400.1" cy="405.8" r="1.15" fill="#2A6390"/>
<circle cx="39.4" cy="413.4" r="1.5" fill="#F4594F"/>
<circle cx="46.3" cy="413.4" r="1.5" fill="#2A6390"/>
<circle cx="59.5" cy="413.4" r="1.5" fill="#F4594F"/>
<circle cx="66.4" cy="413.4" r="2.1" fill="#2A6390"/>
<circle cx="79.5" cy="413.4" r="1.5" fill="#F4594F"/>
<circle cx="86.4" cy="413.4" r="1.5" fill="#2A6390"/>
<circle cx="99.6" cy="413.4" r="1.5" fill="#F4594F"/>
<circle cx="106.5" cy="413.4" r="1.5" fill="#2A6390"/>
<circle cx="119.7" cy="413.4" r="1.5" fill="#F4594F"/>
<circle cx="126.6" cy="413.4" r="1.5" fill="#2A6390"/>
<circle cx="139.8" cy="413.4" r="1.5" fill="#F4594F"/>
<circle cx="146.7" cy="413.4" r="1.15" fill="#2A6390"/>
<circle cx="159.8" cy="413.4" r="1.5" fill="#F4594F"/>
<circle cx="166.7" cy="413.4" r="1.5" fill="#2A6390"/>
<circle cx="179.9" cy="413.4" r="1.15" fill="#F4594F"/>
<circle cx="186.8" cy="413.4" r="1.15" fill="#2A6390"/>
<circle cx="200.0" cy="413.4" r="2.1" fill="#F4594F"/>
<circle cx="206.9" cy="413.4" r="2.1" fill="#2A6390"/>
<circle cx="220.0" cy="413.4" r="1.15" fill="#F4594F"/>
<circle cx="226.9" cy="413.4" r="1.15" fill="#2A6390"/>
<circle cx="240.1" cy="413.4" r="1.5" fill="#F4594F"/>
<circle cx="247.0" cy="413.4" r="1.5" fill="#2A6390"/>
<circle cx="260.2" cy="413.4" r="2.1" fill="#F4594F"/>
<circle cx="267.1" cy="413.4" r="1.5" fill="#2A6390"/>
<circle cx="280.2" cy="413.4" r="2.6" fill="#F4594F"/>
<circle cx="287.1" cy="413.4" r="2.1" fill="#2A6390"/>
<circle cx="300.3" cy="413.4" r="2.1" fill="#F4594F"/>
<circle cx="307.2" cy="413.4" r="1.5" fill="#2A6390"/>
<circle cx="320.4" cy="413.4" r="1.15" fill="#F4594F"/>
<circle cx="327.3" cy="413.4" r="1.5" fill="#2A6390"/>
<circle cx="340.4" cy="413.4" r="1.5" fill="#F4594F"/>
<circle cx="347.3" cy="413.4" r="1.5" fill="#2A6390"/>
<circle cx="376.9" cy="413.4" r="1.15" fill="#F4594F"/>
<circle cx="383.5" cy="413.4" r="0.7" fill="#2A6390"/>
<circle cx="393.5" cy="413.4" r="0.7" fill="#F4594F"/>
<circle cx="400.1" cy="413.4" r="0.7" fill="#2A6390"/>
<circle cx="39.4" cy="421.0" r="1.15" fill="#F4594F"/>
<circle cx="46.3" cy="421.0" r="1.15" fill="#2A6390"/>
<circle cx="59.5" cy="421.0" r="0.7" fill="#F4594F"/>
<circle cx="66.4" cy="421.0" r="1.15" fill="#2A6390"/>
<circle cx="79.5" cy="421.0" r="1.5" fill="#F4594F"/>
<circle cx="86.4" cy="421.0" r="1.15" fill="#2A6390"/>
<circle cx="99.6" cy="421.0" r="1.15" fill="#F4594F"/>
<circle cx="106.5" cy="421.0" r="1.5" fill="#2A6390"/>
<circle cx="119.7" cy="421.0" r="2.1" fill="#F4594F"/>
<circle cx="126.6" cy="421.0" r="1.15" fill="#2A6390"/>
<circle cx="139.8" cy="421.0" r="1.15" fill="#F4594F"/>
<circle cx="146.7" cy="421.0" r="1.15" fill="#2A6390"/>
<circle cx="159.8" cy="421.0" r="1.5" fill="#F4594F"/>
<circle cx="166.7" cy="421.0" r="1.15" fill="#2A6390"/>
<circle cx="179.9" cy="421.0" r="1.15" fill="#F4594F"/>
<circle cx="186.8" cy="421.0" r="0.7" fill="#2A6390"/>
<circle cx="200.0" cy="421.0" r="1.5" fill="#F4594F"/>
<circle cx="206.9" cy="421.0" r="1.5" fill="#2A6390"/>
<circle cx="220.0" cy="421.0" r="1.15" fill="#F4594F"/>
<circle cx="226.9" cy="421.0" r="0.7" fill="#2A6390"/>
<circle cx="240.1" cy="421.0" r="1.5" fill="#F4594F"/>
<circle cx="247.0" cy="421.0" r="1.15" fill="#2A6390"/>
<circle cx="260.2" cy="421.0" r="2.1" fill="#F4594F"/>
<circle cx="267.1" cy="421.0" r="1.5" fill="#2A6390"/>
<circle cx="280.2" cy="421.0" r="1.5" fill="#F4594F"/>
<circle cx="287.1" cy="421.0" r="1.15" fill="#2A6390"/>
<circle cx="300.3" cy="421.0" r="1.5" fill="#F4594F"/>
<circle cx="307.2" cy="421.0" r="1.15" fill="#2A6390"/>
<circle cx="320.4" cy="421.0" r="0.7" fill="#F4594F"/>
<circle cx="327.3" cy="421.0" r="1.15" fill="#2A6390"/>
<circle cx="340.4" cy="421.0" r="1.15" fill="#F4594F"/>
<circle cx="347.3" cy="421.0" r="1.15" fill="#2A6390"/>
<circle cx="376.9" cy="421.0" r="0.7" fill="#F4594F"/>
<circle cx="383.5" cy="421.0" r="0.7" fill="#2A6390"/>
<circle cx="393.5" cy="421.0" r="1.15" fill="#F4594F"/>
<circle cx="400.1" cy="421.0" r="0.7" fill="#2A6390"/>
<circle cx="39.4" cy="428.7" r="2.1" fill="#F4594F"/>
<circle cx="46.3" cy="428.7" r="1.5" fill="#2A6390"/>
<circle cx="59.5" cy="428.7" r="1.15" fill="#F4594F"/>
<circle cx="66.4" cy="428.7" r="1.5" fill="#2A6390"/>
<circle cx="79.5" cy="428.7" r="2.1" fill="#F4594F"/>
<circle cx="86.4" cy="428.7" r="2.1" fill="#2A6390"/>
<circle cx="99.6" cy="428.7" r="1.5" fill="#F4594F"/>
<circle cx="106.5" cy="428.7" r="1.5" fill="#2A6390"/>
<circle cx="119.7" cy="428.7" r="2.1" fill="#F4594F"/>
<circle cx="126.6" cy="428.7" r="1.5" fill="#2A6390"/>
<circle cx="139.8" cy="428.7" r="1.5" fill="#F4594F"/>
<circle cx="146.7" cy="428.7" r="1.5" fill="#2A6390"/>
<circle cx="159.8" cy="428.7" r="2.1" fill="#F4594F"/>
<circle cx="166.7" cy="428.7" r="1.5" fill="#2A6390"/>
<circle cx="179.9" cy="428.7" r="1.15" fill="#F4594F"/>
<circle cx="186.8" cy="428.7" r="1.15" fill="#2A6390"/>
<circle cx="200.0" cy="428.7" r="2.6" fill="#F4594F"/>
<circle cx="206.9" cy="428.7" r="2.6" fill="#2A6390"/>
<circle cx="220.0" cy="428.7" r="1.5" fill="#F4594F"/>
<circle cx="226.9" cy="428.7" r="1.15" fill="#2A6390"/>
<circle cx="240.1" cy="428.7" r="2.1" fill="#F4594F"/>
<circle cx="247.0" cy="428.7" r="1.5" fill="#2A6390"/>
<circle cx="260.2" cy="428.7" r="2.1" fill="#F4594F"/>
<circle cx="267.1" cy="428.7" r="2.1" fill="#2A6390"/>
<circle cx="280.2" cy="428.7" r="2.6" fill="#F4594F"/>
<circle cx="287.1" cy="428.7" r="2.1" fill="#2A6390"/>
<circle cx="300.3" cy="428.7" r="2.1" fill="#F4594F"/>
<circle cx="307.2" cy="428.7" r="1.5" fill="#2A6390"/>
<circle cx="320.4" cy="428.7" r="1.5" fill="#F4594F"/>
<circle cx="327.3" cy="428.7" r="1.5" fill="#2A6390"/>
<circle cx="340.4" cy="428.7" r="1.5" fill="#F4594F"/>
<circle cx="347.3" cy="428.7" r="1.5" fill="#2A6390"/>
<circle cx="376.9" cy="428.7" r="1.15" fill="#F4594F"/>
<circle cx="383.5" cy="428.7" r="1.15" fill="#2A6390"/>
<circle cx="393.5" cy="428.7" r="1.15" fill="#F4594F"/>
<circle cx="400.1" cy="428.7" r="1.15" fill="#2A6390"/>
<circle cx="39.4" cy="436.3" r="1.15" fill="#F4594F"/>
<circle cx="46.3" cy="436.3" r="1.5" fill="#2A6390"/>
<circle cx="59.5" cy="436.3" r="0.7" fill="#F4594F"/>
<circle cx="66.4" cy="436.3" r="1.15" fill="#2A6390"/>
<circle cx="79.5" cy="436.3" r="1.5" fill="#F4594F"/>
<circle cx="86.4" cy="436.3" r="1.5" fill="#2A6390"/>
<circle cx="99.6" cy="436.3" r="1.15" fill="#F4594F"/>
<circle cx="106.5" cy="436.3" r="1.5" fill="#2A6390"/>
<circle cx="119.7" cy="436.3" r="1.5" fill="#F4594F"/>
<circle cx="126.6" cy="436.3" r="1.5" fill="#2A6390"/>
<circle cx="139.8" cy="436.3" r="1.15" fill="#F4594F"/>
<circle cx="146.7" cy="436.3" r="1.15" fill="#2A6390"/>
<circle cx="159.8" cy="436.3" r="1.15" fill="#F4594F"/>
<circle cx="166.7" cy="436.3" r="1.15" fill="#2A6390"/>
<circle cx="179.9" cy="436.3" r="0.7" fill="#F4594F"/>
<circle cx="186.8" cy="436.3" r="0.7" fill="#2A6390"/>
<circle cx="200.0" cy="436.3" r="1.5" fill="#F4594F"/>
<circle cx="206.9" cy="436.3" r="1.5" fill="#2A6390"/>
<circle cx="220.0" cy="436.3" r="0.7" fill="#F4594F"/>
<circle cx="226.9" cy="436.3" r="0.7" fill="#2A6390"/>
<circle cx="240.1" cy="436.3" r="1.15" fill="#F4594F"/>
<circle cx="247.0" cy="436.3" r="1.15" fill="#2A6390"/>
<circle cx="260.2" cy="436.3" r="1.5" fill="#F4594F"/>
<circle cx="267.1" cy="436.3" r="1.5" fill="#2A6390"/>
<circle cx="280.2" cy="436.3" r="1.5" fill="#F4594F"/>
<circle cx="287.1" cy="436.3" r="1.15" fill="#2A6390"/>
<circle cx="300.3" cy="436.3" r="1.5" fill="#F4594F"/>
<circle cx="307.2" cy="436.3" r="1.15" fill="#2A6390"/>
<circle cx="320.4" cy="436.3" r="0.7" fill="#F4594F"/>
<circle cx="327.3" cy="436.3" r="1.15" fill="#2A6390"/>
<circle cx="340.4" cy="436.3" r="1.15" fill="#F4594F"/>
<circle cx="347.3" cy="436.3" r="1.15" fill="#2A6390"/>
<circle cx="376.9" cy="436.3" r="0.7" fill="#F4594F"/>
<circle cx="383.5" cy="436.3" r="0.7" fill="#2A6390"/>
<circle cx="393.5" cy="436.3" r="1.15" fill="#F4594F"/>
<circle cx="400.1" cy="436.3" r="0.7" fill="#2A6390"/>
<circle cx="39.4" cy="444.0" r="1.5" fill="#F4594F"/>
<circle cx="46.3" cy="444.0" r="1.5" fill="#2A6390"/>
<circle cx="59.5" cy="444.0" r="0.7" fill="#F4594F"/>
<circle cx="66.4" cy="444.0" r="1.15" fill="#2A6390"/>
<circle cx="79.5" cy="444.0" r="1.5" fill="#F4594F"/>
<circle cx="86.4" cy="444.0" r="1.5" fill="#2A6390"/>
<circle cx="99.6" cy="444.0" r="1.5" fill="#F4594F"/>
<circle cx="106.5" cy="444.0" r="1.5" fill="#2A6390"/>
<circle cx="119.7" cy="444.0" r="1.5" fill="#F4594F"/>
<circle cx="126.6" cy="444.0" r="1.15" fill="#2A6390"/>
<circle cx="139.8" cy="444.0" r="1.5" fill="#F4594F"/>
<circle cx="146.7" cy="444.0" r="1.15" fill="#2A6390"/>
<circle cx="159.8" cy="444.0" r="1.5" fill="#F4594F"/>
<circle cx="166.7" cy="444.0" r="1.5" fill="#2A6390"/>
<circle cx="179.9" cy="444.0" r="1.15" fill="#F4594F"/>
<circle cx="186.8" cy="444.0" r="1.15" fill="#2A6390"/>
<circle cx="200.0" cy="444.0" r="2.1" fill="#F4594F"/>
<circle cx="206.9" cy="444.0" r="2.6" fill="#2A6390"/>
<circle cx="220.0" cy="444.0" r="1.15" fill="#F4594F"/>
<circle cx="226.9" cy="444.0" r="1.15" fill="#2A6390"/>
<circle cx="240.1" cy="444.0" r="1.5" fill="#F4594F"/>
<circle cx="247.0" cy="444.0" r="1.5" fill="#2A6390"/>
<circle cx="260.2" cy="444.0" r="2.1" fill="#F4594F"/>
<circle cx="267.1" cy="444.0" r="2.1" fill="#2A6390"/>
<circle cx="280.2" cy="444.0" r="2.1" fill="#F4594F"/>
<circle cx="287.1" cy="444.0" r="1.5" fill="#2A6390"/>
<circle cx="300.3" cy="444.0" r="1.5" fill="#F4594F"/>
<circle cx="307.2" cy="444.0" r="1.15" fill="#2A6390"/>
<circle cx="320.4" cy="444.0" r="0.7" fill="#F4594F"/>
<circle cx="327.3" cy="444.0" r="1.15" fill="#2A6390"/>
<circle cx="340.4" cy="444.0" r="1.15" fill="#F4594F"/>
<circle cx="347.3" cy="444.0" r="1.15" fill="#2A6390"/>
<circle cx="376.9" cy="444.0" r="1.15" fill="#F4594F"/>
<circle cx="383.5" cy="444.0" r="0.7" fill="#2A6390"/>
<circle cx="393.5" cy="444.0" r="0.7" fill="#F4594F"/>
<circle cx="400.1" cy="444.0" r="0.7" fill="#2A6390"/>
<circle cx="39.4" cy="451.6" r="0.7" fill="#F4594F"/>
<circle cx="46.3" cy="451.6" r="0.7" fill="#2A6390"/>
<circle cx="59.5" cy="451.6" r="0.7" fill="#F4594F"/>
<circle cx="66.4" cy="451.6" r="0.7" fill="#2A6390"/>
<circle cx="79.5" cy="451.6" r="0.7" fill="#F4594F"/>
<circle cx="86.4" cy="451.6" r="0.7" fill="#2A6390"/>
<circle cx="99.6" cy="451.6" r="0.7" fill="#F4594F"/>
<circle cx="106.5" cy="451.6" r="0.7" fill="#2A6390"/>
<circle cx="119.7" cy="451.6" r="0.7" fill="#F4594F"/>
<circle cx="126.6" cy="451.6" r="0.7" fill="#2A6390"/>
<circle cx="139.8" cy="451.6" r="0.7" fill="#F4594F"/>
<circle cx="146.7" cy="451.6" r="0.7" fill="#2A6390"/>
<circle cx="159.8" cy="451.6" r="0.7" fill="#F4594F"/>
<circle cx="166.7" cy="451.6" r="0.7" fill="#2A6390"/>
<circle cx="179.9" cy="451.6" r="0.7" fill="#F4594F"/>
<circle cx="186.8" cy="451.6" r="0.7" fill="#2A6390"/>
<circle cx="200.0" cy="451.6" r="1.15" fill="#F4594F"/>
<circle cx="206.9" cy="451.6" r="1.15" fill="#2A6390"/>
<circle cx="220.0" cy="451.6" r="0.7" fill="#F4594F"/>
<circle cx="226.9" cy="451.6" r="0.7" fill="#2A6390"/>
<circle cx="240.1" cy="451.6" r="0.7" fill="#F4594F"/>
<circle cx="247.0" cy="451.6" r="1.15" fill="#2A6390"/>
<circle cx="260.2" cy="451.6" r="0.7" fill="#F4594F"/>
<circle cx="267.1" cy="451.6" r="0.7" fill="#2A6390"/>
<circle cx="280.2" cy="451.6" r="1.15" fill="#F4594F"/>
<circle cx="287.1" cy="451.6" r="1.15" fill="#2A6390"/>
<circle cx="300.3" cy="451.6" r="0.7" fill="#F4594F"/>
<circle cx="307.2" cy="451.6" r="0.7" fill="#2A6390"/>
<circle cx="320.4" cy="451.6" r="0.7" fill="#F4594F"/>
<circle cx="327.3" cy="451.6" r="0.7" fill="#2A6390"/>
<circle cx="340.4" cy="451.6" r="1.5" fill="#F4594F"/>
<circle cx="347.3" cy="451.6" r="1.15" fill="#2A6390"/>
<circle cx="376.9" cy="451.6" r="1.15" fill="#F4594F"/>
<circle cx="383.5" cy="451.6" r="0.7" fill="#2A6390"/>
<circle cx="393.5" cy="451.6" r="0.7" fill="#F4594F"/>
<circle cx="400.1" cy="451.6" r="0.7" fill="#2A6390"/>
<circle cx="39.4" cy="459.3" r="1.5" fill="#F4594F"/>
<circle cx="46.3" cy="459.3" r="1.5" fill="#2A6390"/>
<circle cx="59.5" cy="459.3" r="0.7" fill="#F4594F"/>
<circle cx="66.4" cy="459.3" r="1.15" fill="#2A6390"/>
<circle cx="79.5" cy="459.3" r="1.5" fill="#F4594F"/>
<circle cx="86.4" cy="459.3" r="2.1" fill="#2A6390"/>
<circle cx="99.6" cy="459.3" r="2.1" fill="#F4594F"/>
<circle cx="106.5" cy="459.3" r="2.6" fill="#2A6390"/>
<circle cx="119.7" cy="459.3" r="1.5" fill="#F4594F"/>
<circle cx="126.6" cy="459.3" r="1.15" fill="#2A6390"/>
<circle cx="139.8" cy="459.3" r="1.15" fill="#F4594F"/>
<circle cx="146.7" cy="459.3" r="1.15" fill="#2A6390"/>
<circle cx="159.8" cy="459.3" r="1.5" fill="#F4594F"/>
<circle cx="166.7" cy="459.3" r="1.5" fill="#2A6390"/>
<circle cx="179.9" cy="459.3" r="1.15" fill="#F4594F"/>
<circle cx="186.8" cy="459.3" r="1.5" fill="#2A6390"/>
<circle cx="200.0" cy="459.3" r="2.1" fill="#F4594F"/>
<circle cx="206.9" cy="459.3" r="2.1" fill="#2A6390"/>
<circle cx="220.0" cy="459.3" r="1.15" fill="#F4594F"/>
<circle cx="226.9" cy="459.3" r="1.15" fill="#2A6390"/>
<circle cx="240.1" cy="459.3" r="2.1" fill="#F4594F"/>
<circle cx="247.0" cy="459.3" r="2.1" fill="#2A6390"/>
<circle cx="260.2" cy="459.3" r="2.1" fill="#F4594F"/>
<circle cx="267.1" cy="459.3" r="1.5" fill="#2A6390"/>
<circle cx="280.2" cy="459.3" r="2.6" fill="#F4594F"/>
<circle cx="287.1" cy="459.3" r="2.1" fill="#2A6390"/>
<circle cx="300.3" cy="459.3" r="2.1" fill="#F4594F"/>
<circle cx="307.2" cy="459.3" r="1.5" fill="#2A6390"/>
<circle cx="320.4" cy="459.3" r="1.15" fill="#F4594F"/>
<circle cx="327.3" cy="459.3" r="1.5" fill="#2A6390"/>
<circle cx="340.4" cy="459.3" r="1.5" fill="#F4594F"/>
<circle cx="347.3" cy="459.3" r="2.1" fill="#2A6390"/>
<circle cx="376.9" cy="459.3" r="1.15" fill="#F4594F"/>
<circle cx="383.5" cy="459.3" r="1.15" fill="#2A6390"/>
<circle cx="393.5" cy="459.3" r="0.7" fill="#F4594F"/>
<circle cx="400.1" cy="459.3" r="1.15" fill="#2A6390"/>
<circle cx="39.4" cy="466.9" r="0.7" fill="#F4594F"/>
<circle cx="46.3" cy="466.9" r="0.7" fill="#2A6390"/>
<circle cx="59.5" cy="466.9" r="0.7" fill="#F4594F"/>
<circle cx="66.4" cy="466.9" r="0.7" fill="#2A6390"/>
<circle cx="79.5" cy="466.9" r="1.15" fill="#F4594F"/>
<circle cx="86.4" cy="466.9" r="1.15" fill="#2A6390"/>
<circle cx="99.6" cy="466.9" r="0.35" fill="#F4594F"/>
<circle cx="106.5" cy="466.9" r="1.15" fill="#2A6390"/>
<circle cx="119.7" cy="466.9" r="0.7" fill="#F4594F"/>
<circle cx="126.6" cy="466.9" r="0.7" fill="#2A6390"/>
<circle cx="139.8" cy="466.9" r="0.7" fill="#F4594F"/>
<circle cx="146.7" cy="466.9" r="0.7" fill="#2A6390"/>
<circle cx="159.8" cy="466.9" r="0.7" fill="#F4594F"/>
<circle cx="166.7" cy="466.9" r="0.7" fill="#2A6390"/>
<circle cx="179.9" cy="466.9" r="0.7" fill="#F4594F"/>
<circle cx="186.8" cy="466.9" r="0.7" fill="#2A6390"/>
<circle cx="200.0" cy="466.9" r="0.7" fill="#F4594F"/>
<circle cx="206.9" cy="466.9" r="0.7" fill="#2A6390"/>
<circle cx="220.0" cy="466.9" r="0.7" fill="#F4594F"/>
<circle cx="226.9" cy="466.9" r="0.7" fill="#2A6390"/>
<circle cx="240.1" cy="466.9" r="0.7" fill="#F4594F"/>
<circle cx="247.0" cy="466.9" r="0.7" fill="#2A6390"/>
<circle cx="260.2" cy="466.9" r="1.5" fill="#F4594F"/>
<circle cx="267.1" cy="466.9" r="2.1" fill="#2A6390"/>
<circle cx="280.2" cy="466.9" r="0.7" fill="#F4594F"/>
<circle cx="287.1" cy="466.9" r="0.7" fill="#2A6390"/>
<circle cx="300.3" cy="466.9" r="0.7" fill="#F4594F"/>
<circle cx="307.2" cy="466.9" r="1.15" fill="#2A6390"/>
<circle cx="320.4" cy="466.9" r="1.15" fill="#F4594F"/>
<circle cx="327.3" cy="466.9" r="1.5" fill="#2A6390"/>
<circle cx="340.4" cy="466.9" r="0.7" fill="#F4594F"/>
<circle cx="347.3" cy="466.9" r="0.7" fill="#2A6390"/>
<circle cx="376.9" cy="466.9" r="0.35" fill="#F4594F"/>
<circle cx="383.5" cy="466.9" r="0.35" fill="#2A6390"/>
<circle cx="393.5" cy="466.9" r="0.35" fill="#F4594F"/>
<circle cx="400.1" cy="466.9" r="0.35" fill="#2A6390"/>
<circle cx="39.4" cy="474.6" r="0.7" fill="#F4594F"/>
<circle cx="46.3" cy="474.6" r="1.15" fill="#2A6390"/>
<circle cx="59.5" cy="474.6" r="0.7" fill="#F4594F"/>
<circle cx="66.4" cy="474.6" r="0.7" fill="#2A6390"/>
<circle cx="79.5" cy="474.6" r="0.7" fill="#F4594F"/>
<circle cx="86.4" cy="474.6" r="1.15" fill="#2A6390"/>
<circle cx="99.6" cy="474.6" r="1.15" fill="#F4594F"/>
<circle cx="106.5" cy="474.6" r="1.15" fill="#2A6390"/>
<circle cx="119.7" cy="474.6" r="0.7" fill="#F4594F"/>
<circle cx="126.6" cy="474.6" r="0.7" fill="#2A6390"/>
<circle cx="139.8" cy="474.6" r="0.7" fill="#F4594F"/>
<circle cx="146.7" cy="474.6" r="0.7" fill="#2A6390"/>
<circle cx="159.8" cy="474.6" r="0.7" fill="#F4594F"/>
<circle cx="166.7" cy="474.6" r="0.7" fill="#2A6390"/>
<circle cx="179.9" cy="474.6" r="0.7" fill="#F4594F"/>
<circle cx="186.8" cy="474.6" r="0.7" fill="#2A6390"/>
<circle cx="200.0" cy="474.6" r="1.15" fill="#F4594F"/>
<circle cx="206.9" cy="474.6" r="1.15" fill="#2A6390"/>
<circle cx="220.0" cy="474.6" r="0.7" fill="#F4594F"/>
<circle cx="226.9" cy="474.6" r="0.7" fill="#2A6390"/>
<circle cx="240.1" cy="474.6" r="1.15" fill="#F4594F"/>
<circle cx="247.0" cy="474.6" r="1.15" fill="#2A6390"/>
<circle cx="260.2" cy="474.6" r="2.1" fill="#F4594F"/>
<circle cx="267.1" cy="474.6" r="2.1" fill="#2A6390"/>
<circle cx="280.2" cy="474.6" r="0.7" fill="#F4594F"/>
<circle cx="287.1" cy="474.6" r="0.7" fill="#2A6390"/>
<circle cx="300.3" cy="474.6" r="0.7" fill="#F4594F"/>
<circle cx="307.2" cy="474.6" r="1.15" fill="#2A6390"/>
<circle cx="320.4" cy="474.6" r="0.7" fill="#F4594F"/>
<circle cx="327.3" cy="474.6" r="1.15" fill="#2A6390"/>
<circle cx="340.4" cy="474.6" r="0.35" fill="#F4594F"/>
<circle cx="347.3" cy="474.6" r="0.7" fill="#2A6390"/>
<circle cx="376.9" cy="474.6" r="0.7" fill="#F4594F"/>
<circle cx="383.5" cy="474.6" r="0.7" fill="#2A6390"/>
<circle cx="393.5" cy="474.6" r="0.7" fill="#F4594F"/>
<circle cx="400.1" cy="474.6" r="0.7" fill="#2A6390"/>
<circle cx="39.4" cy="482.2" r="1.5" fill="#F4594F"/>
<circle cx="46.3" cy="482.2" r="1.5" fill="#2A6390"/>
<circle cx="59.5" cy="482.2" r="0.7" fill="#F4594F"/>
<circle cx="66.4" cy="482.2" r="0.7" fill="#2A6390"/>
<circle cx="79.5" cy="482.2" r="2.1" fill="#F4594F"/>
<circle cx="86.4" cy="482.2" r="1.5" fill="#2A6390"/>
<circle cx="99.6" cy="482.2" r="1.5" fill="#F4594F"/>
<circle cx="106.5" cy="482.2" r="1.15" fill="#2A6390"/>
<circle cx="119.7" cy="482.2" r="1.5" fill="#F4594F"/>
<circle cx="126.6" cy="482.2" r="1.15" fill="#2A6390"/>
<circle cx="139.8" cy="482.2" r="1.15" fill="#F4594F"/>
<circle cx="146.7" cy="482.2" r="1.15" fill="#2A6390"/>
<circle cx="159.8" cy="482.2" r="1.5" fill="#F4594F"/>
<circle cx="166.7" cy="482.2" r="1.15" fill="#2A6390"/>
<circle cx="179.9" cy="482.2" r="1.15" fill="#F4594F"/>
<circle cx="186.8" cy="482.2" r="0.7" fill="#2A6390"/>
<circle cx="200.0" cy="482.2" r="2.1" fill="#F4594F"/>
<circle cx="206.9" cy="482.2" r="2.1" fill="#2A6390"/>
<circle cx="220.0" cy="482.2" r="1.15" fill="#F4594F"/>
<circle cx="226.9" cy="482.2" r="0.7" fill="#2A6390"/>
<circle cx="240.1" cy="482.2" r="1.5" fill="#F4594F"/>
<circle cx="247.0" cy="482.2" r="1.5" fill="#2A6390"/>
<circle cx="260.2" cy="482.2" r="2.6" fill="#F4594F"/>
<circle cx="267.1" cy="482.2" r="1.5" fill="#2A6390"/>
<circle cx="280.2" cy="482.2" r="1.5" fill="#F4594F"/>
<circle cx="287.1" cy="482.2" r="1.15" fill="#2A6390"/>
<circle cx="300.3" cy="482.2" r="1.5" fill="#F4594F"/>
<circle cx="307.2" cy="482.2" r="1.15" fill="#2A6390"/>
<circle cx="320.4" cy="482.2" r="0.7" fill="#F4594F"/>
<circle cx="327.3" cy="482.2" r="1.15" fill="#2A6390"/>
<circle cx="340.4" cy="482.2" r="0.7" fill="#F4594F"/>
<circle cx="347.3" cy="482.2" r="0.7" fill="#2A6390"/>
<circle cx="376.9" cy="482.2" r="0.7" fill="#F4594F"/>
<circle cx="383.5" cy="482.2" r="0.7" fill="#2A6390"/>
<circle cx="393.5" cy="482.2" r="0.7" fill="#F4594F"/>
<circle cx="400.1" cy="482.2" r="0.7" fill="#2A6390"/>
<circle cx="39.4" cy="489.9" r="0.7" fill="#F4594F"/>
<circle cx="46.3" cy="489.9" r="0.7" fill="#2A6390"/>
<circle cx="59.5" cy="489.9" r="0.7" fill="#F4594F"/>
<circle cx="66.4" cy="489.9" r="0.7" fill="#2A6390"/>
<circle cx="79.5" cy="489.9" r="0.7" fill="#F4594F"/>
<circle cx="86.4" cy="489.9" r="0.7" fill="#2A6390"/>
<circle cx="99.6" cy="489.9" r="1.5" fill="#F4594F"/>
<circle cx="106.5" cy="489.9" r="2.1" fill="#2A6390"/>
<circle cx="119.7" cy="489.9" r="0.7" fill="#F4594F"/>
<circle cx="126.6" cy="489.9" r="0.7" fill="#2A6390"/>
<circle cx="139.8" cy="489.9" r="0.7" fill="#F4594F"/>
<circle cx="146.7" cy="489.9" r="0.7" fill="#2A6390"/>
<circle cx="159.8" cy="489.9" r="1.5" fill="#F4594F"/>
<circle cx="166.7" cy="489.9" r="1.5" fill="#2A6390"/>
<circle cx="179.9" cy="489.9" r="1.5" fill="#F4594F"/>
<circle cx="186.8" cy="489.9" r="1.5" fill="#2A6390"/>
<circle cx="200.0" cy="489.9" r="0.7" fill="#F4594F"/>
<circle cx="206.9" cy="489.9" r="0.7" fill="#2A6390"/>
<circle cx="220.0" cy="489.9" r="1.15" fill="#F4594F"/>
<circle cx="226.9" cy="489.9" r="0.7" fill="#2A6390"/>
<circle cx="240.1" cy="489.9" r="1.5" fill="#F4594F"/>
<circle cx="247.0" cy="489.9" r="2.1" fill="#2A6390"/>
<circle cx="260.2" cy="489.9" r="0.7" fill="#F4594F"/>
<circle cx="267.1" cy="489.9" r="0.7" fill="#2A6390"/>
<circle cx="280.2" cy="489.9" r="0.7" fill="#F4594F"/>
<circle cx="287.1" cy="489.9" r="0.7" fill="#2A6390"/>
<circle cx="300.3" cy="489.9" r="1.15" fill="#F4594F"/>
<circle cx="307.2" cy="489.9" r="1.15" fill="#2A6390"/>
<circle cx="320.4" cy="489.9" r="0.7" fill="#F4594F"/>
<circle cx="327.3" cy="489.9" r="0.7" fill="#2A6390"/>
<circle cx="340.4" cy="489.9" r="0.7" fill="#F4594F"/>
<circle cx="347.3" cy="489.9" r="0.7" fill="#2A6390"/>
<circle cx="376.9" cy="489.9" r="0.7" fill="#F4594F"/>
<circle cx="383.5" cy="489.9" r="0.7" fill="#2A6390"/>
<circle cx="393.5" cy="489.9" r="0.7" fill="#F4594F"/>
<circle cx="400.1" cy="489.9" r="0.7" fill="#2A6390"/>
<circle cx="39.4" cy="497.5" r="0.7" fill="#F4594F"/>
<circle cx="46.3" cy="497.5" r="0.7" fill="#2A6390"/>
<circle cx="59.5" cy="497.5" r="0.7" fill="#F4594F"/>
<circle cx="66.4" cy="497.5" r="0.7" fill="#2A6390"/>
<circle cx="79.5" cy="497.5" r="0.7" fill="#F4594F"/>
<circle cx="86.4" cy="497.5" r="0.7" fill="#2A6390"/>
<circle cx="99.6" cy="497.5" r="1.5" fill="#F4594F"/>
<circle cx="106.5" cy="497.5" r="2.1" fill="#2A6390"/>
<circle cx="119.7" cy="497.5" r="0.7" fill="#F4594F"/>
<circle cx="126.6" cy="497.5" r="0.7" fill="#2A6390"/>
<circle cx="139.8" cy="497.5" r="0.7" fill="#F4594F"/>
<circle cx="146.7" cy="497.5" r="0.7" fill="#2A6390"/>
<circle cx="159.8" cy="497.5" r="1.15" fill="#F4594F"/>
<circle cx="166.7" cy="497.5" r="1.15" fill="#2A6390"/>
<circle cx="179.9" cy="497.5" r="1.15" fill="#F4594F"/>
<circle cx="186.8" cy="497.5" r="1.15" fill="#2A6390"/>
<circle cx="200.0" cy="497.5" r="0.7" fill="#F4594F"/>
<circle cx="206.9" cy="497.5" r="0.7" fill="#2A6390"/>
<circle cx="220.0" cy="497.5" r="1.15" fill="#F4594F"/>
<circle cx="226.9" cy="497.5" r="0.7" fill="#2A6390"/>
<circle cx="240.1" cy="497.5" r="1.5" fill="#F4594F"/>
<circle cx="247.0" cy="497.5" r="2.1" fill="#2A6390"/>
<circle cx="260.2" cy="497.5" r="0.7" fill="#F4594F"/>
<circle cx="267.1" cy="497.5" r="0.7" fill="#2A6390"/>
<circle cx="280.2" cy="497.5" r="0.7" fill="#F4594F"/>
<circle cx="287.1" cy="497.5" r="0.7" fill="#2A6390"/>
<circle cx="300.3" cy="497.5" r="1.15" fill="#F4594F"/>
<circle cx="307.2" cy="497.5" r="1.15" fill="#2A6390"/>
<circle cx="320.4" cy="497.5" r="0.7" fill="#F4594F"/>
<circle cx="327.3" cy="497.5" r="0.7" fill="#2A6390"/>
<circle cx="340.4" cy="497.5" r="0.7" fill="#F4594F"/>
<circle cx="347.3" cy="497.5" r="0.7" fill="#2A6390"/>
<circle cx="376.9" cy="497.5" r="0.7" fill="#F4594F"/>
<circle cx="383.5" cy="497.5" r="0.7" fill="#2A6390"/>
<circle cx="393.5" cy="497.5" r="0.7" fill="#F4594F"/>
<circle cx="400.1" cy="497.5" r="0.7" fill="#2A6390"/>
<circle cx="39.4" cy="505.2" r="1.15" fill="#F4594F"/>
<circle cx="46.3" cy="505.2" r="1.15" fill="#2A6390"/>
<circle cx="59.5" cy="505.2" r="0.7" fill="#F4594F"/>
<circle cx="66.4" cy="505.2" r="1.15" fill="#2A6390"/>
<circle cx="79.5" cy="505.2" r="1.15" fill="#F4594F"/>
<circle cx="86.4" cy="505.2" r="1.15" fill="#2A6390"/>
<circle cx="99.6" cy="505.2" r="0.7" fill="#F4594F"/>
<circle cx="106.5" cy="505.2" r="1.15" fill="#2A6390"/>
<circle cx="119.7" cy="505.2" r="1.15" fill="#F4594F"/>
<circle cx="126.6" cy="505.2" r="1.15" fill="#2A6390"/>
<circle cx="139.8" cy="505.2" r="0.7" fill="#F4594F"/>
<circle cx="146.7" cy="505.2" r="0.7" fill="#2A6390"/>
<circle cx="159.8" cy="505.2" r="0.7" fill="#F4594F"/>
<circle cx="166.7" cy="505.2" r="0.7" fill="#2A6390"/>
<circle cx="179.9" cy="505.2" r="0.7" fill="#F4594F"/>
<circle cx="186.8" cy="505.2" r="0.7" fill="#2A6390"/>
<circle cx="200.0" cy="505.2" r="1.15" fill="#F4594F"/>
<circle cx="206.9" cy="505.2" r="1.15" fill="#2A6390"/>
<circle cx="220.0" cy="505.2" r="0.7" fill="#F4594F"/>
<circle cx="226.9" cy="505.2" r="0.7" fill="#2A6390"/>
<circle cx="240.1" cy="505.2" r="0.7" fill="#F4594F"/>
<circle cx="247.0" cy="505.2" r="1.15" fill="#2A6390"/>
<circle cx="260.2" cy="505.2" r="1.15" fill="#F4594F"/>
<circle cx="267.1" cy="505.2" r="1.15" fill="#2A6390"/>
<circle cx="280.2" cy="505.2" r="1.15" fill="#F4594F"/>
<circle cx="287.1" cy="505.2" r="1.15" fill="#2A6390"/>
<circle cx="300.3" cy="505.2" r="0.7" fill="#F4594F"/>
<circle cx="307.2" cy="505.2" r="0.7" fill="#2A6390"/>
<circle cx="320.4" cy="505.2" r="0.7" fill="#F4594F"/>
<circle cx="327.3" cy="505.2" r="1.15" fill="#2A6390"/>
<circle cx="340.4" cy="505.2" r="0.7" fill="#F4594F"/>
<circle cx="347.3" cy="505.2" r="1.15" fill="#2A6390"/>
<circle cx="376.9" cy="505.2" r="1.15" fill="#F4594F"/>
<circle cx="383.5" cy="505.2" r="0.7" fill="#2A6390"/>
<circle cx="393.5" cy="505.2" r="1.5" fill="#F4594F"/>
<circle cx="400.1" cy="505.2" r="0.7" fill="#2A6390"/>
<circle cx="39.4" cy="512.9" r="1.15" fill="#F4594F"/>
<circle cx="46.3" cy="512.9" r="1.15" fill="#2A6390"/>
<circle cx="59.5" cy="512.9" r="0.7" fill="#F4594F"/>
<circle cx="66.4" cy="512.9" r="0.7" fill="#2A6390"/>
<circle cx="79.5" cy="512.9" r="1.15" fill="#F4594F"/>
<circle cx="86.4" cy="512.9" r="1.15" fill="#2A6390"/>
<circle cx="99.6" cy="512.9" r="1.15" fill="#F4594F"/>
<circle cx="106.5" cy="512.9" r="1.15" fill="#2A6390"/>
<circle cx="119.7" cy="512.9" r="1.15" fill="#F4594F"/>
<circle cx="126.6" cy="512.9" r="1.15" fill="#2A6390"/>
<circle cx="139.8" cy="512.9" r="1.15" fill="#F4594F"/>
<circle cx="146.7" cy="512.9" r="1.15" fill="#2A6390"/>
<circle cx="159.8" cy="512.9" r="1.15" fill="#F4594F"/>
<circle cx="166.7" cy="512.9" r="1.15" fill="#2A6390"/>
<circle cx="179.9" cy="512.9" r="1.15" fill="#F4594F"/>
<circle cx="186.8" cy="512.9" r="1.15" fill="#2A6390"/>
<circle cx="200.0" cy="512.9" r="1.5" fill="#F4594F"/>
<circle cx="206.9" cy="512.9" r="1.15" fill="#2A6390"/>
<circle cx="220.0" cy="512.9" r="1.15" fill="#F4594F"/>
<circle cx="226.9" cy="512.9" r="1.15" fill="#2A6390"/>
<circle cx="240.1" cy="512.9" r="1.15" fill="#F4594F"/>
<circle cx="247.0" cy="512.9" r="1.15" fill="#2A6390"/>
<circle cx="260.2" cy="512.9" r="1.5" fill="#F4594F"/>
<circle cx="267.1" cy="512.9" r="1.5" fill="#2A6390"/>
<circle cx="280.2" cy="512.9" r="2.1" fill="#F4594F"/>
<circle cx="287.1" cy="512.9" r="1.5" fill="#2A6390"/>
<circle cx="300.3" cy="512.9" r="1.15" fill="#F4594F"/>
<circle cx="307.2" cy="512.9" r="1.15" fill="#2A6390"/>
<circle cx="320.4" cy="512.9" r="1.5" fill="#F4594F"/>
<circle cx="327.3" cy="512.9" r="1.5" fill="#2A6390"/>
<circle cx="340.4" cy="512.9" r="1.15" fill="#F4594F"/>
<circle cx="347.3" cy="512.9" r="1.15" fill="#2A6390"/>
<circle cx="376.9" cy="512.9" r="1.5" fill="#F4594F"/>
<circle cx="383.5" cy="512.9" r="1.15" fill="#2A6390"/>
<circle cx="393.5" cy="512.9" r="1.15" fill="#F4594F"/>
<circle cx="400.1" cy="512.9" r="1.15" fill="#2A6390"/>
<circle cx="39.4" cy="520.5" r="1.15" fill="#F4594F"/>
<circle cx="46.3" cy="520.5" r="1.15" fill="#2A6390"/>
<circle cx="59.5" cy="520.5" r="1.15" fill="#F4594F"/>
<circle cx="66.4" cy="520.5" r="1.5" fill="#2A6390"/>
<circle cx="79.5" cy="520.5" r="1.15" fill="#F4594F"/>
<circle cx="86.4" cy="520.5" r="1.15" fill="#2A6390"/>
<circle cx="99.6" cy="520.5" r="0.7" fill="#F4594F"/>
<circle cx="106.5" cy="520.5" r="1.15" fill="#2A6390"/>
<circle cx="119.7" cy="520.5" r="1.15" fill="#F4594F"/>
<circle cx="126.6" cy="520.5" r="1.15" fill="#2A6390"/>
<circle cx="139.8" cy="520.5" r="0.7" fill="#F4594F"/>
<circle cx="146.7" cy="520.5" r="0.7" fill="#2A6390"/>
<circle cx="159.8" cy="520.5" r="1.15" fill="#F4594F"/>
<circle cx="166.7" cy="520.5" r="0.7" fill="#2A6390"/>
<circle cx="179.9" cy="520.5" r="0.7" fill="#F4594F"/>
<circle cx="186.8" cy="520.5" r="0.7" fill="#2A6390"/>
<circle cx="200.0" cy="520.5" r="1.5" fill="#F4594F"/>
<circle cx="206.9" cy="520.5" r="1.5" fill="#2A6390"/>
<circle cx="220.0" cy="520.5" r="0.7" fill="#F4594F"/>
<circle cx="226.9" cy="520.5" r="0.7" fill="#2A6390"/>
<circle cx="240.1" cy="520.5" r="0.7" fill="#F4594F"/>
<circle cx="247.0" cy="520.5" r="1.15" fill="#2A6390"/>
<circle cx="260.2" cy="520.5" r="1.15" fill="#F4594F"/>
<circle cx="267.1" cy="520.5" r="1.15" fill="#2A6390"/>
<circle cx="280.2" cy="520.5" r="1.15" fill="#F4594F"/>
<circle cx="287.1" cy="520.5" r="1.15" fill="#2A6390"/>
<circle cx="300.3" cy="520.5" r="0.7" fill="#F4594F"/>
<circle cx="307.2" cy="520.5" r="0.7" fill="#2A6390"/>
<circle cx="320.4" cy="520.5" r="2.1" fill="#F4594F"/>
<circle cx="327.3" cy="520.5" r="2.1" fill="#2A6390"/>
<circle cx="340.4" cy="520.5" r="0.7" fill="#F4594F"/>
<circle cx="347.3" cy="520.5" r="0.7" fill="#2A6390"/>
<circle cx="376.9" cy="520.5" r="0.7" fill="#F4594F"/>
<circle cx="383.5" cy="520.5" r="0.7" fill="#2A6390"/>
<circle cx="393.5" cy="520.5" r="0.7" fill="#F4594F"/>
<circle cx="400.1" cy="520.5" r="0.7" fill="#2A6390"/>
<circle cx="39.4" cy="528.1" r="1.15" fill="#F4594F"/>
<circle cx="46.3" cy="528.1" r="1.15" fill="#2A6390"/>
<circle cx="59.5" cy="528.1" r="0.7" fill="#F4594F"/>
<circle cx="66.4" cy="528.1" r="0.7" fill="#2A6390"/>
<circle cx="79.5" cy="528.1" r="1.15" fill="#F4594F"/>
<circle cx="86.4" cy="528.1" r="1.15" fill="#2A6390"/>
<circle cx="99.6" cy="528.1" r="1.15" fill="#F4594F"/>
<circle cx="106.5" cy="528.1" r="1.5" fill="#2A6390"/>
<circle cx="119.7" cy="528.1" r="1.15" fill="#F4594F"/>
<circle cx="126.6" cy="528.1" r="1.15" fill="#2A6390"/>
<circle cx="139.8" cy="528.1" r="0.7" fill="#F4594F"/>
<circle cx="146.7" cy="528.1" r="0.7" fill="#2A6390"/>
<circle cx="159.8" cy="528.1" r="1.15" fill="#F4594F"/>
<circle cx="166.7" cy="528.1" r="1.15" fill="#2A6390"/>
<circle cx="179.9" cy="528.1" r="1.15" fill="#F4594F"/>
<circle cx="186.8" cy="528.1" r="1.15" fill="#2A6390"/>
<circle cx="200.0" cy="528.1" r="1.15" fill="#F4594F"/>
<circle cx="206.9" cy="528.1" r="1.15" fill="#2A6390"/>
<circle cx="220.0" cy="528.1" r="0.7" fill="#F4594F"/>
<circle cx="226.9" cy="528.1" r="0.7" fill="#2A6390"/>
<circle cx="240.1" cy="528.1" r="1.15" fill="#F4594F"/>
<circle cx="247.0" cy="528.1" r="1.15" fill="#2A6390"/>
<circle cx="260.2" cy="528.1" r="1.5" fill="#F4594F"/>
<circle cx="267.1" cy="528.1" r="1.5" fill="#2A6390"/>
<circle cx="280.2" cy="528.1" r="1.5" fill="#F4594F"/>
<circle cx="287.1" cy="528.1" r="1.5" fill="#2A6390"/>
<circle cx="300.3" cy="528.1" r="1.15" fill="#F4594F"/>
<circle cx="307.2" cy="528.1" r="0.7" fill="#2A6390"/>
<circle cx="320.4" cy="528.1" r="1.5" fill="#F4594F"/>
<circle cx="327.3" cy="528.1" r="1.5" fill="#2A6390"/>
<circle cx="340.4" cy="528.1" r="1.15" fill="#F4594F"/>
<circle cx="347.3" cy="528.1" r="1.15" fill="#2A6390"/>
<circle cx="376.9" cy="528.1" r="1.5" fill="#F4594F"/>
<circle cx="383.5" cy="528.1" r="1.15" fill="#2A6390"/>
<circle cx="393.5" cy="528.1" r="2.1" fill="#F4594F"/>
<circle cx="400.1" cy="528.1" r="1.15" fill="#2A6390"/>
<circle cx="39.4" cy="535.8" r="0.7" fill="#F4594F"/>
<circle cx="46.3" cy="535.8" r="0.7" fill="#2A6390"/>
<circle cx="59.5" cy="535.8" r="0.7" fill="#F4594F"/>
<circle cx="66.4" cy="535.8" r="0.7" fill="#2A6390"/>
<circle cx="79.5" cy="535.8" r="0.7" fill="#F4594F"/>
<circle cx="86.4" cy="535.8" r="0.7" fill="#2A6390"/>
<circle cx="99.6" cy="535.8" r="0.7" fill="#F4594F"/>
<circle cx="106.5" cy="535.8" r="0.7" fill="#2A6390"/>
<circle cx="119.7" cy="535.8" r="0.7" fill="#F4594F"/>
<circle cx="126.6" cy="535.8" r="0.7" fill="#2A6390"/>
<circle cx="139.8" cy="535.8" r="0.7" fill="#F4594F"/>
<circle cx="146.7" cy="535.8" r="0.7" fill="#2A6390"/>
<circle cx="159.8" cy="535.8" r="0.7" fill="#F4594F"/>
<circle cx="166.7" cy="535.8" r="0.7" fill="#2A6390"/>
<circle cx="179.9" cy="535.8" r="0.7" fill="#F4594F"/>
<circle cx="186.8" cy="535.8" r="0.7" fill="#2A6390"/>
<circle cx="200.0" cy="535.8" r="1.15" fill="#F4594F"/>
<circle cx="206.9" cy="535.8" r="1.15" fill="#2A6390"/>
<circle cx="220.0" cy="535.8" r="0.35" fill="#F4594F"/>
<circle cx="226.9" cy="535.8" r="0.7" fill="#2A6390"/>
<circle cx="240.1" cy="535.8" r="0.7" fill="#F4594F"/>
<circle cx="247.0" cy="535.8" r="1.15" fill="#2A6390"/>
<circle cx="260.2" cy="535.8" r="0.7" fill="#F4594F"/>
<circle cx="267.1" cy="535.8" r="0.7" fill="#2A6390"/>
<circle cx="280.2" cy="535.8" r="1.15" fill="#F4594F"/>
<circle cx="287.1" cy="535.8" r="1.5" fill="#2A6390"/>
<circle cx="300.3" cy="535.8" r="0.7" fill="#F4594F"/>
<circle cx="307.2" cy="535.8" r="0.7" fill="#2A6390"/>
<circle cx="320.4" cy="535.8" r="1.15" fill="#F4594F"/>
<circle cx="327.3" cy="535.8" r="1.15" fill="#2A6390"/>
<circle cx="340.4" cy="535.8" r="1.5" fill="#F4594F"/>
<circle cx="347.3" cy="535.8" r="2.1" fill="#2A6390"/>
<circle cx="376.9" cy="535.8" r="0.7" fill="#F4594F"/>
<circle cx="383.5" cy="535.8" r="0.7" fill="#2A6390"/>
<circle cx="393.5" cy="535.8" r="0.7" fill="#F4594F"/>
<circle cx="400.1" cy="535.8" r="0.7" fill="#2A6390"/>
<circle cx="39.4" cy="543.5" r="1.5" fill="#F4594F"/>
<circle cx="46.3" cy="543.5" r="1.5" fill="#2A6390"/>
<circle cx="59.5" cy="543.5" r="0.7" fill="#F4594F"/>
<circle cx="66.4" cy="543.5" r="1.15" fill="#2A6390"/>
<circle cx="79.5" cy="543.5" r="1.5" fill="#F4594F"/>
<circle cx="86.4" cy="543.5" r="1.5" fill="#2A6390"/>
<circle cx="99.6" cy="543.5" r="1.5" fill="#F4594F"/>
<circle cx="106.5" cy="543.5" r="1.5" fill="#2A6390"/>
<circle cx="119.7" cy="543.5" r="1.5" fill="#F4594F"/>
<circle cx="126.6" cy="543.5" r="1.5" fill="#2A6390"/>
<circle cx="139.8" cy="543.5" r="1.15" fill="#F4594F"/>
<circle cx="146.7" cy="543.5" r="1.15" fill="#2A6390"/>
<circle cx="159.8" cy="543.5" r="1.5" fill="#F4594F"/>
<circle cx="166.7" cy="543.5" r="1.5" fill="#2A6390"/>
<circle cx="179.9" cy="543.5" r="1.15" fill="#F4594F"/>
<circle cx="186.8" cy="543.5" r="0.7" fill="#2A6390"/>
<circle cx="200.0" cy="543.5" r="2.1" fill="#F4594F"/>
<circle cx="206.9" cy="543.5" r="2.1" fill="#2A6390"/>
<circle cx="220.0" cy="543.5" r="1.15" fill="#F4594F"/>
<circle cx="226.9" cy="543.5" r="0.7" fill="#2A6390"/>
<circle cx="240.1" cy="543.5" r="1.5" fill="#F4594F"/>
<circle cx="247.0" cy="543.5" r="1.5" fill="#2A6390"/>
<circle cx="260.2" cy="543.5" r="1.5" fill="#F4594F"/>
<circle cx="267.1" cy="543.5" r="2.1" fill="#2A6390"/>
<circle cx="280.2" cy="543.5" r="2.6" fill="#F4594F"/>
<circle cx="287.1" cy="543.5" r="2.1" fill="#2A6390"/>
<circle cx="300.3" cy="543.5" r="1.5" fill="#F4594F"/>
<circle cx="307.2" cy="543.5" r="1.15" fill="#2A6390"/>
<circle cx="320.4" cy="543.5" r="1.5" fill="#F4594F"/>
<circle cx="327.3" cy="543.5" r="1.5" fill="#2A6390"/>
<circle cx="340.4" cy="543.5" r="1.5" fill="#F4594F"/>
<circle cx="347.3" cy="543.5" r="1.5" fill="#2A6390"/>
<circle cx="376.9" cy="543.5" r="2.6" fill="#F4594F"/>
<circle cx="383.5" cy="543.5" r="2.1" fill="#2A6390"/>
<circle cx="393.5" cy="543.5" r="2.6" fill="#F4594F"/>
<circle cx="400.1" cy="543.5" r="1.5" fill="#2A6390"/>
<circle cx="39.4" cy="551.1" r="1.5" fill="#F4594F"/>
<circle cx="46.3" cy="551.1" r="1.5" fill="#2A6390"/>
<circle cx="59.5" cy="551.1" r="0.7" fill="#F4594F"/>
<circle cx="66.4" cy="551.1" r="0.7" fill="#2A6390"/>
<circle cx="79.5" cy="551.1" r="1.5" fill="#F4594F"/>
<circle cx="86.4" cy="551.1" r="1.5" fill="#2A6390"/>
<circle cx="99.6" cy="551.1" r="1.15" fill="#F4594F"/>
<circle cx="106.5" cy="551.1" r="1.5" fill="#2A6390"/>
<circle cx="119.7" cy="551.1" r="1.15" fill="#F4594F"/>
<circle cx="126.6" cy="551.1" r="1.15" fill="#2A6390"/>
<circle cx="139.8" cy="551.1" r="0.7" fill="#F4594F"/>
<circle cx="146.7" cy="551.1" r="0.7" fill="#2A6390"/>
<circle cx="159.8" cy="551.1" r="1.15" fill="#F4594F"/>
<circle cx="166.7" cy="551.1" r="1.15" fill="#2A6390"/>
<circle cx="179.9" cy="551.1" r="1.15" fill="#F4594F"/>
<circle cx="186.8" cy="551.1" r="1.15" fill="#2A6390"/>
<circle cx="200.0" cy="551.1" r="1.15" fill="#F4594F"/>
<circle cx="206.9" cy="551.1" r="1.15" fill="#2A6390"/>
<circle cx="220.0" cy="551.1" r="2.6" fill="#F4594F"/>
<circle cx="226.9" cy="551.1" r="2.1" fill="#2A6390"/>
<circle cx="240.1" cy="551.1" r="1.15" fill="#F4594F"/>
<circle cx="247.0" cy="551.1" r="1.15" fill="#2A6390"/>
<circle cx="260.2" cy="551.1" r="1.5" fill="#F4594F"/>
<circle cx="267.1" cy="551.1" r="1.5" fill="#2A6390"/>
<circle cx="280.2" cy="551.1" r="1.15" fill="#F4594F"/>
<circle cx="287.1" cy="551.1" r="1.15" fill="#2A6390"/>
<circle cx="300.3" cy="551.1" r="1.5" fill="#F4594F"/>
<circle cx="307.2" cy="551.1" r="1.5" fill="#2A6390"/>
<circle cx="320.4" cy="551.1" r="0.7" fill="#F4594F"/>
<circle cx="327.3" cy="551.1" r="1.15" fill="#2A6390"/>
<circle cx="340.4" cy="551.1" r="0.7" fill="#F4594F"/>
<circle cx="347.3" cy="551.1" r="0.7" fill="#2A6390"/>
<circle cx="376.9" cy="551.1" r="0.7" fill="#F4594F"/>
<circle cx="383.5" cy="551.1" r="0.7" fill="#2A6390"/>
<circle cx="393.5" cy="551.1" r="0.7" fill="#F4594F"/>
<circle cx="400.1" cy="551.1" r="0.7" fill="#2A6390"/>
<circle cx="39.4" cy="558.8" r="1.5" fill="#F4594F"/>
<circle cx="46.3" cy="558.8" r="1.5" fill="#2A6390"/>
<circle cx="59.5" cy="558.8" r="0.7" fill="#F4594F"/>
<circle cx="66.4" cy="558.8" r="0.7" fill="#2A6390"/>
<circle cx="79.5" cy="558.8" r="1.5" fill="#F4594F"/>
<circle cx="86.4" cy="558.8" r="1.5" fill="#2A6390"/>
<circle cx="99.6" cy="558.8" r="2.1" fill="#F4594F"/>
<circle cx="106.5" cy="558.8" r="2.1" fill="#2A6390"/>
<circle cx="119.7" cy="558.8" r="1.5" fill="#F4594F"/>
<circle cx="126.6" cy="558.8" r="1.15" fill="#2A6390"/>
<circle cx="139.8" cy="558.8" r="0.7" fill="#F4594F"/>
<circle cx="146.7" cy="558.8" r="0.7" fill="#2A6390"/>
<circle cx="159.8" cy="558.8" r="1.15" fill="#F4594F"/>
<circle cx="166.7" cy="558.8" r="1.15" fill="#2A6390"/>
<circle cx="179.9" cy="558.8" r="0.7" fill="#F4594F"/>
<circle cx="186.8" cy="558.8" r="0.7" fill="#2A6390"/>
<circle cx="200.0" cy="558.8" r="2.1" fill="#F4594F"/>
<circle cx="206.9" cy="558.8" r="1.5" fill="#2A6390"/>
<circle cx="220.0" cy="558.8" r="0.7" fill="#F4594F"/>
<circle cx="226.9" cy="558.8" r="0.7" fill="#2A6390"/>
<circle cx="240.1" cy="558.8" r="2.6" fill="#F4594F"/>
<circle cx="247.0" cy="558.8" r="1.5" fill="#2A6390"/>
<circle cx="260.2" cy="558.8" r="1.15" fill="#F4594F"/>
<circle cx="267.1" cy="558.8" r="1.15" fill="#2A6390"/>
<circle cx="280.2" cy="558.8" r="1.5" fill="#F4594F"/>
<circle cx="287.1" cy="558.8" r="1.15" fill="#2A6390"/>
<circle cx="300.3" cy="558.8" r="2.1" fill="#F4594F"/>
<circle cx="307.2" cy="558.8" r="1.5" fill="#2A6390"/>
<circle cx="320.4" cy="558.8" r="0.7" fill="#F4594F"/>
<circle cx="327.3" cy="558.8" r="1.15" fill="#2A6390"/>
<circle cx="340.4" cy="558.8" r="0.35" fill="#F4594F"/>
<circle cx="347.3" cy="558.8" r="0.7" fill="#2A6390"/>
<circle cx="376.9" cy="558.8" r="0.35" fill="#F4594F"/>
<circle cx="383.5" cy="558.8" r="0.7" fill="#2A6390"/>
<circle cx="393.5" cy="558.8" r="0.35" fill="#F4594F"/>
<circle cx="400.1" cy="558.8" r="0.7" fill="#2A6390"/>
<circle cx="39.4" cy="566.4" r="0.7" fill="#F4594F"/>
<circle cx="46.3" cy="566.4" r="0.7" fill="#2A6390"/>
<circle cx="59.5" cy="566.4" r="0.7" fill="#F4594F"/>
<circle cx="66.4" cy="566.4" r="0.7" fill="#2A6390"/>
<circle cx="79.5" cy="566.4" r="0.7" fill="#F4594F"/>
<circle cx="86.4" cy="566.4" r="0.7" fill="#2A6390"/>
<circle cx="99.6" cy="566.4" r="0.7" fill="#F4594F"/>
<circle cx="106.5" cy="566.4" r="0.7" fill="#2A6390"/>
<circle cx="119.7" cy="566.4" r="0.7" fill="#F4594F"/>
<circle cx="126.6" cy="566.4" r="0.7" fill="#2A6390"/>
<circle cx="139.8" cy="566.4" r="0.7" fill="#F4594F"/>
<circle cx="146.7" cy="566.4" r="0.7" fill="#2A6390"/>
<circle cx="159.8" cy="566.4" r="0.7" fill="#F4594F"/>
<circle cx="166.7" cy="566.4" r="0.7" fill="#2A6390"/>
<circle cx="179.9" cy="566.4" r="0.7" fill="#F4594F"/>
<circle cx="186.8" cy="566.4" r="0.7" fill="#2A6390"/>
<circle cx="200.0" cy="566.4" r="0.7" fill="#F4594F"/>
<circle cx="206.9" cy="566.4" r="1.15" fill="#2A6390"/>
<circle cx="220.0" cy="566.4" r="0.7" fill="#F4594F"/>
<circle cx="226.9" cy="566.4" r="0.7" fill="#2A6390"/>
<circle cx="240.1" cy="566.4" r="0.7" fill="#F4594F"/>
<circle cx="247.0" cy="566.4" r="0.7" fill="#2A6390"/>
<circle cx="260.2" cy="566.4" r="0.7" fill="#F4594F"/>
<circle cx="267.1" cy="566.4" r="0.7" fill="#2A6390"/>
<circle cx="280.2" cy="566.4" r="0.7" fill="#F4594F"/>
<circle cx="287.1" cy="566.4" r="1.15" fill="#2A6390"/>
<circle cx="300.3" cy="566.4" r="0.7" fill="#F4594F"/>
<circle cx="307.2" cy="566.4" r="0.7" fill="#2A6390"/>
<circle cx="320.4" cy="566.4" r="0.7" fill="#F4594F"/>
<circle cx="327.3" cy="566.4" r="0.7" fill="#2A6390"/>
<circle cx="340.4" cy="566.4" r="0.7" fill="#F4594F"/>
<circle cx="347.3" cy="566.4" r="1.15" fill="#2A6390"/>
<circle cx="376.9" cy="566.4" r="1.15" fill="#F4594F"/>
<circle cx="383.5" cy="566.4" r="1.5" fill="#2A6390"/>
<circle cx="393.5" cy="566.4" r="0.7" fill="#F4594F"/>
<circle cx="400.1" cy="566.4" r="1.15" fill="#2A6390"/>
<circle cx="39.4" cy="574.0" r="1.5" fill="#F4594F"/>
<circle cx="46.3" cy="574.0" r="2.1" fill="#2A6390"/>
<circle cx="59.5" cy="574.0" r="0.7" fill="#F4594F"/>
<circle cx="66.4" cy="574.0" r="1.15" fill="#2A6390"/>
<circle cx="79.5" cy="574.0" r="1.5" fill="#F4594F"/>
<circle cx="86.4" cy="574.0" r="2.1" fill="#2A6390"/>
<circle cx="99.6" cy="574.0" r="2.6" fill="#F4594F"/>
<circle cx="106.5" cy="574.0" r="3.1" fill="#2A6390"/>
<circle cx="119.7" cy="574.0" r="1.5" fill="#F4594F"/>
<circle cx="126.6" cy="574.0" r="1.5" fill="#2A6390"/>
<circle cx="139.8" cy="574.0" r="1.15" fill="#F4594F"/>
<circle cx="146.7" cy="574.0" r="1.15" fill="#2A6390"/>
<circle cx="159.8" cy="574.0" r="1.5" fill="#F4594F"/>
<circle cx="166.7" cy="574.0" r="1.5" fill="#2A6390"/>
<circle cx="179.9" cy="574.0" r="1.15" fill="#F4594F"/>
<circle cx="186.8" cy="574.0" r="0.7" fill="#2A6390"/>
<circle cx="200.0" cy="574.0" r="2.6" fill="#F4594F"/>
<circle cx="206.9" cy="574.0" r="2.1" fill="#2A6390"/>
<circle cx="220.0" cy="574.0" r="0.7" fill="#F4594F"/>
<circle cx="226.9" cy="574.0" r="0.7" fill="#2A6390"/>
<circle cx="240.1" cy="574.0" r="3.75" fill="#F4594F"/>
<circle cx="247.0" cy="574.0" r="2.6" fill="#2A6390"/>
<circle cx="260.2" cy="574.0" r="2.1" fill="#F4594F"/>
<circle cx="267.1" cy="574.0" r="1.5" fill="#2A6390"/>
<circle cx="280.2" cy="574.0" r="2.6" fill="#F4594F"/>
<circle cx="287.1" cy="574.0" r="1.5" fill="#2A6390"/>
<circle cx="300.3" cy="574.0" r="3.1" fill="#F4594F"/>
<circle cx="307.2" cy="574.0" r="1.5" fill="#2A6390"/>
<circle cx="320.4" cy="574.0" r="0.7" fill="#F4594F"/>
<circle cx="327.3" cy="574.0" r="1.15" fill="#2A6390"/>
<circle cx="340.4" cy="574.0" r="0.7" fill="#F4594F"/>
<circle cx="347.3" cy="574.0" r="0.7" fill="#2A6390"/>
<circle cx="376.9" cy="574.0" r="0.35" fill="#F4594F"/>
<circle cx="383.5" cy="574.0" r="0.7" fill="#2A6390"/>
<circle cx="393.5" cy="574.0" r="0.35" fill="#F4594F"/>
<circle cx="400.1" cy="574.0" r="0.7" fill="#2A6390"/>
<circle cx="39.4" cy="581.7" r="0.7" fill="#F4594F"/>
<circle cx="46.3" cy="581.7" r="1.15" fill="#2A6390"/>
<circle cx="59.5" cy="581.7" r="0.7" fill="#F4594F"/>
<circle cx="66.4" cy="581.7" r="0.7" fill="#2A6390"/>
<circle cx="79.5" cy="581.7" r="0.7" fill="#F4594F"/>
<circle cx="86.4" cy="581.7" r="1.15" fill="#2A6390"/>
<circle cx="99.6" cy="581.7" r="1.15" fill="#F4594F"/>
<circle cx="106.5" cy="581.7" r="1.15" fill="#2A6390"/>
<circle cx="119.7" cy="581.7" r="0.7" fill="#F4594F"/>
<circle cx="126.6" cy="581.7" r="0.7" fill="#2A6390"/>
<circle cx="139.8" cy="581.7" r="0.7" fill="#F4594F"/>
<circle cx="146.7" cy="581.7" r="0.7" fill="#2A6390"/>
<circle cx="159.8" cy="581.7" r="0.7" fill="#F4594F"/>
<circle cx="166.7" cy="581.7" r="0.7" fill="#2A6390"/>
<circle cx="179.9" cy="581.7" r="0.7" fill="#F4594F"/>
<circle cx="186.8" cy="581.7" r="0.7" fill="#2A6390"/>
<circle cx="200.0" cy="581.7" r="1.15" fill="#F4594F"/>
<circle cx="206.9" cy="581.7" r="1.5" fill="#2A6390"/>
<circle cx="220.0" cy="581.7" r="0.7" fill="#F4594F"/>
<circle cx="226.9" cy="581.7" r="0.7" fill="#2A6390"/>
<circle cx="240.1" cy="581.7" r="1.15" fill="#F4594F"/>
<circle cx="247.0" cy="581.7" r="1.15" fill="#2A6390"/>
<circle cx="260.2" cy="581.7" r="1.15" fill="#F4594F"/>
<circle cx="267.1" cy="581.7" r="1.15" fill="#2A6390"/>
<circle cx="280.2" cy="581.7" r="2.1" fill="#F4594F"/>
<circle cx="287.1" cy="581.7" r="2.1" fill="#2A6390"/>
<circle cx="300.3" cy="581.7" r="0.7" fill="#F4594F"/>
<circle cx="307.2" cy="581.7" r="0.7" fill="#2A6390"/>
<circle cx="320.4" cy="581.7" r="2.1" fill="#F4594F"/>
<circle cx="327.3" cy="581.7" r="1.5" fill="#2A6390"/>
<circle cx="340.4" cy="581.7" r="1.5" fill="#F4594F"/>
<circle cx="347.3" cy="581.7" r="2.1" fill="#2A6390"/>
<circle cx="376.9" cy="581.7" r="1.15" fill="#F4594F"/>
<circle cx="383.5" cy="581.7" r="1.5" fill="#2A6390"/>
<circle cx="393.5" cy="581.7" r="1.15" fill="#F4594F"/>
<circle cx="400.1" cy="581.7" r="1.15" fill="#2A6390"/>
<circle cx="39.4" cy="589.4" r="0.7" fill="#F4594F"/>
<circle cx="46.3" cy="589.4" r="0.7" fill="#2A6390"/>
<circle cx="59.5" cy="589.4" r="0.7" fill="#F4594F"/>
<circle cx="66.4" cy="589.4" r="0.7" fill="#2A6390"/>
<circle cx="79.5" cy="589.4" r="0.7" fill="#F4594F"/>
<circle cx="86.4" cy="589.4" r="0.7" fill="#2A6390"/>
<circle cx="99.6" cy="589.4" r="0.7" fill="#F4594F"/>
<circle cx="106.5" cy="589.4" r="0.7" fill="#2A6390"/>
<circle cx="119.7" cy="589.4" r="2.6" fill="#F4594F"/>
<circle cx="126.6" cy="589.4" r="2.6" fill="#2A6390"/>
<circle cx="139.8" cy="589.4" r="3.1" fill="#F4594F"/>
<circle cx="146.7" cy="589.4" r="3.1" fill="#2A6390"/>
<circle cx="159.8" cy="589.4" r="0.7" fill="#F4594F"/>
<circle cx="166.7" cy="589.4" r="0.7" fill="#2A6390"/>
<circle cx="179.9" cy="589.4" r="0.7" fill="#F4594F"/>
<circle cx="186.8" cy="589.4" r="0.7" fill="#2A6390"/>
<circle cx="200.0" cy="589.4" r="0.7" fill="#F4594F"/>
<circle cx="206.9" cy="589.4" r="1.15" fill="#2A6390"/>
<circle cx="220.0" cy="589.4" r="0.7" fill="#F4594F"/>
<circle cx="226.9" cy="589.4" r="0.7" fill="#2A6390"/>
<circle cx="240.1" cy="589.4" r="1.15" fill="#F4594F"/>
<circle cx="247.0" cy="589.4" r="1.15" fill="#2A6390"/>
<circle cx="260.2" cy="589.4" r="0.7" fill="#F4594F"/>
<circle cx="267.1" cy="589.4" r="1.5" fill="#2A6390"/>
<circle cx="280.2" cy="589.4" r="0.7" fill="#F4594F"/>
<circle cx="287.1" cy="589.4" r="0.7" fill="#2A6390"/>
<circle cx="300.3" cy="589.4" r="0.7" fill="#F4594F"/>
<circle cx="307.2" cy="589.4" r="0.7" fill="#2A6390"/>
<circle cx="320.4" cy="589.4" r="0.7" fill="#F4594F"/>
<circle cx="327.3" cy="589.4" r="0.7" fill="#2A6390"/>
<circle cx="340.4" cy="589.4" r="0.7" fill="#F4594F"/>
<circle cx="347.3" cy="589.4" r="0.7" fill="#2A6390"/>
<circle cx="376.9" cy="589.4" r="0.35" fill="#F4594F"/>
<circle cx="383.5" cy="589.4" r="0.7" fill="#2A6390"/>
<circle cx="393.5" cy="589.4" r="0.35" fill="#F4594F"/>
<circle cx="400.1" cy="589.4" r="0.7" fill="#2A6390"/>
<circle cx="39.4" cy="597.0" r="0.7" fill="#F4594F"/>
<circle cx="46.3" cy="597.0" r="0.7" fill="#2A6390"/>
<circle cx="59.5" cy="597.0" r="1.5" fill="#F4594F"/>
<circle cx="66.4" cy="597.0" r="2.1" fill="#2A6390"/>
<circle cx="79.5" cy="597.0" r="0.7" fill="#F4594F"/>
<circle cx="86.4" cy="597.0" r="0.7" fill="#2A6390"/>
<circle cx="99.6" cy="597.0" r="0.7" fill="#F4594F"/>
<circle cx="106.5" cy="597.0" r="0.7" fill="#2A6390"/>
<circle cx="119.7" cy="597.0" r="0.7" fill="#F4594F"/>
<circle cx="126.6" cy="597.0" r="0.7" fill="#2A6390"/>
<circle cx="139.8" cy="597.0" r="0.7" fill="#F4594F"/>
<circle cx="146.7" cy="597.0" r="0.7" fill="#2A6390"/>
<circle cx="159.8" cy="597.0" r="0.7" fill="#F4594F"/>
<circle cx="166.7" cy="597.0" r="0.7" fill="#2A6390"/>
<circle cx="179.9" cy="597.0" r="0.7" fill="#F4594F"/>
<circle cx="186.8" cy="597.0" r="0.35" fill="#2A6390"/>
<circle cx="200.0" cy="597.0" r="0.7" fill="#F4594F"/>
<circle cx="206.9" cy="597.0" r="0.7" fill="#2A6390"/>
<circle cx="220.0" cy="597.0" r="0.35" fill="#F4594F"/>
<circle cx="226.9" cy="597.0" r="0.35" fill="#2A6390"/>
<circle cx="240.1" cy="597.0" r="0.7" fill="#F4594F"/>
<circle cx="247.0" cy="597.0" r="0.7" fill="#2A6390"/>
<circle cx="260.2" cy="597.0" r="0.7" fill="#F4594F"/>
<circle cx="267.1" cy="597.0" r="0.7" fill="#2A6390"/>
<circle cx="280.2" cy="597.0" r="0.7" fill="#F4594F"/>
<circle cx="287.1" cy="597.0" r="0.7" fill="#2A6390"/>
<circle cx="300.3" cy="597.0" r="0.7" fill="#F4594F"/>
<circle cx="307.2" cy="597.0" r="0.7" fill="#2A6390"/>
<circle cx="320.4" cy="597.0" r="1.15" fill="#F4594F"/>
<circle cx="327.3" cy="597.0" r="1.15" fill="#2A6390"/>
<circle cx="340.4" cy="597.0" r="0.7" fill="#F4594F"/>
<circle cx="347.3" cy="597.0" r="0.7" fill="#2A6390"/>
<circle cx="376.9" cy="597.0" r="0.7" fill="#F4594F"/>
<circle cx="383.5" cy="597.0" r="0.7" fill="#2A6390"/>
<circle cx="393.5" cy="597.0" r="0.7" fill="#F4594F"/>
<circle cx="400.1" cy="597.0" r="0.7" fill="#2A6390"/>
<circle cx="39.4" cy="604.6" r="1.5" fill="#F4594F"/>
<circle cx="46.3" cy="604.6" r="2.1" fill="#2A6390"/>
<circle cx="59.5" cy="604.6" r="0.7" fill="#F4594F"/>
<circle cx="66.4" cy="604.6" r="1.15" fill="#2A6390"/>
<circle cx="79.5" cy="604.6" r="1.5" fill="#F4594F"/>
<circle cx="86.4" cy="604.6" r="2.1" fill="#2A6390"/>
<circle cx="99.6" cy="604.6" r="1.15" fill="#F4594F"/>
<circle cx="106.5" cy="604.6" r="1.5" fill="#2A6390"/>
<circle cx="119.7" cy="604.6" r="1.5" fill="#F4594F"/>
<circle cx="126.6" cy="604.6" r="1.5" fill="#2A6390"/>
<circle cx="139.8" cy="604.6" r="1.15" fill="#F4594F"/>
<circle cx="146.7" cy="604.6" r="1.15" fill="#2A6390"/>
<circle cx="159.8" cy="604.6" r="1.5" fill="#F4594F"/>
<circle cx="166.7" cy="604.6" r="1.5" fill="#2A6390"/>
<circle cx="179.9" cy="604.6" r="1.15" fill="#F4594F"/>
<circle cx="186.8" cy="604.6" r="1.15" fill="#2A6390"/>
<circle cx="200.0" cy="604.6" r="2.6" fill="#F4594F"/>
<circle cx="206.9" cy="604.6" r="3.1" fill="#2A6390"/>
<circle cx="220.0" cy="604.6" r="1.15" fill="#F4594F"/>
<circle cx="226.9" cy="604.6" r="0.7" fill="#2A6390"/>
<circle cx="240.1" cy="604.6" r="1.15" fill="#F4594F"/>
<circle cx="247.0" cy="604.6" r="1.15" fill="#2A6390"/>
<circle cx="260.2" cy="604.6" r="1.5" fill="#F4594F"/>
<circle cx="267.1" cy="604.6" r="1.5" fill="#2A6390"/>
<circle cx="280.2" cy="604.6" r="2.1" fill="#F4594F"/>
<circle cx="287.1" cy="604.6" r="1.5" fill="#2A6390"/>
<circle cx="300.3" cy="604.6" r="1.5" fill="#F4594F"/>
<circle cx="307.2" cy="604.6" r="1.15" fill="#2A6390"/>
<circle cx="320.4" cy="604.6" r="1.15" fill="#F4594F"/>
<circle cx="327.3" cy="604.6" r="1.15" fill="#2A6390"/>
<circle cx="340.4" cy="604.6" r="1.15" fill="#F4594F"/>
<circle cx="347.3" cy="604.6" r="0.7" fill="#2A6390"/>
<circle cx="376.9" cy="604.6" r="0.7" fill="#F4594F"/>
<circle cx="383.5" cy="604.6" r="0.7" fill="#2A6390"/>
<circle cx="393.5" cy="604.6" r="0.7" fill="#F4594F"/>
<circle cx="400.1" cy="604.6" r="0.7" fill="#2A6390"/>
<circle cx="39.4" cy="612.3" r="0.7" fill="#F4594F"/>
<circle cx="46.3" cy="612.3" r="0.7" fill="#2A6390"/>
<circle cx="59.5" cy="612.3" r="1.5" fill="#F4594F"/>
<circle cx="66.4" cy="612.3" r="2.6" fill="#2A6390"/>
<circle cx="79.5" cy="612.3" r="0.7" fill="#F4594F"/>
<circle cx="86.4" cy="612.3" r="0.7" fill="#2A6390"/>
<circle cx="99.6" cy="612.3" r="0.7" fill="#F4594F"/>
<circle cx="106.5" cy="612.3" r="0.7" fill="#2A6390"/>
<circle cx="119.7" cy="612.3" r="0.7" fill="#F4594F"/>
<circle cx="126.6" cy="612.3" r="0.7" fill="#2A6390"/>
<circle cx="139.8" cy="612.3" r="0.7" fill="#F4594F"/>
<circle cx="146.7" cy="612.3" r="0.7" fill="#2A6390"/>
<circle cx="159.8" cy="612.3" r="0.7" fill="#F4594F"/>
<circle cx="166.7" cy="612.3" r="0.7" fill="#2A6390"/>
<circle cx="179.9" cy="612.3" r="0.7" fill="#F4594F"/>
<circle cx="186.8" cy="612.3" r="0.7" fill="#2A6390"/>
<circle cx="200.0" cy="612.3" r="0.7" fill="#F4594F"/>
<circle cx="206.9" cy="612.3" r="0.7" fill="#2A6390"/>
<circle cx="220.0" cy="612.3" r="0.7" fill="#F4594F"/>
<circle cx="226.9" cy="612.3" r="0.7" fill="#2A6390"/>
<circle cx="240.1" cy="612.3" r="0.7" fill="#F4594F"/>
<circle cx="247.0" cy="612.3" r="0.7" fill="#2A6390"/>
<circle cx="260.2" cy="612.3" r="0.7" fill="#F4594F"/>
<circle cx="267.1" cy="612.3" r="0.7" fill="#2A6390"/>
<circle cx="280.2" cy="612.3" r="0.7" fill="#F4594F"/>
<circle cx="287.1" cy="612.3" r="0.7" fill="#2A6390"/>
<circle cx="300.3" cy="612.3" r="0.7" fill="#F4594F"/>
<circle cx="307.2" cy="612.3" r="0.7" fill="#2A6390"/>
<circle cx="320.4" cy="612.3" r="0.7" fill="#F4594F"/>
<circle cx="327.3" cy="612.3" r="0.7" fill="#2A6390"/>
<circle cx="340.4" cy="612.3" r="0.7" fill="#F4594F"/>
<circle cx="347.3" cy="612.3" r="0.7" fill="#2A6390"/>
<circle cx="376.9" cy="612.3" r="0.35" fill="#F4594F"/>
<circle cx="383.5" cy="612.3" r="0.7" fill="#2A6390"/>
<circle cx="393.5" cy="612.3" r="0.35" fill="#F4594F"/>
<circle cx="400.1" cy="612.3" r="0.7" fill="#2A6390"/>
<circle cx="39.4" cy="620.0" r="0.7" fill="#F4594F"/>
<circle cx="46.3" cy="620.0" r="0.7" fill="#2A6390"/>
<circle cx="59.5" cy="620.0" r="0.7" fill="#F4594F"/>
<circle cx="66.4" cy="620.0" r="0.7" fill="#2A6390"/>
<circle cx="79.5" cy="620.0" r="0.7" fill="#F4594F"/>
<circle cx="86.4" cy="620.0" r="0.7" fill="#2A6390"/>
<circle cx="99.6" cy="620.0" r="0.7" fill="#F4594F"/>
<circle cx="106.5" cy="620.0" r="0.7" fill="#2A6390"/>
<circle cx="119.7" cy="620.0" r="0.7" fill="#F4594F"/>
<circle cx="126.6" cy="620.0" r="0.7" fill="#2A6390"/>
<circle cx="139.8" cy="620.0" r="0.7" fill="#F4594F"/>
<circle cx="146.7" cy="620.0" r="0.7" fill="#2A6390"/>
<circle cx="159.8" cy="620.0" r="0.7" fill="#F4594F"/>
<circle cx="166.7" cy="620.0" r="0.7" fill="#2A6390"/>
<circle cx="179.9" cy="620.0" r="2.1" fill="#F4594F"/>
<circle cx="186.8" cy="620.0" r="1.5" fill="#2A6390"/>
<circle cx="200.0" cy="620.0" r="0.7" fill="#F4594F"/>
<circle cx="206.9" cy="620.0" r="0.7" fill="#2A6390"/>
<circle cx="220.0" cy="620.0" r="0.7" fill="#F4594F"/>
<circle cx="226.9" cy="620.0" r="0.7" fill="#2A6390"/>
<circle cx="240.1" cy="620.0" r="0.7" fill="#F4594F"/>
<circle cx="247.0" cy="620.0" r="0.7" fill="#2A6390"/>
<circle cx="260.2" cy="620.0" r="0.7" fill="#F4594F"/>
<circle cx="267.1" cy="620.0" r="0.7" fill="#2A6390"/>
<circle cx="280.2" cy="620.0" r="0.7" fill="#F4594F"/>
<circle cx="287.1" cy="620.0" r="0.7" fill="#2A6390"/>
<circle cx="300.3" cy="620.0" r="0.7" fill="#F4594F"/>
<circle cx="307.2" cy="620.0" r="0.7" fill="#2A6390"/>
<circle cx="320.4" cy="620.0" r="0.7" fill="#F4594F"/>
<circle cx="327.3" cy="620.0" r="0.7" fill="#2A6390"/>
<circle cx="340.4" cy="620.0" r="0.7" fill="#F4594F"/>
<circle cx="347.3" cy="620.0" r="0.7" fill="#2A6390"/>
<circle cx="376.9" cy="620.0" r="0.7" fill="#F4594F"/>
<circle cx="383.5" cy="620.0" r="0.7" fill="#2A6390"/>
<circle cx="393.5" cy="620.0" r="0.7" fill="#F4594F"/>
<circle cx="400.1" cy="620.0" r="0.7" fill="#2A6390"/>
<circle cx="39.4" cy="627.6" r="1.15" fill="#F4594F"/>
<circle cx="46.3" cy="627.6" r="1.5" fill="#2A6390"/>
<circle cx="59.5" cy="627.6" r="0.7" fill="#F4594F"/>
<circle cx="66.4" cy="627.6" r="1.15" fill="#2A6390"/>
<circle cx="79.5" cy="627.6" r="1.5" fill="#F4594F"/>
<circle cx="86.4" cy="627.6" r="1.5" fill="#2A6390"/>
<circle cx="99.6" cy="627.6" r="1.15" fill="#F4594F"/>
<circle cx="106.5" cy="627.6" r="1.5" fill="#2A6390"/>
<circle cx="119.7" cy="627.6" r="1.5" fill="#F4594F"/>
<circle cx="126.6" cy="627.6" r="1.15" fill="#2A6390"/>
<circle cx="139.8" cy="627.6" r="1.15" fill="#F4594F"/>
<circle cx="146.7" cy="627.6" r="1.15" fill="#2A6390"/>
<circle cx="159.8" cy="627.6" r="1.5" fill="#F4594F"/>
<circle cx="166.7" cy="627.6" r="1.15" fill="#2A6390"/>
<circle cx="179.9" cy="627.6" r="1.15" fill="#F4594F"/>
<circle cx="186.8" cy="627.6" r="1.15" fill="#2A6390"/>
<circle cx="200.0" cy="627.6" r="1.5" fill="#F4594F"/>
<circle cx="206.9" cy="627.6" r="1.5" fill="#2A6390"/>
<circle cx="220.0" cy="627.6" r="1.15" fill="#F4594F"/>
<circle cx="226.9" cy="627.6" r="0.7" fill="#2A6390"/>
<circle cx="240.1" cy="627.6" r="1.15" fill="#F4594F"/>
<circle cx="247.0" cy="627.6" r="1.15" fill="#2A6390"/>
<circle cx="260.2" cy="627.6" r="1.5" fill="#F4594F"/>
<circle cx="267.1" cy="627.6" r="1.5" fill="#2A6390"/>
<circle cx="280.2" cy="627.6" r="1.5" fill="#F4594F"/>
<circle cx="287.1" cy="627.6" r="1.5" fill="#2A6390"/>
<circle cx="300.3" cy="627.6" r="1.5" fill="#F4594F"/>
<circle cx="307.2" cy="627.6" r="1.15" fill="#2A6390"/>
<circle cx="320.4" cy="627.6" r="1.15" fill="#F4594F"/>
<circle cx="327.3" cy="627.6" r="1.15" fill="#2A6390"/>
<circle cx="340.4" cy="627.6" r="1.15" fill="#F4594F"/>
<circle cx="347.3" cy="627.6" r="1.15" fill="#2A6390"/>
<circle cx="376.9" cy="627.6" r="1.15" fill="#F4594F"/>
<circle cx="383.5" cy="627.6" r="1.15" fill="#2A6390"/>
<circle cx="393.5" cy="627.6" r="0.7" fill="#F4594F"/>
<circle cx="400.1" cy="627.6" r="1.15" fill="#2A6390"/>
<circle cx="39.4" cy="635.2" r="2.6" fill="#F4594F"/>
<circle cx="46.3" cy="635.2" r="2.1" fill="#2A6390"/>
<circle cx="59.5" cy="635.2" r="1.5" fill="#F4594F"/>
<circle cx="66.4" cy="635.2" r="1.5" fill="#2A6390"/>
<circle cx="79.5" cy="635.2" r="2.6" fill="#F4594F"/>
<circle cx="86.4" cy="635.2" r="2.6" fill="#2A6390"/>
<circle cx="99.6" cy="635.2" r="1.5" fill="#F4594F"/>
<circle cx="106.5" cy="635.2" r="1.5" fill="#2A6390"/>
<circle cx="119.7" cy="635.2" r="2.1" fill="#F4594F"/>
<circle cx="126.6" cy="635.2" r="1.5" fill="#2A6390"/>
<circle cx="139.8" cy="635.2" r="1.5" fill="#F4594F"/>
<circle cx="146.7" cy="635.2" r="1.15" fill="#2A6390"/>
<circle cx="159.8" cy="635.2" r="2.6" fill="#F4594F"/>
<circle cx="166.7" cy="635.2" r="1.5" fill="#2A6390"/>
<circle cx="179.9" cy="635.2" r="1.15" fill="#F4594F"/>
<circle cx="186.8" cy="635.2" r="0.7" fill="#2A6390"/>
<circle cx="200.0" cy="635.2" r="2.1" fill="#F4594F"/>
<circle cx="206.9" cy="635.2" r="2.1" fill="#2A6390"/>
<circle cx="220.0" cy="635.2" r="1.15" fill="#F4594F"/>
<circle cx="226.9" cy="635.2" r="0.7" fill="#2A6390"/>
<circle cx="240.1" cy="635.2" r="2.1" fill="#F4594F"/>
<circle cx="247.0" cy="635.2" r="1.5" fill="#2A6390"/>
<circle cx="260.2" cy="635.2" r="2.1" fill="#F4594F"/>
<circle cx="267.1" cy="635.2" r="2.1" fill="#2A6390"/>
<circle cx="280.2" cy="635.2" r="2.1" fill="#F4594F"/>
<circle cx="287.1" cy="635.2" r="1.5" fill="#2A6390"/>
<circle cx="300.3" cy="635.2" r="2.6" fill="#F4594F"/>
<circle cx="307.2" cy="635.2" r="1.5" fill="#2A6390"/>
<circle cx="320.4" cy="635.2" r="1.15" fill="#F4594F"/>
<circle cx="327.3" cy="635.2" r="1.5" fill="#2A6390"/>
<circle cx="340.4" cy="635.2" r="0.7" fill="#F4594F"/>
<circle cx="347.3" cy="635.2" r="0.7" fill="#2A6390"/>
<circle cx="376.9" cy="635.2" r="0.7" fill="#F4594F"/>
<circle cx="383.5" cy="635.2" r="0.7" fill="#2A6390"/>
<circle cx="393.5" cy="635.2" r="0.7" fill="#F4594F"/>
<circle cx="400.1" cy="635.2" r="0.7" fill="#2A6390"/>
<circle cx="39.4" cy="642.9" r="0.7" fill="#F4594F"/>
<circle cx="46.3" cy="642.9" r="0.7" fill="#2A6390"/>
<circle cx="59.5" cy="642.9" r="0.7" fill="#F4594F"/>
<circle cx="66.4" cy="642.9" r="0.7" fill="#2A6390"/>
<circle cx="79.5" cy="642.9" r="0.7" fill="#F4594F"/>
<circle cx="86.4" cy="642.9" r="1.15" fill="#2A6390"/>
<circle cx="99.6" cy="642.9" r="1.15" fill="#F4594F"/>
<circle cx="106.5" cy="642.9" r="1.15" fill="#2A6390"/>
<circle cx="119.7" cy="642.9" r="3.1" fill="#F4594F"/>
<circle cx="126.6" cy="642.9" r="2.6" fill="#2A6390"/>
<circle cx="139.8" cy="642.9" r="3.75" fill="#F4594F"/>
<circle cx="146.7" cy="642.9" r="3.1" fill="#2A6390"/>
<circle cx="159.8" cy="642.9" r="0.7" fill="#F4594F"/>
<circle cx="166.7" cy="642.9" r="0.7" fill="#2A6390"/>
<circle cx="179.9" cy="642.9" r="0.7" fill="#F4594F"/>
<circle cx="186.8" cy="642.9" r="0.7" fill="#2A6390"/>
<circle cx="200.0" cy="642.9" r="1.15" fill="#F4594F"/>
<circle cx="206.9" cy="642.9" r="1.15" fill="#2A6390"/>
<circle cx="220.0" cy="642.9" r="0.7" fill="#F4594F"/>
<circle cx="226.9" cy="642.9" r="0.7" fill="#2A6390"/>
<circle cx="240.1" cy="642.9" r="1.15" fill="#F4594F"/>
<circle cx="247.0" cy="642.9" r="1.15" fill="#2A6390"/>
<circle cx="260.2" cy="642.9" r="0.7" fill="#F4594F"/>
<circle cx="267.1" cy="642.9" r="2.6" fill="#2A6390"/>
<circle cx="280.2" cy="642.9" r="0.7" fill="#F4594F"/>
<circle cx="287.1" cy="642.9" r="0.7" fill="#2A6390"/>
<circle cx="300.3" cy="642.9" r="1.15" fill="#F4594F"/>
<circle cx="307.2" cy="642.9" r="1.15" fill="#2A6390"/>
<circle cx="320.4" cy="642.9" r="0.7" fill="#F4594F"/>
<circle cx="327.3" cy="642.9" r="0.7" fill="#2A6390"/>
<circle cx="340.4" cy="642.9" r="0.7" fill="#F4594F"/>
<circle cx="347.3" cy="642.9" r="0.7" fill="#2A6390"/>
<circle cx="376.9" cy="642.9" r="0.7" fill="#F4594F"/>
<circle cx="383.5" cy="642.9" r="0.7" fill="#2A6390"/>
<circle cx="393.5" cy="642.9" r="0.7" fill="#F4594F"/>
<circle cx="400.1" cy="642.9" r="0.7" fill="#2A6390"/>
<circle cx="39.4" cy="650.5" r="2.6" fill="#F4594F"/>
<circle cx="46.3" cy="650.5" r="2.1" fill="#2A6390"/>
<circle cx="59.5" cy="650.5" r="1.5" fill="#F4594F"/>
<circle cx="66.4" cy="650.5" r="2.1" fill="#2A6390"/>
<circle cx="79.5" cy="650.5" r="3.1" fill="#F4594F"/>
<circle cx="86.4" cy="650.5" r="2.6" fill="#2A6390"/>
<circle cx="99.6" cy="650.5" r="2.1" fill="#F4594F"/>
<circle cx="106.5" cy="650.5" r="2.1" fill="#2A6390"/>
<circle cx="119.7" cy="650.5" r="2.6" fill="#F4594F"/>
<circle cx="126.6" cy="650.5" r="1.5" fill="#2A6390"/>
<circle cx="139.8" cy="650.5" r="1.5" fill="#F4594F"/>
<circle cx="146.7" cy="650.5" r="1.15" fill="#2A6390"/>
<circle cx="159.8" cy="650.5" r="2.6" fill="#F4594F"/>
<circle cx="166.7" cy="650.5" r="2.1" fill="#2A6390"/>
<circle cx="179.9" cy="650.5" r="1.15" fill="#F4594F"/>
<circle cx="186.8" cy="650.5" r="1.15" fill="#2A6390"/>
<circle cx="200.0" cy="650.5" r="2.6" fill="#F4594F"/>
<circle cx="206.9" cy="650.5" r="2.6" fill="#2A6390"/>
<circle cx="220.0" cy="650.5" r="1.5" fill="#F4594F"/>
<circle cx="226.9" cy="650.5" r="1.15" fill="#2A6390"/>
<circle cx="240.1" cy="650.5" r="2.1" fill="#F4594F"/>
<circle cx="247.0" cy="650.5" r="2.1" fill="#2A6390"/>
<circle cx="260.2" cy="650.5" r="2.6" fill="#F4594F"/>
<circle cx="267.1" cy="650.5" r="2.1" fill="#2A6390"/>
<circle cx="280.2" cy="650.5" r="2.6" fill="#F4594F"/>
<circle cx="287.1" cy="650.5" r="2.1" fill="#2A6390"/>
<circle cx="300.3" cy="650.5" r="2.6" fill="#F4594F"/>
<circle cx="307.2" cy="650.5" r="1.5" fill="#2A6390"/>
<circle cx="320.4" cy="650.5" r="1.5" fill="#F4594F"/>
<circle cx="327.3" cy="650.5" r="1.5" fill="#2A6390"/>
<circle cx="340.4" cy="650.5" r="1.5" fill="#F4594F"/>
<circle cx="347.3" cy="650.5" r="1.5" fill="#2A6390"/>
<circle cx="376.9" cy="650.5" r="1.5" fill="#F4594F"/>
<circle cx="383.5" cy="650.5" r="1.15" fill="#2A6390"/>
<circle cx="393.5" cy="650.5" r="1.5" fill="#F4594F"/>
<circle cx="400.1" cy="650.5" r="1.15" fill="#2A6390"/>
</svg></body></html>
